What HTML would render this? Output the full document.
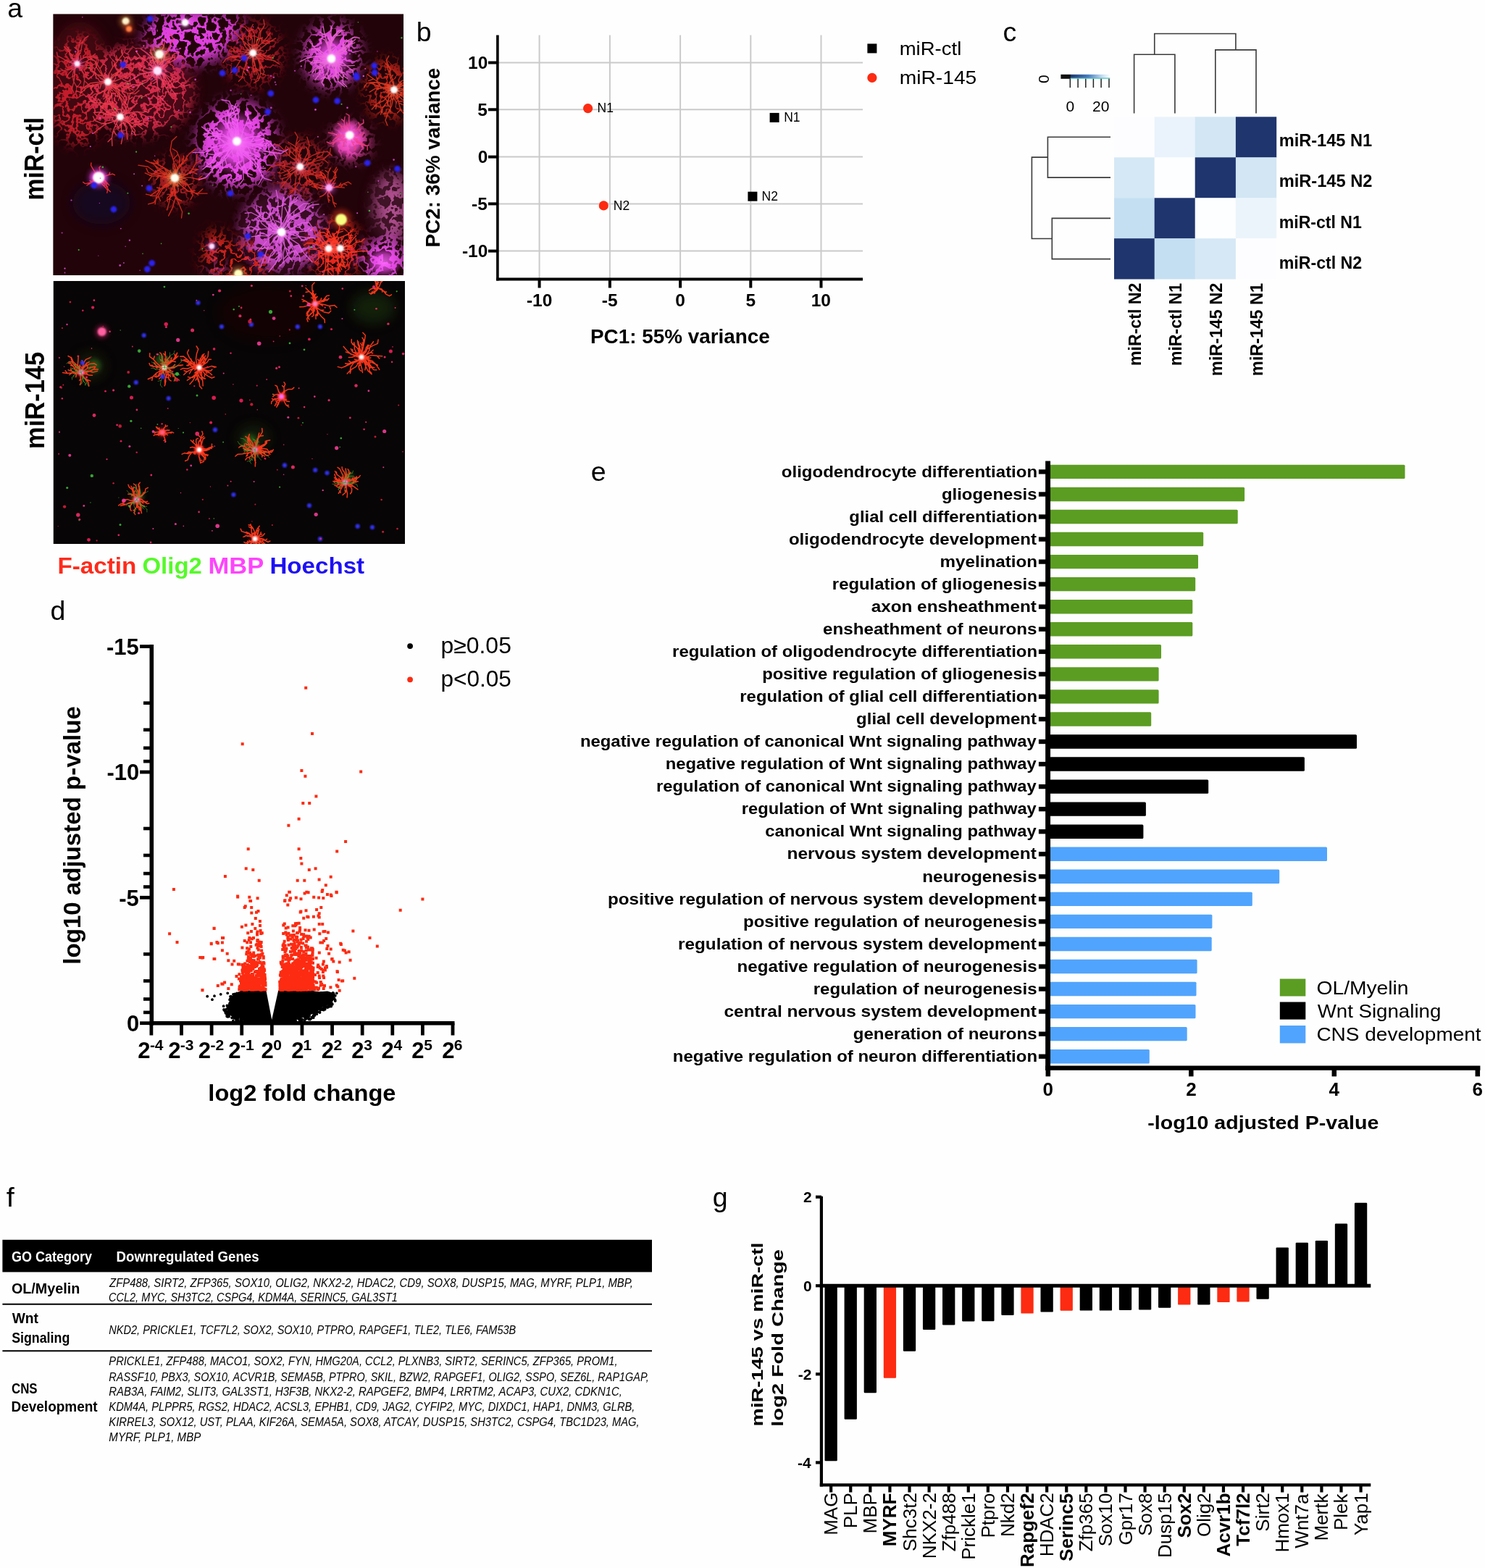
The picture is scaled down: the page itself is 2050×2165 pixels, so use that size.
<!DOCTYPE html><html><head><meta charset="utf-8"><title>Figure</title><style>html,body{margin:0;padding:0;background:#fff;}svg{display:block;}</style></head><body>
<svg width="2050" height="2165" viewBox="0 0 2050 2165" font-family="'Liberation Sans', Arial, Helvetica, sans-serif">
<rect x="0" y="0" width="2050" height="2165" fill="#fefefe"/>
<defs><clipPath id="c1"><rect x="73.2" y="19.2" width="484" height="361"/></clipPath><clipPath id="c2"><rect x="73.5" y="388" width="485.5" height="363"/></clipPath><filter id="b1" x="-50%" y="-50%" width="200%" height="200%"><feGaussianBlur stdDeviation="1.2"/></filter><filter id="b3" x="-50%" y="-50%" width="200%" height="200%"><feGaussianBlur stdDeviation="3"/></filter><filter id="b8" x="-50%" y="-50%" width="200%" height="200%"><feGaussianBlur stdDeviation="8"/></filter><filter id="bl" x="-20%" y="-20%" width="140%" height="140%"><feGaussianBlur stdDeviation="0.5"/></filter><filter id="mesh" x="0" y="0" width="100%" height="100%" filterUnits="userSpaceOnUse"><feGaussianBlur in="SourceGraphic" stdDeviation="9" result="s"/><feTurbulence type="fractalNoise" baseFrequency="0.075" numOctaves="3" seed="4" result="n"/><feColorMatrix in="n" type="matrix" values="0 0 0 0 0  0 0 0 0 0  0 0 0 0 0  1 0 0 0 0" result="a0"/><feComponentTransfer in="a0" result="a"><feFuncA type="table" tableValues="0 0 0 0 0 0 0 0 0 0 0 0 0 0 0 0 0 0 0 0 0 0 0.5 1 1 1 1 1 0.5 0 0 0 0 0 0 0 0 0 0 0 0 0 0 0 0 0 0 0 0 0 0"/></feComponentTransfer><feComposite in="s" in2="a" operator="in"/></filter><filter id="mesh2" x="0" y="0" width="100%" height="100%" filterUnits="userSpaceOnUse"><feGaussianBlur in="SourceGraphic" stdDeviation="10" result="s"/><feTurbulence type="fractalNoise" baseFrequency="0.07" numOctaves="3" seed="9" result="n"/><feColorMatrix in="n" type="matrix" values="0 0 0 0 0  0 0 0 0 0  0 0 0 0 0  1 0 0 0 0" result="a0"/><feComponentTransfer in="a0" result="a"><feFuncA type="table" tableValues="0 0 0 0 0 0 0 0 0 0 0 0 0 0 0 0 0 0 0 0 0 0.5 1 1 1 1 1 1 1 0.5 0 0 0 0 0 0 0 0 0 0 0 0 0 0 0 0 0 0 0 0 0"/></feComponentTransfer><feComposite in="s" in2="a" operator="in"/></filter></defs>
<g clip-path="url(#c1)">
<rect x="73.2" y="19.2" width="484" height="361" fill="#220309"/>
<g filter="url(#b8)" opacity="0.55"><ellipse cx="110" cy="110" rx="45" ry="80" fill="#5a0a18"/><ellipse cx="200" cy="120" rx="70" ry="60" fill="#6a1024"/><ellipse cx="540" cy="285" rx="30" ry="50" fill="#5a2040"/><ellipse cx="390" cy="320" rx="60" ry="55" fill="#50183a"/><ellipse cx="140" cy="280" rx="40" ry="30" fill="#0a0830"/></g>
<g filter="url(#mesh)"><ellipse cx="108" cy="125" rx="40" ry="75" fill="#c41c2c"/><ellipse cx="190" cy="125" rx="75" ry="62" fill="#d42a48"/><ellipse cx="241" cy="250" rx="30" ry="34" fill="#a81a20"/><ellipse cx="414" cy="232" rx="38" ry="40" fill="#a01a22"/><ellipse cx="349" cy="75" rx="40" ry="45" fill="#a01822"/><ellipse cx="536" cy="124" rx="32" ry="42" fill="#b82018"/><ellipse cx="462" cy="345" rx="38" ry="40" fill="#e8281c"/><ellipse cx="338" cy="360" rx="35" ry="25" fill="#d82418"/><ellipse cx="300" cy="350" rx="22" ry="32" fill="#c82018"/></g>
<g filter="url(#mesh2)"><ellipse cx="262" cy="50" rx="62" ry="38" fill="#e040e0"/><ellipse cx="318" cy="35" rx="16" ry="18" fill="#e040e0"/><ellipse cx="458" cy="76" rx="38" ry="44" fill="#f050e8"/><ellipse cx="327" cy="200" rx="55" ry="60" fill="#ee48ee"/><ellipse cx="390" cy="318" rx="55" ry="55" fill="#c848c8"/><ellipse cx="484" cy="196" rx="26" ry="24" fill="#f048b0"/><ellipse cx="530" cy="360" rx="32" ry="30" fill="#f050f0"/><ellipse cx="542" cy="285" rx="22" ry="45" fill="#b05090"/><ellipse cx="300" cy="370" rx="12" ry="10" fill="#e040a0"/></g>
<defs><radialGradient id="rgm"><stop offset="0" stop-color="#ff70ff"/><stop offset="0.5" stop-color="#e848e8" stop-opacity="0.85"/><stop offset="1" stop-color="#d040d0" stop-opacity="0"/></radialGradient><radialGradient id="rgp"><stop offset="0" stop-color="#ff70e0"/><stop offset="0.6" stop-color="#f048c0" stop-opacity="0.8"/><stop offset="1" stop-color="#e040b0" stop-opacity="0"/></radialGradient></defs>
<ellipse cx="327" cy="198" rx="42" ry="46" fill="url(#rgm)"/>
<ellipse cx="458" cy="78" rx="30" ry="32" fill="url(#rgm)" opacity="0.9"/>
<ellipse cx="481" cy="192" rx="26" ry="30" fill="url(#rgp)"/>
<ellipse cx="530" cy="362" rx="26" ry="22" fill="url(#rgm)" opacity="0.8"/>
<ellipse cx="136" cy="245" rx="14" ry="12" fill="url(#rgm)"/>
<path d="M349 73L358.6 76.4L367.1 82.1L377.2 83.2L385.9 88.6M349 73L355.3 75.8M355.3 75.8L359.7 73.8M355.3 75.8L362.2 75.3M362.2 75.3L366.3 77.8M362.2 75.3L368.8 77.3M368.8 77.3L373.4 75.9M368.8 77.3L375.1 80.1M375.1 80.1L378.9 77.1M375.1 80.1M349 73L356 80.7M356 80.7L363.1 81.8M356 80.7L358.8 90.6L359.8 101M359.8 101L366.5 103.7M359.8 101L356.8 110.9M356.8 110.9L350.5 114.5M356.8 110.9M349 73L354 78.8L358.5 85.1L361.6 92.1M361.6 92.1L358.6 96.6M361.6 92.1L364.8 99.1M364.8 99.1L362.9 104.1M364.8 99.1M349 73L349.9 80.6L351.9 88M351.9 88L349.5 92.8M351.9 88L353.3 95.5M353.3 95.5L358.1 97.9M353.3 95.5L353.7 103.1M349 73L348.8 80.6L348.5 88.2L350.1 95.6L351.1 103.1M349 73L348.8 80.9L350.9 88.4L354 95.6M354 95.6L350.7 100M354 95.6L356.8 103M356.8 103L355 108.2M356.8 103M349 73L342.3 79.9M342.3 79.9L335.8 81.3M342.3 79.9L339.3 89L336 98M336 98L339.8 103.6M336 98L334.2 107.4M334.2 107.4L329.4 112.2M334.2 107.4M349 73L340 76.4M340 76.4L336 81.9M340 76.4L330.4 77.7L320.8 77.7L311.9 81.4M311.9 81.4L307.8 86.8M311.9 81.4M349 73L342.1 74.3L335.9 77.7L328.9 78.1L322.1 79.7M322.1 79.7L317.7 77.3M322.1 79.7M349 73L340.7 72.5L332.6 70.9L324.3 70.7M324.3 70.7L320.4 66.4M324.3 70.7L316.1 70.1M349 73L339.1 76.3L331.6 83.7M331.6 83.7L324.5 82.1M331.6 83.7L326.2 92.6L318.9 100.2M349 73L342.9 69.1L338.1 63.6M338.1 63.6L338.4 58.6M338.1 63.6L335.3 57L334.5 49.8M334.5 49.8L338.2 46.4M334.5 49.8M349 73L344.9 66L342.2 58.3L343.2 50.2L344.4 42.2M344.4 42.2L349.7 40.1M344.4 42.2M349 73L344.2 64.3L336.9 57.6L330.1 50.4L322.8 43.6M349 73L348.1 63.4M348.1 63.4L342.6 59.5M348.1 63.4L348.3 53.8M348.3 53.8L343.2 49.3M348.3 53.8L344.3 45L338 37.7M338 37.7L331.6 35.7M338 37.7M349 73L349.8 64.2M349.8 64.2L354.3 60M349.8 64.2L351.6 55.6L351.1 46.7L346.4 39.2M346.4 39.2L349.2 33.7M346.4 39.2M349 73L352.3 63.6L356 54.5M356 54.5L362.5 52M356 54.5L358.2 44.8L364.5 37.1M349 73L354.4 63.9M354.4 63.9L354 56.5M354.4 63.9L358.7 54.3L360 43.8M360 43.8L355.9 37.6M360 43.8L365.2 34.6M365.2 34.6L363.9 27.3M365.2 34.6M349 73L354.9 66.1L361.3 59.5M361.3 59.5L361.1 53.1M361.3 59.5L367.5 52.8L372.9 45.5M349 73L357.4 68.8M357.4 68.8L363.7 70.6M357.4 68.8L364.9 63.1L372.4 57.3M372.4 57.3L378.9 56.4M372.4 57.3L380.7 52.9M349 73L353.8 68.6M353.8 68.6L358.3 68.9M353.8 68.6L357.4 63.2L362.4 59M362.4 59L366.7 60.4M362.4 59L368.2 56M368.2 56L372.4 57.8M368.2 56" fill="none" stroke="#d8302a" stroke-width="1.4" stroke-opacity="0.85" stroke-linecap="round" stroke-linejoin="round"/>
<path d="M544 124L553.2 124.9L562 122.2L570.2 117.9L577.5 112.3M577.5 112.3L578.4 105.9M577.5 112.3M544 124L553.1 127.3M553.1 127.3L555.7 133.6M553.1 127.3L561.5 132.3M561.5 132.3L568.3 132.5M561.5 132.3L568.2 139.4M568.2 139.4L566.4 145.9M568.2 139.4L572.1 148.3M544 124L548.4 132.6L550.4 141.9M550.4 141.9L556.5 144.8M550.4 141.9L553 151.2M553 151.2L548.4 156M553 151.2L558.7 158.9M544 124L550 130M550 130L555.7 131.5M550 130L557.3 134.3L563.1 140.5L571.1 143.3M544 124L543.1 135M543.1 135L547.2 141.5M543.1 135L540.7 145.7L536 155.6M536 155.6L528.5 157.2M536 155.6L532 165.9M532 165.9L534.8 173M532 165.9M544 124L549.1 131.6M549.1 131.6L546.9 137.5M549.1 131.6L555.7 137.8L564.2 141.2M564.2 141.2L570.5 140.4M564.2 141.2L573.3 140.9M544 124L540.5 130.9L539.7 138.7M539.7 138.7L534.7 140.9M539.7 138.7L538.5 146.3L539.1 154.1M544 124L538.9 132.3M538.9 132.3L542 138.4M538.9 132.3L534.2 140.9M534.2 140.9L537.1 147.1M534.2 140.9L528.3 148.6M528.3 148.6L527.6 155.4M528.3 148.6L525.6 158M544 124L536.4 131.1M536.4 131.1L536.5 138.4M536.4 131.1L529.7 139L520.2 143.3M520.2 143.3L518.8 150.4M520.2 143.3L513.3 151M544 124L537 124.8M537 124.8L533.5 128.3M537 124.8L530.3 122.6L524.5 118.6M524.5 118.6L524.1 113.7M524.5 118.6L520.2 113M520.2 113L521 108.1M520.2 113M544 124L535.5 121.6M535.5 121.6L529.5 123.1M535.5 121.6L526.6 121.9M526.6 121.9L523.2 116.7M526.6 121.9L517.8 122.4L510.2 127.1M544 124L535.6 120.5L526.5 120.5M526.5 120.5L521.1 123.8M526.5 120.5L518 117.2L509.4 114.2M544 124L536.4 117.3L526.7 114.8L516.6 113.8L506.6 114.6M506.6 114.6L502.7 120.5M506.6 114.6M544 124L534.8 118.4L524.7 114.8L515.7 109M515.7 109L508.7 111.7M515.7 109L507.1 102.6M544 124L543.4 113.5L539.5 103.6M539.5 103.6L532.3 101.8M539.5 103.6L537.8 93.2M537.8 93.2L532.7 87.9M537.8 93.2L533.2 83.7M533.2 83.7L536.7 77.2M533.2 83.7M544 124L542.9 115.8L539.1 108.4M539.1 108.4L542.4 103.5M539.1 108.4L537 100.3M537 100.3L538.8 94.8M537 100.3L534.7 92.3M544 124L549.2 117.3M549.2 117.3L555 116.4M549.2 117.3L555.2 111.3L563.2 108.6M563.2 108.6L568.9 110.3M563.2 108.6L570.3 103.8M544 124L550.1 121.8M550.1 121.8L551 117.4M550.1 121.8L555.3 118.1M555.3 118.1L559.7 118.8M555.3 118.1L560.7 114.7M560.7 114.7L561.1 110.2M560.7 114.7L567.1 113.8M567.1 113.8L569.9 117.3M567.1 113.8M544 124L550.2 117.8L557.8 113.5M557.8 113.5L563.9 114.6M557.8 113.5L563.4 106.7M563.4 106.7L562 100.7M563.4 106.7L570.8 101.9M544 124L551.1 122.1M551.1 122.1L552.9 117.3M551.1 122.1L558.5 123.1L565.5 120.9L572.2 117.9" fill="none" stroke="#e03a20" stroke-width="1.4" stroke-opacity="0.85" stroke-linecap="round" stroke-linejoin="round"/>
<path d="M241 246L250 248.2M250 248.2L255.6 245M250 248.2L257.9 253.1L262.8 261L266.1 269.7M266.1 269.7L263.1 275.5M266.1 269.7M241 246L250.2 244.2L259 240.8M259 240.8L263.2 235.7M259 240.8L265.5 233.9M265.5 233.9L272 233.5M265.5 233.9L270.1 225.7M241 246L251.8 245.1M251.8 245.1L258.6 248.2M251.8 245.1L262.6 245.1L273.1 247.5M273.1 247.5L279.1 242.9M273.1 247.5L283.8 246.1M241 246L249.8 251.2M249.8 251.2L256.7 249.4M249.8 251.2L258.9 255.7M258.9 255.7L265.6 253.3M258.9 255.7L264.9 263.9L273.6 269.2M241 246L242.2 253.7M242.2 253.7L246.7 256.9M242.2 253.7L240.5 261.4M240.5 261.4L242.6 266.4M240.5 261.4L236.4 268.1M236.4 268.1L231 268.4M236.4 268.1L230.7 273.3M230.7 273.3L231.5 278.7M230.7 273.3M241 246L249.8 255.8L260 264.1M260 264.1L269.2 263.1M260 264.1L272.9 267M272.9 267L279.8 260.9M272.9 267L286.1 267.1M241 246L241.3 258.2L241.2 270.4M241.2 270.4L246.8 276.9M241.2 270.4L246.9 281.3L251.6 292.5M251.6 292.5L250.5 301M251.6 292.5M241 246L238.7 257.1L235.9 268L233.6 279.1L230.5 290M241 246L240.7 253.9M240.7 253.9L245 257.4M240.7 253.9L240.3 261.7M240.3 261.7L242.8 266.7M240.3 261.7L237.8 269.2L232.8 275.3M241 246L239.9 259.5L242.3 272.8M242.3 272.8L250.7 277.3M242.3 272.8L238.6 285.9L232.6 298M241 246L234.2 255L224.4 260.7M224.4 260.7L216.6 259M224.4 260.7L218.4 270.3M218.4 270.3L221.5 277.6M218.4 270.3L212.3 279.8M212.3 279.8L204.6 281.9M212.3 279.8M241 246L231.2 252.5L222.2 260.2L215.9 270.2M215.9 270.2L207.6 270.4M215.9 270.2L214.1 281.9M241 246L233.5 252.7L225.5 258.8L216.7 263.8L208.4 269.6M208.4 269.6L201.5 268.1M208.4 269.6M241 246L231.6 246.5L223 242.8M223 242.8L216.5 244M223 242.8L213.8 240.9L204.8 238.4M204.8 238.4L201.9 232.5M204.8 238.4M241 246L230.8 240M230.8 240L227.1 232.6M230.8 240L220.7 233.9M220.7 233.9L213.3 237.6M220.7 233.9L211.6 226.3L200.9 221.5M241 246L230.8 243.7M230.8 243.7L223.9 246.2M230.8 243.7L220.3 243.1M220.3 243.1L215.1 248.3M220.3 243.1L209.8 243.1M209.8 243.1L205.4 249M209.8 243.1L200.3 238.9M241 246L228.4 241M228.4 241L219.2 243.2M228.4 241L215.2 238.3M215.2 238.3L206.6 242.4M215.2 238.3L204.3 230.2L191 228.1M241 246L234.4 240.9M234.4 240.9L235.3 235.2M234.4 240.9L226.3 239.1L218.8 235.4M218.8 235.4L213.8 238.4M218.8 235.4L213.9 228.7M241 246L233.8 239.6L227.6 232.2L218.9 227.9M218.9 227.9L216.2 221.7M218.9 227.9L212.3 221M241 246L235.6 237.4L227.1 231.9M227.1 231.9L220.3 233.6M227.1 231.9L218.3 226.9M218.3 226.9L218 219.8M218.3 226.9L208.5 224.3M241 246L243.3 238.3M243.3 238.3L242.1 232.8M243.3 238.3L246.1 230.8L251.4 224.8M251.4 224.8L252 219.2M251.4 224.8L258.2 220.6M258.2 220.6L257.9 215M258.2 220.6M241 246L245.6 234.1M245.6 234.1L242.5 225.8M245.6 234.1L253.4 224M253.4 224L253.5 215.1M253.4 224L260.3 213.3L270.1 205.2M241 246L242.2 232.9L239.1 220.2M239.1 220.2L245.2 213.4M239.1 220.2L235 207.8L237.2 194.8M237.2 194.8L243.8 188.4M237.2 194.8M241 246L243 236.4L247.4 227.7L247.9 218L244 209M244 209L238.1 205.5M244 209M241 246L253.4 243.3L264 236.4M264 236.4L271.9 240.5M264 236.4L270.3 225.4M270.3 225.4L278.1 221.2M270.3 225.4L272.3 212.9M241 246L248.7 241.7L257.5 240.6L265.8 237.6M265.8 237.6L271.5 240M265.8 237.6L273.7 233.6" fill="none" stroke="#e0301e" stroke-width="1.4" stroke-opacity="0.85" stroke-linecap="round" stroke-linejoin="round"/>
<path d="M414 230L425.1 227.4L435.3 222.4L446.3 219.8M446.3 219.8L452.6 224.7M446.3 219.8L455.2 212.6M455.2 212.6L456.3 204.8M455.2 212.6M414 230L421.8 235.4M421.8 235.4L428.4 236M421.8 235.4L430.2 239.9M430.2 239.9L436.4 237.7M430.2 239.9L438.8 243.9M438.8 243.9L444.2 240.1M438.8 243.9L447.9 246.8M414 230L418.4 240.3L424.8 249.5M424.8 249.5L432.7 250.1M424.8 249.5L434.6 255.1M434.6 255.1L438.3 262M434.6 255.1L444.2 260.8M414 230L419.6 236.3M419.6 236.3L425.5 236.4M419.6 236.3L426.8 240.8L435.2 241.8M435.2 241.8L437.6 247.1M435.2 241.8L443.6 241.7M443.6 241.7L447.8 245.8M443.6 241.7M414 230L418.5 235.3M418.5 235.3L418.4 240.2M418.5 235.3L422.3 241.1M422.3 241.1L421 245.8M422.3 241.1L423.7 247.9L422.8 254.8M414 230L415.3 241M415.3 241L412.2 248M415.3 241L413.1 251.8L407 261M407 261L400 264.2M407 261L399.1 268.7M414 230L408.6 235.2M408.6 235.2L409.2 240.3M408.6 235.2L402.8 239.8M402.8 239.8L397.5 239.7M402.8 239.8L396.8 244.3L389.7 246.6M414 230L409.6 236.4M409.6 236.4L404.4 237.9M409.6 236.4L408.8 244.1L407.8 251.7L407.1 259.4M407.1 259.4L411.6 262.5M407.1 259.4M414 230L407 236.4M407 236.4L407.4 243.1M407 236.4L400.4 243.3L394.6 250.8M394.6 250.8L388.3 252.9M394.6 250.8L388.8 258.4M414 230L408.2 232.7L402.4 235.5L397.7 239.7M397.7 239.7L397.2 244.1M397.7 239.7L391.9 242.4M414 230L407.5 232.2M407.5 232.2L403.2 230M407.5 232.2L400.7 233M400.7 233L398.2 237.1M400.7 233L394.7 236.3M394.7 236.3L390.4 234M394.7 236.3L388.4 239.1M388.4 239.1L383.7 238.2M388.4 239.1M414 230L403.8 231.6L393.8 229.2M393.8 229.2L390.9 222.6M393.8 229.2L383.5 227.8L373.7 230.8M373.7 230.8L368.7 236.1M373.7 230.8M414 230L407.9 221.9M407.9 221.9L408.6 214.8M407.9 221.9L399.8 215.7M399.8 215.7L399.6 208.6M399.8 215.7L392.9 208.2M392.9 208.2L395.2 201.5M392.9 208.2L385.8 200.9M385.8 200.9L378.9 199.3M385.8 200.9M414 230L413.2 223.3L411.9 216.7M411.9 216.7L415.6 213.7M411.9 216.7L410.2 210.2M410.2 210.2L406.2 207.6M410.2 210.2L409.3 203.5M414 230L410.3 220.1M410.3 220.1L403.1 218.6M410.3 220.1L408.1 209.8M408.1 209.8L411.4 203.2M408.1 209.8L408.4 199.2M408.4 199.2L413.6 193.9M408.4 199.2L410.9 189M410.9 189L407.2 182.6M410.9 189M414 230L415.3 219.7M415.3 219.7L412 213.3M415.3 219.7L412.4 209.8M412.4 209.8L417.2 204.4M412.4 209.8L406.4 201.4L397.6 196M414 230L412.1 222L407.4 215.4L401.7 209.5L396.9 202.9M414 230L419.9 220.6M419.9 220.6L427 217.3M419.9 220.6L425 210.7M425 210.7L423.5 203.1M425 210.7L427 199.7L423.8 189.1M414 230L421.5 221.5M421.5 221.5L429.4 220.4M421.5 221.5L430.8 214.9L441.2 210.5L452.5 209.3M452.5 209.3L458.2 214.9M452.5 209.3M414 230L422.3 227.1M422.3 227.1L424.9 221.5M422.3 227.1L430.6 224M430.6 224L434.2 219M430.6 224L437.5 218.5L445.2 214.1M445.2 214.1L447.1 208.2M445.2 214.1" fill="none" stroke="#d02c22" stroke-width="1.4" stroke-opacity="0.85" stroke-linecap="round" stroke-linejoin="round"/>
<path d="M454 259L459.3 258.1M459.3 258.1L461.3 254.9M459.3 258.1L464.6 258.5L470 258.6M470 258.6L472.8 256.1M470 258.6L475.3 259.1M454 259L461.1 259.4M461.1 259.4L465.3 257M461.1 259.4L467.6 256.8M467.6 256.8L470.5 252.8M467.6 256.8L474.1 253.9M474.1 253.9L478.7 255.7M474.1 253.9L480.6 251.2M480.6 251.2L484.7 254M480.6 251.2M454 259L454.9 266.1L459 272L459.8 279.2M459.8 279.2L464.2 281.7M459.8 279.2L462.8 285.7M454 259L453.7 264.1M453.7 264.1L455.9 267.1M453.7 264.1L452.3 269.1M452.3 269.1L454.6 271.9M452.3 269.1L452.9 274.2M452.9 274.2L455.3 276.9M452.9 274.2L453.9 279.2M454 259L452 263.2L449.3 266.9L445.9 270L441.7 271.7M454 259L448.1 260.5L442.1 259.7L436.1 259.2M436.1 259.2L433.5 255.8M436.1 259.2L430.3 257.4M454 259L446.7 256.8M446.7 256.8L442.5 260M446.7 256.8L439.3 255.2L432.2 252.6M432.2 252.6L427.8 255.5M432.2 252.6L426.9 247.2M454 259L450.3 254L447.8 248.3L445.2 242.6M445.2 242.6L440.9 241.6M445.2 242.6L441.9 237.2M454 259L452.5 252.5M452.5 252.5L454.2 248.2M452.5 252.5L450.5 246.2M450.5 246.2L446.7 243.5M450.5 246.2L447.2 240.4L441.9 236.5M454 259L453.9 252M453.9 252L457.1 248.3M453.9 252L452.5 245.1L453.1 238.2M453.1 238.2L449 235.4M453.1 238.2L456.3 231.9M454 259L455.8 252.2L460 246.5M460 246.5L464.6 244.8M460 246.5L462.8 240M462.8 240L459.8 236.2M462.8 240L465.8 233.6M454 259L458.6 254.1M458.6 254.1L463.1 252.9M458.6 254.1L462.4 248.6L463.6 242M463.6 242L461.2 237.9M463.6 242L462.2 235.4M462.2 235.4L464.4 231.2M462.2 235.4" fill="none" stroke="#e83020" stroke-width="1.4" stroke-opacity="0.85" stroke-linecap="round" stroke-linejoin="round"/>
<path d="M457 81L464.8 84.7M464.8 84.7L469.9 81.4M464.8 84.7L473.2 86.9L480.2 92.2L487 97.5M487 97.5L488 103.5M487 97.5M457 81L465.6 86.3M465.6 86.3L472.5 84.9M465.6 86.3L471.6 94.5M471.6 94.5L470.8 101.5M471.6 94.5L473.6 104.4M473.6 104.4L479.5 108.4M473.6 104.4L473.3 114.5M473.3 114.5L478.4 119.4M473.3 114.5M457 81L460.6 86.5M460.6 86.5L460.2 91M460.6 86.5L463.3 92.4M463.3 92.4L462.2 96.9M463.3 92.4L464.9 98.8L463.2 105.1M457 81L464 86.3M464 86.3L464.8 92.3M464 86.3L471.8 90.2L480.5 90.9L489.3 90.4M457 81L462.7 90.7L463.2 101.9M463.2 101.9L458.3 108M463.2 101.9L467.1 112.4L475.6 119.8M457 81L462.2 86.2L467.2 91.5M467.2 91.5L468.5 96.5M467.2 91.5L470.4 98.1L475.1 103.7M457 81L454.3 89.5L453.2 98.4M453.2 98.4L449.1 103.1M453.2 98.4L448.5 106M448.5 106L443 109M448.5 106L444 113.7M444 113.7L447.3 119M444 113.7M457 81L457.6 88.9M457.6 88.9L462.4 91.8M457.6 88.9L461.2 96L467.2 101.3L472.4 107.3M457 81L449.4 86.5M449.4 86.5L442.9 86.3M449.4 86.5L444 94.2M444 94.2L444.8 100.7M444 94.2L440.8 103L434.8 110.2M457 81L455.9 88.4L452.9 95.4L452 102.8L454.1 110M457 81L453.6 86.3L448.3 89.8M448.3 89.8L448.7 94.2M448.3 89.8L443.1 93.3L437.1 95.4M457 81L450.8 86.6L443.1 89.7L436.1 94.4M436.1 94.4L435.3 100.2M436.1 94.4L430.8 100.9M457 81L451 84.1M451 84.1L449.1 88.4M451 84.1L444.4 85.8M444.4 85.8L441.2 89.2M444.4 85.8L437.7 86.8L431 86.3M457 81L447.9 77.8M447.9 77.8L442.1 81.1M447.9 77.8L440.2 72.1L433.7 65.1L427.6 57.6M457 81L450.6 81.3M450.6 81.3L448 84.9M450.6 81.3L444.4 82.8M444.4 82.8L441.2 79.7M444.4 82.8L438.1 83.6M438.1 83.6L435.3 87.1M438.1 83.6L431.8 84.1M431.8 84.1L429.1 87.7M431.8 84.1M457 81L446.4 77.7L435.3 77.7L424.5 80.2L414.5 85M457 81L450.6 78.4L446 73.2L440.8 68.7L434.2 66.8M434.2 66.8L429.9 69M434.2 66.8M457 81L456.9 69.5M456.9 69.5L463 64.3M456.9 69.5L451.8 59.3L448.3 48.3M448.3 48.3L441.5 44.1M448.3 48.3L446.2 37M457 81L456 69.9L457.3 58.8M457.3 58.8L453.2 52.2M457.3 58.8L463.6 49.6M463.6 49.6L471.3 48.3M463.6 49.6L471.8 42M457 81L454.9 70L458.2 59.2M458.2 59.2L452.7 53.6M458.2 59.2L456.9 48.1L457.3 36.9M457 81L455.7 70.3L455.7 59.4L460.5 49.7L468.1 42.1M468.1 42.1L475.7 41.9M468.1 42.1M457 81L455.3 74.3L453.2 67.7L451.3 61L448.3 54.8M448.3 54.8L443.7 53.2M448.3 54.8M457 81L463 73.3M463 73.3L469.3 70.6M463 73.3L471.9 69.4M471.9 69.4L478.5 71M471.9 69.4L479.9 63.7L486.1 56.2M457 81L465.3 73.7M465.3 73.7L472.9 73M465.3 73.7L473.1 66M473.1 66L474.2 58.3M473.1 66L479 56.7M479 56.7L486.7 56.4M479 56.7L488.7 51.4M488.7 51.4L496.3 52.5M488.7 51.4M457 81L462.8 73.3L470.9 68.2M470.9 68.2L477.1 70.8M470.9 68.2L479.2 63.4L486.6 57.2M457 81L466.7 75.7M466.7 75.7L473.4 79.4M466.7 75.7L476.4 70.7M476.4 70.7L477.3 63M476.4 70.7L482.7 61.6M482.7 61.6L489.8 58.8M482.7 61.6L490.7 54.2" fill="none" stroke="#e868d0" stroke-width="1.4" stroke-opacity="0.85" stroke-linecap="round" stroke-linejoin="round"/>
<path d="M327 198L341.9 202.8M341.9 202.8L347.2 212.4M341.9 202.8L356.8 207.9L372.3 210.1L387.9 212M387.9 212L397.3 206.4M387.9 212M327 198L336.4 197.2L345.9 197.6L355.1 199.6L364.3 201.7M364.3 201.7L369.4 197.5M364.3 201.7M327 198L340 199.9L353.1 201.3L364.7 207.7L377.4 211.2M377.4 211.2L381.9 219.2M377.4 211.2M327 198L333.2 205L340.7 210.5L349.8 212.2L357.4 217.6M327 198L333.4 207.9L342.4 215.5M342.4 215.5L350.4 213.4M342.4 215.5L351.9 222.5M351.9 222.5L352.7 230.7M351.9 222.5L358.3 232.4M358.3 232.4L366.6 232.2M358.3 232.4M327 198L337.1 209.2L349.1 218.5L357.3 231.2L362.4 245.4M362.4 245.4L356.9 254.5M362.4 245.4M327 198L330.7 208.3L335.7 218L337.1 228.8M337.1 228.8L332.8 235.1M337.1 228.8L340.9 239.1M340.9 239.1L348.1 241.7M340.9 239.1M327 198L334 211.8L345.9 221.6M345.9 221.6L345.1 232.4M345.9 221.6L356.6 232.8L364.6 246.1M364.6 246.1L374.9 249.4M364.6 246.1M327 198L327.8 210.8M327.8 210.8L334 217.2M327.8 210.8L329.6 223.4M329.6 223.4L324.2 230.5M329.6 223.4L335.5 234.8L336.1 247.6M336.1 247.6L330.7 254.7M336.1 247.6M327 198L319.9 208.1M319.9 208.1L322 216.4M319.9 208.1L312.8 218.1L304 226.7L292.3 230.6M292.3 230.6L285.9 224.8M292.3 230.6M327 198L317.2 206.4L310.3 217.5M310.3 217.5L312.6 226.3M310.3 217.5L301.3 226.8L290.7 234.3M327 198L315 206.9L301.5 213.5L291.5 224.6L279.8 233.9M327 198L315.2 208.6L307.1 222.2M307.1 222.2L307.6 233.2M307.1 222.2L295 232.3M295 232.3L284.2 229.6M295 232.3L284.8 244.5M284.8 244.5L274.4 248.3M284.8 244.5M327 198L316.3 202.5L307.2 209.6L296.4 213.7M296.4 213.7L293.6 221.3M296.4 213.7L284.9 212.3M327 198L311.2 199.1M311.2 199.1L303.4 191.3M311.2 199.1L295.8 203.1L281.9 210.6L266 210.6M327 198L318.1 193.2L309.2 188.4L299.1 187.7M299.1 187.7L294.7 193.3M299.1 187.7L289 188.2M289 188.2L283.5 192.7M289 188.2M327 198L313.3 197.3M313.3 197.3L306.6 204.2M313.3 197.3L301.4 190.3M301.4 190.3L299.2 180.9M301.4 190.3L289.6 183.3M289.6 183.3L280.4 186.2M289.6 183.3L278.5 175.1M327 198L316.9 190.9L306.2 184.8M306.2 184.8L297.8 186.6M306.2 184.8L293.9 184.1M293.9 184.1L288.6 177.3M293.9 184.1L281.6 183.9M327 198L320.7 189.8L318.5 179.7L312.7 171.1L311.1 160.9M327 198L322.9 190.2L318.3 182.6M318.3 182.6L320.5 176.8M318.3 182.6L314.9 174.4L310.2 166.9M310.2 166.9L304.7 164.1M310.2 166.9M327 198L318.5 187.4M318.5 187.4L319.3 178M318.5 187.4L313.9 174.7M313.9 174.7L316.4 165.5M313.9 174.7L316 161.3M316 161.3L322.9 154.7M316 161.3L321.1 148.7M327 198L325.3 187.8L324.5 177.6M324.5 177.6L319.1 172.8M324.5 177.6L320.7 168L318.6 157.9M327 198L325.1 185.9M325.1 185.9L328.9 178.1M325.1 185.9L327 173.7M327 173.7L321.2 167.3M327 173.7L329.6 161.7L327.3 149.7M327.3 149.7L320 145.1M327.3 149.7M327 198L321.5 187.3M321.5 187.3L322.3 178.9M321.5 187.3L319 175.5L316.1 163.8M316.1 163.8L322.4 158.2M316.1 163.8L314 151.9M327 198L333 189.9L335.7 180.2L339.6 170.8M339.6 170.8L346.6 170M339.6 170.8L343.2 161.4M343.2 161.4L340.1 155.1M343.2 161.4M327 198L329.1 183L327.6 167.8M327.6 167.8L318.5 162.2M327.6 167.8L322.5 153.5M322.5 153.5L325.4 143.3M322.5 153.5L316.5 139.6M316.5 139.6L306.1 137.7M316.5 139.6M327 198L340.3 189.5L356 188.4L370.4 194.5L380.6 206.5M380.6 206.5L391.4 208.9M380.6 206.5M327 198L337.5 196.3L347.8 199.1M347.8 199.1L350.2 206.1M347.8 199.1L358.4 199.1M358.4 199.1L364.3 194.5M358.4 199.1L368.7 201.8M368.7 201.8L374.5 197.2M368.7 201.8M327 198L333.9 192.4M333.9 192.4L340.2 191.7M333.9 192.4L342.5 189.8L351.4 189.3L360.1 187.2M327 198L336.4 195.9L346 195.7M346 195.7L350.3 190.6M346 195.7L355.3 193.7L364.7 191.7" fill="none" stroke="#f060f0" stroke-width="1.4" stroke-opacity="0.85" stroke-linecap="round" stroke-linejoin="round"/>
<path d="M388 320L400 329.1M400 329.1L410.6 328.4M400 329.1L412.6 337.4M412.6 337.4L416.5 347.2M412.6 337.4L420.2 350.5L430.7 361.3M388 320L396.8 319.2M396.8 319.2L400.8 323.8M396.8 319.2L405.5 320.5M405.5 320.5L410.1 324.5M405.5 320.5L414.2 319.8L423 318.7M423 318.7L427.6 314.7M423 318.7M388 320L394.3 328.7L402.5 335.7M402.5 335.7L403.3 343.2M402.5 335.7L407.1 345.5L413.7 354M413.7 354L414.1 361.6M413.7 354M388 320L394.4 325.9L398 333.8L402.6 341.2L406.7 348.9M406.7 348.9L404.8 354.7M406.7 348.9M388 320L399.4 322.4M399.4 322.4L406.8 319M399.4 322.4L410.4 326.3L422 327.9L433.7 328.4M388 320L391.5 330.2L393.3 340.9M393.3 340.9L398.6 346.3M393.3 340.9L390.8 351.4L391.6 362.2M391.6 362.2L386 367.2M391.6 362.2M388 320L389.1 331L393.6 341.2L397.2 351.7M397.2 351.7L391.8 357.3M397.2 351.7L403.7 360.7M388 320L388.7 335.1L387 350.1M387 350.1L379.7 357.7M387 350.1L380.4 363.7L370.9 375.5M388 320L387.3 329.3L389.2 338.5L387.1 347.6M387.1 347.6L381.5 351M387.1 347.6L389 356.7M389 356.7L384.7 361.6M389 356.7M388 320L387.1 329.2L386.9 338.5L389.2 347.5L388.8 356.7M388 320L383.6 330.7L381.1 342.1L373.8 351.1L370.2 362.2M388 320L377.9 323.3L370.2 330.6L363.3 338.7L356.1 346.5M388 320L378.3 330.6L369.8 342.1M369.8 342.1L359.8 343M369.8 342.1L364.7 355.6L359.7 369M388 320L377.7 321.9L368 325.9L357.5 325.2L347.2 326.9M388 320L377.2 319.9M377.2 319.9L372.3 314.2M377.2 319.9L367.2 315.9L356.5 317M356.5 317L353.3 323.8M356.5 317L346.5 312.9M346.5 312.9L339.3 315.2M346.5 312.9M388 320L378.1 319.7L369.4 314.9L361.6 308.7L356.1 300.4M388 320L377.6 315.9M377.6 315.9L370.1 318.1M377.6 315.9L368.6 309.2M368.6 309.2L366.2 301.8M368.6 309.2L362.2 300M362.2 300L364.9 292.6M362.2 300L354.5 291.9M354.5 291.9L354.3 284.1M354.5 291.9M388 320L383 312L375.2 306.8M375.2 306.8L368.6 306.5M375.2 306.8L365.9 305.5L356.5 304.8M388 320L376.8 314.8L367.8 306.4M367.8 306.4L359.3 305.1M367.8 306.4L357.8 299.1L346.9 293.5M346.9 293.5L338.3 294.4M346.9 293.5M388 320L380.1 314.5L374.2 306.9M374.2 306.9L376.9 300.7M374.2 306.9L372.2 297.4M372.2 297.4L367.4 292.7M372.2 297.4L374.4 288.1M388 320L382.2 312M382.2 312L375.5 309.9M382.2 312L377.5 303.2L373.6 294L369.7 284.9M388 320L388.4 305.4L383.7 291.6L383.9 276.9L381.2 262.6M388 320L387.8 308.1M387.8 308.1L380.2 304.4M387.8 308.1L389 296.2L389.8 284.3L391.8 272.5M388 320L395.5 307.8L405.4 297.4M405.4 297.4L415.2 299.7M405.4 297.4L418.4 291.2M418.4 291.2L423.3 282.5M418.4 291.2L430.1 283M430.1 283L440.1 282M430.1 283M388 320L392.9 308.3M392.9 308.3L400.3 303.4M392.9 308.3L399.5 297.5L408.9 289L418.9 281.2M418.9 281.2L427.8 281.1M418.9 281.2M388 320L391.3 306.9L397.2 294.8M397.2 294.8L393.2 286.2M397.2 294.8L402.1 282.2M402.1 282.2L409.9 276.8M402.1 282.2L410.7 271.8M388 320L393.6 308.2L399.9 296.8L400.7 283.8L407.1 272.5M388 320L394.1 308.3L398.2 295.7L399.7 282.6M399.7 282.6L405.8 275.6M399.7 282.6L401.2 269.4M388 320L394.2 314.4L399.6 307.9M399.6 307.9L405.2 306.2M399.6 307.9L404.5 301.1L406 292.8M388 320L398.1 318L407.1 312.9M407.1 312.9L414.1 314.3M407.1 312.9L416.2 308.2L426.5 307.2M426.5 307.2L430.6 313.1M426.5 307.2" fill="none" stroke="#e060e0" stroke-width="1.4" stroke-opacity="0.85" stroke-linecap="round" stroke-linejoin="round"/>
<path d="M454 343L461 343.2M461 343.2L464 347M461 343.2L468 342.8M468 342.8L471.6 346.1M468 342.8L474.7 344.5L481.7 344.2M454 343L460.8 344.7L467.7 343.2M467.7 343.2L472.1 345.5M467.7 343.2L474.6 341.3L481.4 339.5M481.4 339.5L485.6 342.1M481.4 339.5M454 343L460.7 348.6L465.1 356.2L468.2 364.4M468.2 364.4L473.2 368.1M468.2 364.4L471.7 372.5M454 343L451.9 353L452.9 363.2M452.9 363.2L458.3 367.9M452.9 363.2L452.6 373.4M452.6 373.4L457.4 378.6M452.6 373.4L453.2 383.6M454 343L449.7 351.1L449.6 360.3L449.2 369.5L446.9 378.4M446.9 378.4L441.7 382.2M446.9 378.4M454 343L453.9 351.4L453.9 359.7L451.2 367.6L447 374.8M447 374.8L447.2 380.7M447 374.8M454 343L447.2 343.1L440.4 342.1L433.9 344.1L427.1 344.2M454 343L446.6 340.7M446.6 340.7L441.3 341.8M446.6 340.7L439.2 338.5M439.2 338.5L435.6 334.5M439.2 338.5L431.9 335.9L424.2 335.5M424.2 335.5L419.6 338.5M424.2 335.5M454 343L446.9 337.3M446.9 337.3L440.6 338M446.9 337.3L441.5 330M441.5 330L435.1 330.5M441.5 330L435.5 323.2L432.2 314.7M454 343L450.8 336.8M450.8 336.8L452.4 332.2M450.8 336.8L446.5 331.4L443.2 325.3L441.4 318.5M454 343L451.7 336.9L447.3 332L443.5 326.7L437.9 323.3M454 343L460.3 334.1M460.3 334.1L467.8 335.1M460.3 334.1L469.3 328L479.5 324M479.5 324L487 325.5M479.5 324L487.6 316.7M454 343L457.3 335L463.7 329.1L467.3 321.2M467.3 321.2L473.1 319.3M467.3 321.2L469 312.6M469 312.6L465.5 307.7M469 312.6M454 343L459.2 338.4L465.9 336.8M465.9 336.8L469.3 340.2M465.9 336.8L471.4 332.6M471.4 332.6L471.2 327.8M471.4 332.6L474.5 326.4M474.5 326.4L478.6 323.9M474.5 326.4" fill="none" stroke="#ff3a20" stroke-width="1.4" stroke-opacity="0.85" stroke-linecap="round" stroke-linejoin="round"/>
<path d="M470 343L477.2 340M477.2 340L482.6 341.1M477.2 340L485 339L491.5 334.7M491.5 334.7L491.2 329.2M491.5 334.7L499.2 333.2M499.2 333.2L503.1 329.4M499.2 333.2M470 343L478.5 347.7L488.1 348.3L497.6 346.5L507.3 346.9M470 343L471.7 351.8M471.7 351.8L476 356.3M471.7 351.8L471.4 360.8M471.4 360.8L475.2 365.8M471.4 360.8L467.7 369M467.7 369L470 374.9M467.7 369L466.2 377.9M470 343L471.4 349.6L471.4 356.4M471.4 356.4L474.1 360.3M471.4 356.4L474.5 362.5L476.2 369M470 343L470.5 349.2L470.7 355.4M470.7 355.4L473.5 358.7M470.7 355.4L472.6 361.3M472.6 361.3L476.8 362.3M472.6 361.3L474.2 367.4M474.2 367.4L477.3 370.4M474.2 367.4M470 343L460.6 347.1L450.8 349.7L441.7 354.3L434.7 361.7M470 343L463.1 342.7L456.5 344.4L449.6 345.2L443 343.5M443 343.5L441.9 338.8M443 343.5M470 343L462.1 344.9M462.1 344.9L456.8 343.1M462.1 344.9L455.3 349.4L447.3 350.7L439.4 349.2M470 343L463.1 339.8L455.6 338.3L448.2 336.3M448.2 336.3L443.4 338.8M448.2 336.3L442.1 331.6M442.1 331.6L442.1 326.2M442.1 331.6M470 343L466.3 335.6L460.8 329.5M460.8 329.5L455.1 330.6M460.8 329.5L453.8 325.1L446.9 320.7M446.9 320.7L441.1 321.3M446.9 320.7M470 343L466.4 335.8L460.5 330.3M460.5 330.3L454.9 329.3M460.5 330.3L455.7 323.8L452.4 316.5M452.4 316.5L446.9 315.2M452.4 316.5M470 343L467.7 337.4M467.7 337.4L469.1 333.4M467.7 337.4L464.6 332.2L460.6 327.6L458.6 321.9M470 343L474.3 338.3M474.3 338.3L472.9 334M474.3 338.3L479.3 334.2L482.7 328.8M482.7 328.8L487 327.6M482.7 328.8L485.2 322.9M470 343L476.4 339.8L482.7 336.5M482.7 336.5L483.9 331.6M482.7 336.5L486.9 330.7L491.7 325.3" fill="none" stroke="#ff3a20" stroke-width="1.4" stroke-opacity="0.85" stroke-linecap="round" stroke-linejoin="round"/>
<path d="M150 113L158.6 118.7L166.3 125.6L176.1 128.6M176.1 128.6L177.7 135.7M176.1 128.6L186.4 129.6M186.4 129.6L192 125M186.4 129.6M150 113L156.7 120.1M156.7 120.1L163.5 118.9M156.7 120.1L163.3 127.3M163.3 127.3L161.7 133.9M163.3 127.3L169.9 134.5L173.3 143.6M150 113L158.7 115.4M158.7 115.4L160.2 121.6M158.7 115.4L167.2 118.6L176.1 120.2M176.1 120.2L179.6 125.5M176.1 120.2L184.2 124.4M150 113L150.3 122.1M150.3 122.1L155.5 125.7M150.3 122.1L154.2 130.3L154.9 139.3M154.9 139.3L158.9 144.3M154.9 139.3L157 148.2M150 113L153.6 120.7L159.9 126.3M159.9 126.3L165.5 124.3M159.9 126.3L165.2 132.9M165.2 132.9L163.4 138.6M165.2 132.9L170 139.9M150 113L151 122.8M151 122.8L148.1 129.1M151 122.8L148.2 132.3M148.2 132.3L142.9 136.7M148.2 132.3L144.7 141.6M144.7 141.6L146.4 148.3M144.7 141.6L140.7 150.6M150 113L147.6 119.7M147.6 119.7L149.3 124.4M147.6 119.7L143.6 125.5M143.6 125.5L143.5 130.5M143.6 125.5L137.6 129.3L130.5 129.9M130.5 129.9L126.8 133.2M130.5 129.9M150 113L141.5 113.4L132.9 113.8L124.5 115L117.2 119.5M117.2 119.5L116.6 125.4M117.2 119.5M150 113L139.9 115.3M139.9 115.3L137.8 122.3M139.9 115.3L129.7 117.3M129.7 117.3L124.7 122.6M129.7 117.3L119.9 120.8L112.3 127.9M112.3 127.9L105.4 125.5M112.3 127.9M150 113L140 108.7L132 101.3L123.7 94.3L113.1 91.6M150 113L143.3 107.1M143.3 107.1L144.4 101M143.3 107.1L138.2 99.9L133 92.6L131.2 83.9M150 113L142.5 105M142.5 105L135 103.3M142.5 105L137.9 95M137.9 95L142.3 88.7M137.9 95L132.4 85.5L123.5 79.1M150 113L150.3 102.2L155.6 92.8M155.6 92.8L154.4 85.3M155.6 92.8L162.3 84.2M162.3 84.2L160.6 76.9M162.3 84.2L168.8 75.6M168.8 75.6L167.6 68.1M168.8 75.6M150 113L155.2 103.9M155.2 103.9L162.5 103.9M155.2 103.9L164 98.1L169.4 89.2M169.4 89.2L166.8 82.3M169.4 89.2L173.1 79.3M150 113L155.1 107.2M155.1 107.2L154 101.9M155.1 107.2L161 102.1L166.9 97.2M166.9 97.2L168.5 92M166.9 97.2L170.3 90.2M170.3 90.2L175.7 89.6M170.3 90.2M150 113L159.6 111.7L168.4 108L177.2 103.9L183.6 96.7M183.6 96.7L184.8 90.1M183.6 96.7" fill="none" stroke="#e83a40" stroke-width="1.4" stroke-opacity="0.85" stroke-linecap="round" stroke-linejoin="round"/>
<path d="M166 161L172.5 162.8M172.5 162.8L176.5 160.4M172.5 162.8L179.2 163.1M179.2 163.1L183.1 160.4M179.2 163.1L185.3 165.9L191.6 168.4M191.6 168.4L195.8 166.2M191.6 168.4M166 161L170.6 166.4M170.6 166.4L175.5 166.2M170.6 166.4L176.9 169.7L182.1 174.5L186.5 180.1M186.5 180.1L185.5 185M186.5 180.1M166 161L174.3 164.3L181.3 169.9M181.3 169.9L187.4 168.3M181.3 169.9L189.9 172.6M189.9 172.6L195.6 170.2M189.9 172.6L196.9 178.2M166 161L173.3 165.6M173.3 165.6L179.2 164.9M173.3 165.6L179.5 171.5M179.5 171.5L181.3 177.2M179.5 171.5L182.4 179.6M182.4 179.6L181.2 185.5M182.4 179.6L187.4 186.5M166 161L169.5 168.5L173.7 175.7L175.1 183.9L175.8 192.2M166 161L167.7 170.3M167.7 170.3L163.7 175.7M167.7 170.3L167.5 179.8M167.5 179.8L171 185.5M167.5 179.8L169.2 189.2L167.3 198.5M166 161L160.7 170.3M160.7 170.3L163.8 177.1M160.7 170.3L156.4 180.1M156.4 180.1L160.7 186.3M156.4 180.1L154.4 190.6M154.4 190.6L149 195.7M154.4 190.6L154.9 201.3M166 161L158.6 167.1L149.7 170.4L140.2 170.3L131.3 166.7M131.3 166.7L128.5 160.7M131.3 166.7M166 161L157.2 167.4L146.8 170.8L137.7 176.8L129.4 183.8M166 161L155.1 159.3M155.1 159.3L149.5 154M155.1 159.3L146 153.1L138 145.6M138 145.6L138 137.9M138 145.6L130.8 137.3M166 161L157 158.1L147.5 158.3M147.5 158.3L141.8 154.9M147.5 158.3L138.7 154.7L129.2 155.5M166 161L160.5 156.6M160.5 156.6L160.4 151.7M160.5 156.6L155.5 151.8M155.5 151.8L150.6 151.2M155.5 151.8L152.9 145.3M152.9 145.3L155.1 140.9M152.9 145.3L148.3 140.1M166 161L158.4 154.7M158.4 154.7L151.9 157.1M158.4 154.7L153.7 146.1L150.3 136.8M150.3 136.8L154.2 131.1M150.3 136.8L150.6 126.9M166 161L160.9 151L151.6 144.6L140.6 142.2M140.6 142.2L135.2 136.4M140.6 142.2L129.4 141.4M129.4 141.4L123 136.8M129.4 141.4M166 161L168 151.8L168.7 142.3L165 133.6M165 133.6L158.7 131.7M165 133.6L164.3 124.2M164.3 124.2L158.3 121.3M164.3 124.2M166 161L171.2 153.8M171.2 153.8L169.2 147.9M171.2 153.8L175.8 146.2M175.8 146.2L172.6 140.9M175.8 146.2L177.7 137.5M177.7 137.5L182.9 134.1M177.7 137.5L179.8 128.9M179.8 128.9L185.6 126.6M179.8 128.9M166 161L172.7 157.4M172.7 157.4L175 152.6M172.7 157.4L177.7 151.7M177.7 151.7L176.1 146.7M177.7 151.7L183.6 147L189.7 142.5M166 161L173.2 157M173.2 157L175.4 151.7M173.2 157L181.2 155.5M181.2 155.5L186.4 158M181.2 155.5L189.3 154.3M189.3 154.3L194.4 157M189.3 154.3L197.5 155.4M197.5 155.4L202.7 153.1M197.5 155.4" fill="none" stroke="#f04050" stroke-width="1.4" stroke-opacity="0.85" stroke-linecap="round" stroke-linejoin="round"/>
<path d="M217 97L224.8 100.8M224.8 100.8L225.5 106.8M224.8 100.8L230.9 107L236.2 113.8L240.4 121.4M217 97L226.7 102L236.1 107.5L245.5 113L254.5 119M254.5 119L261.8 116.8M254.5 119M217 97L220.8 104.1L224.8 111.2M224.8 111.2L230.4 112.1M224.8 111.2L225.7 119.2L224.2 127.2M217 97L226.2 103.3L231.7 113L236.4 123M236.4 123L235.1 130.7M236.4 123L243.2 131.9M217 97L219 105.7L224.6 112.8L228.9 120.7M228.9 120.7L235.1 121.8M228.9 120.7L233.9 128.1M217 97L217 108.5M217 108.5L209.9 112.5M217 108.5L217.7 120L218.1 131.6M218.1 131.6L224.1 137M218.1 131.6L217.6 143.1M217 97L209.8 104.8L202.9 112.9L193.2 117.2M193.2 117.2L188.8 123.2M193.2 117.2L182.6 116.7M182.6 116.7L176.7 121.3M182.6 116.7M217 97L215.7 104.6M215.7 104.6L219.6 108.4M215.7 104.6L216.4 112.3M216.4 112.3L211.9 115.3M216.4 112.3L217.6 120M217.6 120L221.4 123.8M217.6 120L220.6 127.1M217 97L206.3 99.6M206.3 99.6L203.4 106.8M206.3 99.6L195.4 101.7L186 107.4L176.3 112.8M176.3 112.8L169.4 109.3M176.3 112.8M217 97L210.7 100.3M210.7 100.3L205.7 99.8M210.7 100.3L203.6 100.8L196.6 102.4M196.6 102.4L191.9 100.9M196.6 102.4L189.6 103.5M217 97L210.6 99.5L203.7 100L197.3 97.3L190.8 95.1M217 97L209.7 96.3M209.7 96.3L205.8 92.9M209.7 96.3L202.4 94.7L195.7 91.8L190.1 87M217 97L209 91.1M209 91.1L208.1 84.1M209 91.1L201.9 84.1L193.5 78.6M193.5 78.6L187.4 82M193.5 78.6L187.5 70.6M217 97L214 87.8M214 87.8L207.5 86.2M214 87.8L209.6 79.3L202.3 73.1L194.4 67.5M217 97L217.3 85.4M217.3 85.4L212.4 78.8M217.3 85.4L220 74L226.3 64.3M226.3 64.3L222.4 57.1M226.3 64.3L227.5 52.7M217 97L215.2 89.8L211.4 83.5L210.2 76.2M210.2 76.2L206.7 72.3M210.2 76.2L207.4 69.3M217 97L219.3 89.5M219.3 89.5L217.5 84.2M219.3 89.5L225 83.9L232.4 81.1L240 79.1M217 97L224.5 92.9L229.9 86.4L236.9 81.5M236.9 81.5L238.1 75.7M236.9 81.5L240.7 73.9M240.7 73.9L246.6 73.2M240.7 73.9M217 97L224.7 87.4L227.8 75.5M227.8 75.5L234.2 69.7M227.8 75.5L233.6 64.6L239.2 53.7M239.2 53.7L234.3 46.7M239.2 53.7M217 97L224.1 91.1L232.5 87.2M232.5 87.2L235.5 81.4M232.5 87.2L240.7 82.7M240.7 82.7L241.5 76.3M240.7 82.7L248.1 77.2M248.1 77.2L254 79.8M248.1 77.2" fill="none" stroke="#f04060" stroke-width="1.4" stroke-opacity="0.85" stroke-linecap="round" stroke-linejoin="round"/>
<path d="M106 88L112.4 90.5L119.3 90.4M119.3 90.4L121.9 86.3M119.3 90.4L126.2 90.4M126.2 90.4L129.5 94M126.2 90.4L132.5 87.6M132.5 87.6L133.7 83M132.5 87.6M106 88L112.6 87.2L118.8 84.9M118.8 84.9L122.4 87.7M118.8 84.9L124.4 81.5M124.4 81.5L128.5 83.6M124.4 81.5L130.2 78.3M106 88L108.9 92.9L112.4 97.5L115.4 102.5M115.4 102.5L115.2 106.5M115.4 102.5L118.6 107.2M106 88L112 94.7L116.3 102.6M116.3 102.6L122.3 104.2M116.3 102.6L116.5 111.6M116.5 111.6L121.2 115.8M116.5 111.6L115.2 120.5M106 88L103.5 96.4L103.1 105.2L101.7 113.9L99.2 122.3M99.2 122.3L101.8 127.9M99.2 122.3M106 88L102.3 95.5M102.3 95.5L102.8 101.4M102.3 95.5L100.3 103.7L101.4 112L105.6 119.3M105.6 119.3L111.2 120.9M105.6 119.3M106 88L103.5 93.5L98.9 97.4L94.7 101.8L91.9 107.1M106 88L101.3 93.4L94.9 96.6M94.9 96.6L90.2 94.9M94.9 96.6L87.8 97.6M87.8 97.6L83.6 95M87.8 97.6L80.7 97.9M106 88L98.8 86.9L92.1 84.1L85.8 80.4L79.3 77.1M79.3 77.1L78.4 72.1M79.3 77.1M106 88L101.5 83.9M101.5 83.9L97.3 84.6M101.5 83.9L99 78.4M99 78.4L101.3 74.9M99 78.4L95.9 73.2L95.2 67.1M95.2 67.1L92 64.4M95.2 67.1M106 88L102.2 83.6L98 79.7L95.5 74.4L95.7 68.6M106 88L101.3 82.2L98.5 75.4L93.5 69.9M93.5 69.9L94.9 64.9M93.5 69.9L88.6 64.3M106 88L105.8 78.9M105.8 78.9L109.9 73.9M105.8 78.9L107.4 69.8M107.4 69.8L102.9 65.3M107.4 69.8L110.6 61.3L117 54.7M106 88L107.3 79M107.3 79L104.7 73.2M107.3 79L111.7 71.1L113 62.1L116.3 53.6M116.3 53.6L121.5 49.9M116.3 53.6M106 88L108 79.9L107.8 71.6M107.8 71.6L112.6 68.5M107.8 71.6L108.5 63.4L110.9 55.4M106 88L111.7 82.2M111.7 82.2L111.4 76.4M111.7 82.2L118.9 78.2M118.9 78.2L124.6 78.9M118.9 78.2L127 77.8M127 77.8L131.6 74.3M127 77.8L135 79.7" fill="none" stroke="#d83040" stroke-width="1.4" stroke-opacity="0.85" stroke-linecap="round" stroke-linejoin="round"/>
<path d="M136 245L140.2 247M140.2 247L143.1 245.4M140.2 247L144.6 248.7M144.6 248.7L145 251.9M144.6 248.7L147.6 252.2M147.6 252.2L147.1 255.5M147.6 252.2L150.7 255.8M136 245L140.1 248.7M140.1 248.7L144 249.1M140.1 248.7L143.3 253.3M143.3 253.3L147.2 252.9M143.3 253.3L147.5 256.9L149.5 262.1M149.5 262.1L152.4 264.7M149.5 262.1M136 245L138.8 249.6L141.2 254.5M141.2 254.5L144.5 256.5M141.2 254.5L145 258.4M145 258.4L148.7 257.8M145 258.4L148.5 262.5M148.5 262.5L147.8 266.2M148.5 262.5M136 245L132.4 248.2L128.3 250.9M128.3 250.9L125 250.2M128.3 250.9L124.1 253.3L119.9 255.9M136 245L131.4 247.5L127.4 250.8M127.4 250.8L124 249.6M127.4 250.8L122.6 252.8L117.5 253.6M117.5 253.6L114.6 251.4M117.5 253.6M136 245L132.7 241.3L130.6 236.8L127.9 232.7L125.5 228.4M125.5 228.4L125.9 224.9M125.5 228.4M136 245L136.8 241.5L138 238.2L137.8 234.6L136.9 231.2M136.9 231.2L138.7 229.4M136.9 231.2M136 245L140.7 243.4M140.7 243.4L141.9 240.1M140.7 243.4L145.7 243L150.4 241.4M150.4 241.4L151.7 238.1M150.4 241.4L155.3 240.1M155.3 240.1L158.4 241.7M155.3 240.1" fill="none" stroke="#ff3030" stroke-width="1.4" stroke-opacity="0.85" stroke-linecap="round" stroke-linejoin="round"/>
<path d="M483 187L488.7 189L492.8 193.5L497.2 197.8L500.4 202.9M483 187L487.8 191.4L492.1 196.4L498.3 198.6M498.3 198.6L499.5 203M498.3 198.6L504.2 201.4M504.2 201.4L508.7 200.7M504.2 201.4M483 187L488.6 191.5M488.6 191.5L493.6 191.8M488.6 191.5L494.3 195.9L501.1 198.3L507.1 202.1M507.1 202.1L507.2 207.2M507.1 202.1M483 187L484.8 191.4L486 196M486 196L489.2 196.9M486 196L488.3 200.2L491 204.1M491 204.1L489.7 207.1M491 204.1M483 187L480.6 190.9L477.1 193.7M477.1 193.7L473.9 194.3M477.1 193.7L474.7 197.6L474.1 202.1M483 187L477.4 191.9M477.4 191.9L478 197M477.4 191.9L470.2 194L463 195.9M463 195.9L459.3 199.6M463 195.9L455.9 198.1M455.9 198.1L451.2 196M455.9 198.1M483 187L475.4 188.4M475.4 188.4L471.6 192.2M475.4 188.4L467.7 188M467.7 188L463.5 191.4M467.7 188L460.9 184.4L453.3 183.2M483 187L476.5 185.8M476.5 185.8L473.1 188.9M476.5 185.8L470.1 187.1M470.1 187.1L466 185M470.1 187.1L464 189.7L459.4 194.4M483 187L478.9 181.3L476 175M476 175L471.2 174.2M476 175L475.1 168M475.1 168L471.7 164.5M475.1 168L476.2 161.1M483 187L479.8 183L475.4 180.4M475.4 180.4L471.8 180.4M475.4 180.4L471.7 176.8M471.7 176.8L471.7 173.2M471.7 176.8L469.5 172.2M469.5 172.2L466.4 170.4M469.5 172.2M483 187L480.8 182.9L478.9 178.6L478.8 173.9L478.8 169.2M483 187L482.8 180.1L482.4 173.3L481.8 166.4L482 159.5M482 159.5L477.9 157M482 159.5M483 187L487.6 182.4L493.2 178.9M493.2 178.9L497.7 179.2M493.2 178.9L496.5 173.2M496.5 173.2L494.9 169M496.5 173.2L502 169.7M502 169.7L501.6 165.1M502 169.7M483 187L487.6 186.5L491.9 187.9M491.9 187.9L494.9 186.8M491.9 187.9L496.4 187.3L500.8 185.9M500.8 185.9L502.5 183.2M500.8 185.9" fill="none" stroke="#f04080" stroke-width="1.4" stroke-opacity="0.85" stroke-linecap="round" stroke-linejoin="round"/>
<circle cx="173.6" cy="29.3" r="9" fill="#ffa040" opacity="0.4" filter="url(#b3)"/><circle cx="173.6" cy="29.3" r="5" fill="#fff8d0" filter="url(#b1)"/>
<circle cx="255.5" cy="31.3" r="9" fill="#ff80ff" opacity="0.4" filter="url(#b3)"/><circle cx="255.5" cy="31.3" r="5" fill="#ffffff" filter="url(#b1)"/>
<circle cx="220" cy="75" r="10.8" fill="#ffc060" opacity="0.4" filter="url(#b3)"/><circle cx="220" cy="75" r="6" fill="#fffff0" filter="url(#b1)"/>
<circle cx="217.5" cy="97.7" r="10.8" fill="#ff70c0" opacity="0.4" filter="url(#b3)"/><circle cx="217.5" cy="97.7" r="6" fill="#ffe8ff" filter="url(#b1)"/>
<circle cx="149" cy="113" r="9" fill="#ff6080" opacity="0.4" filter="url(#b3)"/><circle cx="149" cy="113" r="5" fill="#ffffff" filter="url(#b1)"/>
<circle cx="106.5" cy="88" r="7.2" fill="#ff70ff" opacity="0.4" filter="url(#b3)"/><circle cx="106.5" cy="88" r="4" fill="#fff0ff" filter="url(#b1)"/>
<circle cx="166" cy="161.5" r="9" fill="#ff6080" opacity="0.4" filter="url(#b3)"/><circle cx="166" cy="161.5" r="5" fill="#ffffff" filter="url(#b1)"/>
<circle cx="349.2" cy="73.2" r="9" fill="#ff8080" opacity="0.4" filter="url(#b3)"/><circle cx="349.2" cy="73.2" r="5" fill="#ffffff" filter="url(#b1)"/>
<circle cx="457.5" cy="81" r="10.8" fill="#ff80ff" opacity="0.4" filter="url(#b3)"/><circle cx="457.5" cy="81" r="6" fill="#ffffff" filter="url(#b1)"/>
<circle cx="544" cy="124" r="9" fill="#ff8060" opacity="0.4" filter="url(#b3)"/><circle cx="544" cy="124" r="5" fill="#ffffff" filter="url(#b1)"/>
<circle cx="136.2" cy="245.2" r="14.4" fill="#ff50ff" opacity="0.4" filter="url(#b3)"/><circle cx="136.2" cy="245.2" r="8" fill="#ffffff" filter="url(#b1)"/>
<circle cx="241.3" cy="245.8" r="10.8" fill="#ffd060" opacity="0.4" filter="url(#b3)"/><circle cx="241.3" cy="245.8" r="6" fill="#fffff0" filter="url(#b1)"/>
<circle cx="414.3" cy="230.3" r="9" fill="#ff80c0" opacity="0.4" filter="url(#b3)"/><circle cx="414.3" cy="230.3" r="5" fill="#ffffff" filter="url(#b1)"/>
<circle cx="454.3" cy="259.3" r="9" fill="#ff60ff" opacity="0.4" filter="url(#b3)"/><circle cx="454.3" cy="259.3" r="5" fill="#ffb0ff" filter="url(#b1)"/>
<circle cx="388.5" cy="320.6" r="10.8" fill="#ff80ff" opacity="0.4" filter="url(#b3)"/><circle cx="388.5" cy="320.6" r="6" fill="#ffffff" filter="url(#b1)"/>
<circle cx="453.7" cy="343.2" r="9" fill="#ff6060" opacity="0.4" filter="url(#b3)"/><circle cx="453.7" cy="343.2" r="5" fill="#ffffff" filter="url(#b1)"/>
<circle cx="469.8" cy="343" r="9" fill="#ff6060" opacity="0.4" filter="url(#b3)"/><circle cx="469.8" cy="343" r="5" fill="#ffffff" filter="url(#b1)"/>
<circle cx="471" cy="303.2" r="14.4" fill="#ff4020" opacity="0.4" filter="url(#b3)"/><circle cx="471" cy="303.2" r="8" fill="#f8ff80" filter="url(#b1)"/>
<circle cx="329" cy="378" r="10.8" fill="#ffa040" opacity="0.4" filter="url(#b3)"/><circle cx="329" cy="378" r="6" fill="#ffffc0" filter="url(#b1)"/>
<circle cx="482.7" cy="186.7" r="10.8" fill="#ff60ff" opacity="0.4" filter="url(#b3)"/><circle cx="482.7" cy="186.7" r="6" fill="#ffffff" filter="url(#b1)"/>
<circle cx="327" cy="195" r="10.8" fill="#ff80ff" opacity="0.4" filter="url(#b3)"/><circle cx="327" cy="195" r="6" fill="#ffffff" filter="url(#b1)"/>
<circle cx="292.3" cy="340" r="7.2" fill="#ff60ff" opacity="0.4" filter="url(#b3)"/><circle cx="292.3" cy="340" r="4" fill="#ffe0ff" filter="url(#b1)"/>
<circle cx="178" cy="40" r="7.2" fill="#ff4020" opacity="0.4" filter="url(#b3)"/><circle cx="178" cy="40" r="4" fill="#ff8040" filter="url(#b1)"/>
<g filter="url(#b1)"><circle cx="207" cy="26" r="4.3" fill="#2a22f0"/><circle cx="169.8" cy="89.3" r="4.3" fill="#2a22f0"/><circle cx="307" cy="101" r="4.3" fill="#2a22f0"/><circle cx="166.5" cy="186.7" r="4.3" fill="#2a22f0"/><circle cx="337" cy="80.3" r="4.3" fill="#2a22f0"/><circle cx="324" cy="97" r="4.3" fill="#2a22f0"/><circle cx="373.8" cy="129" r="4.3" fill="#2a22f0"/><circle cx="436" cy="138" r="4.3" fill="#2a22f0"/><circle cx="465.6" cy="139.5" r="4.3" fill="#2a22f0"/><circle cx="369.6" cy="154.5" r="4.3" fill="#2a22f0"/><circle cx="491.5" cy="104" r="4.3" fill="#2a22f0"/><circle cx="516.7" cy="90.7" r="4.3" fill="#2a22f0"/><circle cx="517.3" cy="100.4" r="4.3" fill="#2a22f0"/><circle cx="492.5" cy="107" r="4.3" fill="#2a22f0"/><circle cx="205.9" cy="260" r="4.3" fill="#2a22f0"/><circle cx="156.9" cy="289" r="4.3" fill="#2a22f0"/><circle cx="209.7" cy="363.2" r="4.3" fill="#2a22f0"/><circle cx="203.3" cy="371.6" r="4.3" fill="#2a22f0"/><circle cx="129.8" cy="256" r="4.3" fill="#2a22f0"/><circle cx="507.2" cy="225" r="4.3" fill="#2a22f0"/><circle cx="548.5" cy="233" r="4.3" fill="#2a22f0"/><circle cx="318" cy="267" r="4.3" fill="#2a22f0"/><circle cx="342" cy="326" r="4.3" fill="#2a22f0"/><circle cx="360" cy="351" r="4.3" fill="#2a22f0"/></g>
<g opacity="0.8"><circle cx="507.9" cy="265.3" r="0.8" fill="#40d040"/><circle cx="166.8" cy="315.6" r="0.9" fill="#e050e0"/><circle cx="198.4" cy="63.4" r="1.1" fill="#ff60ff"/><circle cx="185.3" cy="107.4" r="0.9" fill="#e050e0"/><circle cx="138" cy="163" r="1.3" fill="#e050e0"/><circle cx="236.3" cy="175.2" r="1" fill="#40d040"/><circle cx="430.9" cy="316.2" r="0.9" fill="#ff60ff"/><circle cx="411.9" cy="342" r="1.4" fill="#e050e0"/><circle cx="135.8" cy="353.1" r="0.7" fill="#d040d0"/><circle cx="113.8" cy="23.7" r="0.7" fill="#ff60ff"/><circle cx="339.8" cy="233.5" r="1" fill="#e050e0"/><circle cx="141.8" cy="230.7" r="1.3" fill="#40d040"/><circle cx="464.2" cy="185.7" r="0.8" fill="#ff60ff"/><circle cx="188.7" cy="70.7" r="1.2" fill="#ff60ff"/><circle cx="281" cy="76.2" r="1.2" fill="#e050e0"/><circle cx="262.5" cy="239.1" r="1.1" fill="#d040d0"/><circle cx="475.9" cy="94" r="0.8" fill="#e050e0"/><circle cx="286.6" cy="177.6" r="1" fill="#ff60ff"/><circle cx="429.8" cy="279.5" r="0.7" fill="#40d040"/><circle cx="447.2" cy="296" r="1.1" fill="#e050e0"/><circle cx="422.1" cy="352.1" r="1" fill="#e050e0"/><circle cx="205.4" cy="135.7" r="1.3" fill="#d040d0"/><circle cx="108.7" cy="345.1" r="1.1" fill="#40d040"/><circle cx="197" cy="350.3" r="0.8" fill="#40d040"/><circle cx="343.4" cy="93.3" r="1.2" fill="#ff60ff"/><circle cx="178.9" cy="331.8" r="1.2" fill="#e050e0"/><circle cx="432.6" cy="104.8" r="0.9" fill="#e050e0"/><circle cx="222.6" cy="336.4" r="0.8" fill="#40d040"/><circle cx="213.7" cy="215.3" r="0.8" fill="#e050e0"/><circle cx="176.6" cy="115.4" r="1.2" fill="#40d040"/><circle cx="504.2" cy="94.8" r="0.9" fill="#ff60ff"/><circle cx="196.1" cy="256.5" r="1" fill="#e050e0"/><circle cx="350.2" cy="363.3" r="1.1" fill="#d040d0"/><circle cx="124.8" cy="202.3" r="1" fill="#ff60ff"/><circle cx="173.2" cy="340.2" r="0.8" fill="#d040d0"/><circle cx="214.8" cy="235.8" r="0.9" fill="#d040d0"/><circle cx="362" cy="301.7" r="1.1" fill="#e050e0"/><circle cx="379.5" cy="214.4" r="0.9" fill="#ff60ff"/><circle cx="435.5" cy="151.4" r="1.3" fill="#ff60ff"/><circle cx="358.3" cy="369.1" r="0.8" fill="#40d040"/><circle cx="89.5" cy="376.5" r="0.9" fill="#e050e0"/><circle cx="485.6" cy="344.1" r="1" fill="#d040d0"/><circle cx="438.9" cy="188.7" r="1" fill="#e050e0"/><circle cx="552.6" cy="267.4" r="1" fill="#40d040"/><circle cx="377.9" cy="106.7" r="1.2" fill="#e050e0"/><circle cx="445.5" cy="100" r="0.7" fill="#e050e0"/><circle cx="195.4" cy="135.2" r="1.1" fill="#40d040"/><circle cx="128" cy="183.9" r="1" fill="#ff60ff"/><circle cx="440.5" cy="60.9" r="0.9" fill="#e050e0"/><circle cx="445.3" cy="375.6" r="1.1" fill="#e050e0"/><circle cx="380.8" cy="116.8" r="1" fill="#d040d0"/><circle cx="538.3" cy="233.8" r="0.7" fill="#d040d0"/><circle cx="85.6" cy="321.4" r="1" fill="#d040d0"/><circle cx="224.9" cy="138" r="0.8" fill="#ff60ff"/><circle cx="432" cy="286.7" r="1.2" fill="#ff60ff"/><circle cx="170.9" cy="363" r="0.9" fill="#e050e0"/><circle cx="374.1" cy="104.8" r="1.3" fill="#d040d0"/><circle cx="376.8" cy="80.2" r="1.1" fill="#40d040"/><circle cx="193.1" cy="373.2" r="0.7" fill="#e050e0"/><circle cx="262.5" cy="155.1" r="1.4" fill="#e050e0"/><circle cx="506.7" cy="376" r="0.9" fill="#ff60ff"/><circle cx="403.1" cy="278.3" r="1.1" fill="#e050e0"/><circle cx="89.5" cy="370.7" r="1.1" fill="#ff60ff"/><circle cx="196.8" cy="115.7" r="0.9" fill="#40d040"/><circle cx="379.8" cy="113.5" r="1.1" fill="#e050e0"/><circle cx="274.4" cy="230.5" r="0.8" fill="#e050e0"/><circle cx="415.9" cy="91.4" r="1.2" fill="#e050e0"/><circle cx="491.3" cy="230.2" r="1.1" fill="#d040d0"/><circle cx="384.3" cy="279.9" r="0.8" fill="#e050e0"/><circle cx="137.4" cy="280.5" r="0.7" fill="#d040d0"/><circle cx="104.2" cy="71.2" r="1.2" fill="#d040d0"/><circle cx="279.5" cy="343.6" r="1" fill="#40d040"/><circle cx="471.5" cy="143.8" r="1.1" fill="#40d040"/><circle cx="509.9" cy="290.9" r="1.2" fill="#40d040"/><circle cx="217.1" cy="42.5" r="1" fill="#e050e0"/><circle cx="246.9" cy="152.3" r="1" fill="#ff60ff"/><circle cx="185.1" cy="240.2" r="0.9" fill="#ff60ff"/><circle cx="429.9" cy="341.3" r="1.3" fill="#40d040"/><circle cx="188.1" cy="209.7" r="1.1" fill="#40d040"/><circle cx="479.5" cy="148.8" r="1.2" fill="#ff60ff"/><circle cx="501.8" cy="105" r="1.2" fill="#ff60ff"/><circle cx="182.5" cy="184.6" r="0.8" fill="#ff60ff"/><circle cx="209.8" cy="108.9" r="1.1" fill="#d040d0"/><circle cx="267.2" cy="38.7" r="1.1" fill="#d040d0"/><circle cx="226.9" cy="55.8" r="1.1" fill="#e050e0"/><circle cx="349.6" cy="37.2" r="0.8" fill="#ff60ff"/><circle cx="123.4" cy="93.4" r="0.9" fill="#40d040"/><circle cx="208.7" cy="39" r="1" fill="#ff60ff"/><circle cx="383.1" cy="250.4" r="0.7" fill="#d040d0"/><circle cx="346.7" cy="131.4" r="0.7" fill="#ff60ff"/><circle cx="540.4" cy="372.6" r="1" fill="#e050e0"/><circle cx="494.4" cy="30.7" r="0.8" fill="#40d040"/><circle cx="260.6" cy="294.8" r="1.4" fill="#40d040"/><circle cx="355.2" cy="55" r="1.1" fill="#40d040"/><circle cx="493.2" cy="294.2" r="1" fill="#ff60ff"/><circle cx="184.5" cy="119.6" r="1" fill="#ff60ff"/><circle cx="522.4" cy="249.9" r="1.1" fill="#e050e0"/><circle cx="176.4" cy="266.7" r="1" fill="#40d040"/><circle cx="520.9" cy="71" r="0.8" fill="#d040d0"/><circle cx="554.5" cy="52.2" r="1.2" fill="#40d040"/><circle cx="429.2" cy="318" r="1.3" fill="#ff60ff"/><circle cx="399.6" cy="286.2" r="1" fill="#40d040"/><circle cx="341.4" cy="96.8" r="1.2" fill="#ff60ff"/><circle cx="98.5" cy="276.5" r="1.1" fill="#e050e0"/><circle cx="247.8" cy="239.5" r="1" fill="#e050e0"/><circle cx="293.9" cy="255.8" r="0.7" fill="#40d040"/><circle cx="165.7" cy="366.5" r="1.4" fill="#e050e0"/><circle cx="332.7" cy="129.8" r="0.8" fill="#40d040"/><circle cx="320.1" cy="235.8" r="1.4" fill="#e050e0"/><circle cx="374.3" cy="148.8" r="1.3" fill="#e050e0"/><circle cx="269.7" cy="109.9" r="1.3" fill="#e050e0"/><circle cx="428.6" cy="74.9" r="1.3" fill="#e050e0"/><circle cx="407" cy="97.7" r="1" fill="#e050e0"/><circle cx="359.4" cy="229.7" r="1.4" fill="#d040d0"/><circle cx="158.7" cy="150.1" r="1.2" fill="#40d040"/><circle cx="339.6" cy="302.7" r="1" fill="#d040d0"/><circle cx="204.5" cy="163.5" r="1.4" fill="#e050e0"/><circle cx="318.6" cy="124.7" r="1.3" fill="#d040d0"/><circle cx="138.5" cy="246.1" r="0.9" fill="#e050e0"/><circle cx="543.6" cy="220.6" r="1.3" fill="#e050e0"/></g>
</g>
<g clip-path="url(#c2)">
<rect x="73.5" y="388" width="485.5" height="363" fill="#080506"/>
<g filter="url(#b8)" opacity="0.5"><ellipse cx="515" cy="425" rx="30" ry="22" fill="#1a3a10"/><ellipse cx="350" cy="605" rx="22" ry="18" fill="#1a3010"/><ellipse cx="125" cy="505" rx="20" ry="18" fill="#203010"/><ellipse cx="370" cy="432" rx="70" ry="40" fill="#1e0606"/></g>
<g filter="url(#b1)"><circle cx="275" cy="621" r="7" fill="#ff2a18" opacity="0.85"/><circle cx="355" cy="621" r="7" fill="#ff2a18" opacity="0.85"/><circle cx="189" cy="690" r="6" fill="#ff2a18" opacity="0.85"/><circle cx="476.5" cy="666" r="5" fill="#ff2a18" opacity="0.85"/><circle cx="435" cy="420" r="5" fill="#ff2a18" opacity="0.85"/><circle cx="389" cy="548" r="6" fill="#ff2a18" opacity="0.85"/><circle cx="227" cy="507" r="4" fill="#ff2a18" opacity="0.85"/><circle cx="112" cy="514" r="5" fill="#ff2a18" opacity="0.85"/><circle cx="224" cy="597" r="5" fill="#ff2a18" opacity="0.85"/><circle cx="352" cy="744" r="5" fill="#ff2a18" opacity="0.85"/><circle cx="499" cy="493" r="4" fill="#ff2a18" opacity="0.85"/><circle cx="275" cy="507" r="4" fill="#ff2a18" opacity="0.85"/></g>
<g filter="url(#b3)" opacity="0.5"><circle cx="345" cy="610" r="10" fill="#3a8a20"/><circle cx="130" cy="505" r="9" fill="#3a8a20"/><circle cx="222" cy="498" r="8" fill="#3a8a20"/><circle cx="190" cy="685" r="8" fill="#3a8a20"/><circle cx="480" cy="660" r="8" fill="#3a8a20"/></g>
<path d="M435 419.6L439.9 418.3M439.9 418.3L441.9 415.4M439.9 418.3L444.6 416.4L447.8 412.5L451 408.6M451 408.6L454.5 407.9M451 408.6M435 419.6L441.7 419.6M441.7 419.6L445.6 422.4M441.7 419.6L448.4 420.7L454.8 422.6M454.8 422.6L456.4 427M454.8 422.6L461.5 421.4M461.5 421.4L465 424.5M461.5 421.4M435 419.6L437.5 425.1L442.6 428.3M442.6 428.3L446.8 428.3M442.6 428.3L447.9 431.1L453.9 432.2M453.9 432.2L456.8 429.2M453.9 432.2M435 419.6L437 423.8M437 423.8L436.1 426.9M437 423.8L437.9 428.4L438 433M438 433L435.4 435.1M438 433L435.9 437.2M435.9 437.2L436.1 440.4M435.9 437.2M435 419.6L436.9 425.7L439.5 431.6M439.5 431.6L438.3 435.9M439.5 431.6L443.4 436.7L448.1 441.1M448.1 441.1L448.4 445.6M448.1 441.1M435 419.6L434.7 423.7M434.7 423.7L436.5 425.8M434.7 423.7L433.9 427.6L432.8 431.5L433 435.6M433 435.6L430.6 437.1M433 435.6M435 419.6L433.8 423.5L431 426.4M431 426.4L430.3 429.2M431 426.4L427.3 428.2M427.3 428.2L426.1 430.8M427.3 428.2L424.1 430.7M424.1 430.7L423.2 433.4M424.1 430.7M435 419.6L433.1 425.3M433.1 425.3L434.2 429.4M433.1 425.3L431.6 431.1M431.6 431.1L428.3 433.8M431.6 431.1L427.3 435.4M427.3 435.4L423.1 435.3M427.3 435.4L423.6 440.1M423.6 440.1L425 444.1M423.6 440.1M435 419.6L431.1 423.6M431.1 423.6L427.4 422.5M431.1 423.6L426.8 427.1L424.9 432.3L424.9 437.9M424.9 437.9L426.9 441.2M424.9 437.9M435 419.6L429.7 420.9M429.7 420.9L426.6 418.7M429.7 420.9L424.4 422.1L419.2 423.5L413.7 423.8M435 419.6L430.1 420L425.5 418.2L421.4 415.5M421.4 415.5L418 416.4M421.4 415.5L416.9 413.4M435 419.6L433 416.1M433 416.1L433.2 413.3M433 416.1L432.3 412.1L431.6 408.1L429.2 404.8M435 419.6L434.7 412.8L432 406.6L426.7 402.4M426.7 402.4L422.1 403.4M426.7 402.4L422 397.5M435 419.6L433.2 416L432.3 412.1M432.3 412.1L429.7 411.1M432.3 412.1L432 408L431.3 404M431.3 404L432.7 401.6M431.3 404M435 419.6L435 413M435 413L438.1 409.6M435 413L432.9 406.6L430.9 400.3L430.9 393.7M430.9 393.7L434.1 390.2M430.9 393.7M435 419.6L435.8 415.7L435.6 411.8M435.6 411.8L437.5 409.8M435.6 411.8L434.4 408M434.4 408L436 405.8M434.4 408L432.5 404.6M435 419.6L439 417.8L443.2 416.9L447.5 415.9M447.5 415.9L449.7 413.9M447.5 415.9L451.2 413.7M435 419.6L438.6 416.7L442.8 414.9M442.8 414.9L443.6 411.8M442.8 414.9L447.4 415M447.4 415L449 412.3M447.4 415L451.9 414.6M451.9 414.6L454 412.1M451.9 414.6" fill="none" stroke="#ff3a1a" stroke-width="1.5" stroke-opacity="0.95" stroke-linecap="round" stroke-linejoin="round"/>
<circle cx="435" cy="419.6" r="7" fill="#ff3030" opacity="0.4" filter="url(#b3)"/><circle cx="435" cy="419.6" r="3.5" fill="#ff80c0" filter="url(#b1)"/>
<path d="M499 493L504.1 496M504.1 496L508.2 495.1M504.1 496L507.2 501M507.2 501L511.3 500.9M507.2 501L509.5 506.4M509.5 506.4L513.4 507.9M509.5 506.4L510 512.3M510 512.3L512.9 515.3M510 512.3M499 493L505 494.9M505 494.9L509 493M505 494.9L510.1 498.6L515.7 501.5L521.4 504.2M499 493L504.2 493.8L508.1 497.5M508.1 497.5L511.8 497.4M508.1 497.5L510 502.4M510 502.4L508.2 505.6M510 502.4L513.2 506.7M513.2 506.7L516.8 507.8M513.2 506.7M499 493L501.9 496.9L505.6 500.1L508.3 504.1L511 508.2M499 493L506.5 495.4M506.5 495.4L511.8 494M506.5 495.4L513.8 498.4L519.5 503.8L523.8 510.4M499 493L501.4 498.8L505.8 503.3M505.8 503.3L510.1 504M505.8 503.3L511.7 505.4L515.5 510.4M515.5 510.4L519.9 510.7M515.5 510.4M499 493L502.6 496.5L505.2 500.8M505.2 500.8L508.6 501.7M505.2 500.8L505 505.8L503.9 510.8M499 493L502.5 499.1M502.5 499.1L507.2 500.7M502.5 499.1L504.9 505.7L507.9 512L513.1 516.8M499 493L498.8 497.5M498.8 497.5L501.4 499.5M498.8 497.5L496.5 501.4M496.5 501.4L493.3 501.4M496.5 501.4L495.1 505.8L496.2 510.2M496.2 510.2L498.5 512.3M496.2 510.2M499 493L497.6 498.3M497.6 498.3L500.5 500.9M497.6 498.3L498.2 503.7M498.2 503.7L495.1 506M498.2 503.7L499.6 509L500.5 514.4M499 493L494.5 498.2L488.3 501.1L484.2 506.6L483 513.4M499 493L495.7 500L491.3 506.4L484.6 510.3M484.6 510.3L483.3 515.6M484.6 510.3L479.2 515.9M499 493L493.4 498.7L486 501.3M486 501.3L481.4 498.2M486 501.3L478.9 504.8L471.6 507.9M471.6 507.9L466.2 506.4M471.6 507.9M499 493L493.9 497.5M493.9 497.5L489.4 496.1M493.9 497.5L487.4 499.5L481.3 502.3M481.3 502.3L476.6 501.8M481.3 502.3L475.9 506.4M499 493L494.4 491.5L490.9 488.3L486.7 485.9M486.7 485.9L486.7 482.5M486.7 485.9L484.4 481.6M499 493L494.8 491.2L490.2 491.7M490.2 491.7L487.7 489.7M490.2 491.7L485.9 493.3L481.4 493.6M499 493L491.9 490.7L484.5 489.1L479 484.1L474.2 478.4M499 493L493.2 492.6L487.9 490.3L482.7 487.7L477.2 485.9M499 493L495.8 487.6M495.8 487.6L491.5 487.1M495.8 487.6L494 481.6M494 481.6L497.1 478.5M494 481.6L489.7 477.1M489.7 477.1L488.7 472.8M489.7 477.1L485.1 472.9M485.1 472.9L485.3 468.5M485.1 472.9M499 493L494.5 490.6M494.5 490.6L494.2 487.1M494.5 490.6L491.7 486.5M491.7 486.5L488.2 487M491.7 486.5L489.4 482L489.3 477M489.3 477L486.3 475.1M489.3 477M499 493L499 487L497 481.3L494.2 476M494.2 476L495 471.9M494.2 476L493.5 470M499 493L497.4 487.9L495.9 482.8L496.2 477.4L494.2 472.5M499 493L501.9 486L507.9 481.4L514.4 477.4L521.3 474.4M521.3 474.4L522.1 469.1M521.3 474.4M499 493L500.7 488.5M500.7 488.5L499.4 485.3M500.7 488.5L504.2 485.1M504.2 485.1L505 481.7M504.2 485.1L505.2 480.3M505.2 480.3L508.3 478.8M505.2 480.3L508 476.3M499 493L500 485.4L501.7 478M501.7 478L500.1 472.9M501.7 478L503.2 470.6M503.2 470.6L500 466.3M503.2 470.6L504.4 463M504.4 463L500.8 459.2M504.4 463M499 493L498.8 487.7L499.7 482.4L499.6 477.1M499.6 477.1L497.7 473.9M499.6 477.1L502.1 472.4M502.1 472.4L501.6 468.7M502.1 472.4M499 493L503.5 491.4M503.5 491.4L506.6 492.4M503.5 491.4L507.5 488.9L511.6 486.5M511.6 486.5L514.7 487.8M511.6 486.5L515.1 483.3M499 493L502.2 489.1L505.6 485.5M505.6 485.5L505 482.1M505.6 485.5L506.9 480.7L509.7 476.5M499 493L506.3 492.9L513.2 490.4L520.4 491.2M520.4 491.2L523.8 495M520.4 491.2L527.7 491.8M499 493L505.6 490.2L509.5 484.3L511.3 477.4L515.5 471.7" fill="none" stroke="#ff3a1a" stroke-width="1.5" stroke-opacity="0.95" stroke-linecap="round" stroke-linejoin="round"/>
<circle cx="499" cy="493" r="7" fill="#ff3030" opacity="0.4" filter="url(#b3)"/><circle cx="499" cy="493" r="3.5" fill="#ffffff" filter="url(#b1)"/>
<path d="M388.5 547.5L391 549.8L393.4 552.1M393.4 552.1L395.7 551.4M393.4 552.1L396.2 554.1L399.5 554.5M388.5 547.5L391.4 551M391.4 551L394.6 551.6M391.4 551L392.9 555.3L395.1 559.4M395.1 559.4L398.3 559.4M395.1 559.4L398.8 562M388.5 547.5L387.9 551.6L385.3 554.8L383.9 558.7L381.7 562.2M388.5 547.5L386.4 549.6L385.7 552.5L385.1 555.4M385.1 555.4L383.3 556.5M385.1 555.4L384.3 558.3M384.3 558.3L382.3 558.9M384.3 558.3M388.5 547.5L386.3 550.9L383.1 553.2M383.1 553.2L380.3 553.4M383.1 553.2L381.2 556.8L379.4 560.3M388.5 547.5L385.2 549.5L381.6 551.1M381.6 551.1L378.9 550.5M381.6 551.1L377.8 552M377.8 552L375.5 550.5M377.8 552L374.9 554.6M374.9 554.6L374.6 557.4M374.9 554.6M388.5 547.5L387.1 543.9L384.7 540.7L383.5 537L382.4 533.2M382.4 533.2L379.9 532.1M382.4 533.2M388.5 547.5L385.8 545.3M385.8 545.3L383.5 546.1M385.8 545.3L382.5 544.4L379.2 545.4M379.2 545.4L376.9 544.5M379.2 545.4L376.6 547.8M388.5 547.5L390 543.2M390 543.2L393.1 542.3M390 543.2L392.3 539.2L392 534.6M392 534.6L389.6 532.6M392 534.6L393.8 530.4M393.8 530.4L392 527.7M393.8 530.4M388.5 547.5L391 543.4L394 539.5L398.4 537.4L403.2 537.4M403.2 537.4L405.8 535.1M403.2 537.4" fill="none" stroke="#ff3a1a" stroke-width="1.5" stroke-opacity="0.95" stroke-linecap="round" stroke-linejoin="round"/>
<circle cx="388.5" cy="547.5" r="7" fill="#ff3030" opacity="0.4" filter="url(#b3)"/><circle cx="388.5" cy="547.5" r="3.5" fill="#ff70ff" filter="url(#b1)"/>
<path d="M275 507.5L280.9 508.7L286.7 507.2L292.4 505.4M292.4 505.4L296.3 507.2M292.4 505.4L298.3 506.7M275 507.5L278.9 509L282.8 510.4L286.6 512M286.6 512L287 514.8M286.6 512L290.8 512.1M290.8 512.1L292.9 510.1M290.8 512.1M275 507.5L278.4 513.2L278.5 519.7M278.5 519.7L281.8 522.9M278.5 519.7L279.8 526.2L280.2 532.7M275 507.5L279 510.8M279 510.8L282.6 511M279 510.8L284 512M284 512L285 515.5M284 512L288.7 514.2L292.6 517.6M275 507.5L279.2 511.4L282.5 516.1M282.5 516.1L282.4 520.1M282.5 516.1L287.2 519.4L292.3 522M292.3 522L296 520.5M292.3 522M275 507.5L275.5 512.3M275.5 512.3L277.5 515M275.5 512.3L276.4 517M276.4 517L278.7 519.5M276.4 517L279.2 520.9M279.2 520.9L278.4 524.2M279.2 520.9L283.6 522.9M275 507.5L272.4 513.6M272.4 513.6L273.5 518.1M272.4 513.6L269.7 519.6M269.7 519.6L265.4 521.3M269.7 519.6L266.4 525.4L262 530.4M275 507.5L273.8 512.1L273.5 516.9L275.6 521.2M275.6 521.2L278.8 521.8M275.6 521.2L279.4 524M279.4 524L279.9 527.3M279.4 524M275 507.5L272.6 513.2M272.6 513.2L268.7 515.2M272.6 513.2L268.8 518.2L263.6 521.7M263.6 521.7L259.5 520.4M263.6 521.7L258.4 525.1M275 507.5L273 512.2M273 512.2L269.8 513.9M273 512.2L271.3 517.1M271.3 517.1L267.8 517.9M271.3 517.1L272.3 522.1M272.3 522.1L270 524.9M272.3 522.1L274 526.9M275 507.5L274 514L272.7 520.4L274.9 526.6L275.7 533.2M275.7 533.2L278.6 536.6M275.7 533.2M275 507.5L269.4 508.4L263.8 507.1L258.5 509.2L252.9 508.5M252.9 508.5L249.3 510.1M252.9 508.5M275 507.5L270.9 508.6M270.9 508.6L268.9 510.9M270.9 508.6L266.6 509.3L263.5 512.3L261.5 516M275 507.5L269 508.2L263.3 510.2L258.1 513.3M258.1 513.3L254.1 511.8M258.1 513.3L253.7 517.5M275 507.5L269 506.5L263.2 504.8M263.2 504.8L261.5 500.9M263.2 504.8L259.1 500.3L253.7 497.7M275 507.5L268.5 505.2M268.5 505.2L264.1 507.1M268.5 505.2L263.7 500.3M263.7 500.3L263.8 495.5M263.7 500.3L257.1 498.3L250.3 497.3M275 507.5L269.3 504L265.2 498.7L261.2 493.4L258.5 487.2M258.5 487.2L260.4 483M258.5 487.2M275 507.5L271.5 504.2M271.5 504.2L268.3 505.1M271.5 504.2L267 502.5L262.2 502.7M262.2 502.7L259.7 505M262.2 502.7L257.8 504.8M275 507.5L269 504.4M269 504.4L268.3 499.7M269 504.4L263 501.3L258.6 496.3M258.6 496.3L253.9 496.7M258.6 496.3L253.3 492.1M253.3 492.1L248.6 492.2M253.3 492.1M275 507.5L271.4 501.8L270.5 495.1L271.5 488.4L273.7 482M273.7 482L271.2 478M273.7 482M275 507.5L273.8 503L274.9 498.5M274.9 498.5L272.9 496M274.9 498.5L277.5 494.7L279.3 490.4M279.3 490.4L282 488.5M279.3 490.4M275 507.5L276.8 504.1L279.1 501.1M279.1 501.1L281.8 501.6M279.1 501.1L281.1 497.8L283.5 494.8M275 507.5L275.2 502.6M275.2 502.6L277.2 499.9M275.2 502.6L277.2 498.2M277.2 498.2L276.3 494.9M277.2 498.2L280.1 494.3M280.1 494.3L279.7 490.9M280.1 494.3L281 489.5M275 507.5L275.9 502.9M275.9 502.9L274.8 499.7M275.9 502.9L278 498.6L280.9 494.9M280.9 494.9L280.4 491.6M280.9 494.9L283.8 491.1M275 507.5L278.4 504.7L282.3 502.5L286 500.1L288.3 496.3M288.3 496.3L291.4 496.2M288.3 496.3M275 507.5L280.7 503.9M280.7 503.9L281.6 499.3M280.7 503.9L283.7 497.9M283.7 497.9L281.8 493.5M283.7 497.9L287.1 492L287.7 485.3" fill="none" stroke="#ff3a1a" stroke-width="1.5" stroke-opacity="0.95" stroke-linecap="round" stroke-linejoin="round"/>
<circle cx="275" cy="507.5" r="7" fill="#ff3030" opacity="0.4" filter="url(#b3)"/><circle cx="275" cy="507.5" r="3.5" fill="#ffffff" filter="url(#b1)"/>
<path d="M227 507.5L233.5 508.9M233.5 508.9L236.2 512.7M233.5 508.9L240.1 507.9L245.9 504.6M245.9 504.6L250.5 504.7M245.9 504.6L252.5 504.1M227 507.5L230 511L232.1 515.1M232.1 515.1L230.5 517.9M232.1 515.1L232.6 519.7L233.4 524.2M233.4 524.2L236.1 525.9M233.4 524.2M227 507.5L228.2 511.3M228.2 511.3L230.9 511.9M228.2 511.3L230.7 514.3L233.2 517.4M233.2 517.4L235.9 517.5M233.2 517.4L235.8 520.3M227 507.5L231.4 512.8M231.4 512.8L236.1 511.7M231.4 512.8L237.7 515.6M237.7 515.6L239 520.2M237.7 515.6L241.8 521.1M241.8 521.1L241.2 525.9M241.8 521.1L247.5 525M227 507.5L228.7 513.5L229.9 519.7L227.4 525.4M227.4 525.4L228.3 529.7M227.4 525.4L228 531.6M227 507.5L225.7 513.9M225.7 513.9L222.2 517M225.7 513.9L228 520.1M228 520.1L232.3 521.7M228 520.1L228.9 526.6L227.1 532.9M227 507.5L223.7 509.8M223.7 509.8L222.8 512.4M223.7 509.8L221.4 513L219.7 516.6L217.4 519.8M227 507.5L221.5 511.9L215.5 515.4M215.5 515.4L215.4 520.4M215.5 515.4L210.6 520.5M210.6 520.5L209.7 525.3M210.6 520.5L204.3 523.5M227 507.5L224.2 511M224.2 511L224.3 514.1M224.2 511L223.2 515.4L222.6 519.8L219.6 523.2M227 507.5L224.5 511.3M224.5 511.3L225.3 514.4M224.5 511.3L222.5 515.4M222.5 515.4L219.4 515.7M222.5 515.4L219.8 519L215.7 520.8M215.7 520.8L212.9 519.3M215.7 520.8M227 507.5L222 507.8M222 507.8L220.2 510.9M222 507.8L217.2 506.3L212.2 506.2M212.2 506.2L209.5 504M212.2 506.2L207.4 504.8M207.4 504.8L206 501.6M207.4 504.8M227 507.5L220.9 505.4L216 501.1L211.8 496.2M211.8 496.2L213.3 491.9M211.8 496.2L206.6 492.3M206.6 492.3L206.8 487.7M206.6 492.3M227 507.5L222.9 506.2L218.6 506.4M218.6 506.4L216.3 508.3M218.6 506.4L214.9 504.2M214.9 504.2L213.7 501.5M214.9 504.2L212.5 500.7M227 507.5L225 503.2M225 503.2L222 502M225 503.2L224.2 498.6M224.2 498.6L221.6 496.6M224.2 498.6L224 493.9L223.1 489.3M223.1 489.3L220.8 486.9M223.1 489.3M227 507.5L227.5 503M227.5 503L226.2 500.2M227.5 503L228.9 498.8M228.9 498.8L227.7 495.8M228.9 498.8L232.1 495.6L234.9 492.2M227 507.5L226.9 501.9L229.1 496.7L228.5 491.2M228.5 491.2L225.8 488.3M228.5 491.2L228.1 485.6M227 507.5L230.1 502M230.1 502L229.3 497.6M230.1 502L235.4 498.5M235.4 498.5L237 494.4M235.4 498.5L241.2 496M241.2 496L243.2 492M241.2 496L245.9 491.6M227 507.5L231.3 502.1M231.3 502.1L231.4 497.3M231.3 502.1L237.5 499.3L241.2 493.4L244.5 487.4M227 507.5L231 507.5M231 507.5L232.7 509.8M231 507.5L235 507.9L238.7 506.2M238.7 506.2L240.9 507.9M238.7 506.2L241.3 503.2M227 507.5L232.3 503.2M232.3 503.2L232.4 498.4M232.3 503.2L237.6 498.8M237.6 498.8L242.3 499.6M237.6 498.8L242.3 493.8M242.3 493.8L241.1 489.1M242.3 493.8L244.6 487.3" fill="none" stroke="#ff3a1a" stroke-width="1.5" stroke-opacity="0.95" stroke-linecap="round" stroke-linejoin="round"/>
<circle cx="227" cy="507.5" r="7" fill="#ff3030" opacity="0.4" filter="url(#b3)"/><circle cx="227" cy="507.5" r="3.5" fill="#ffffff" filter="url(#b1)"/>
<path d="M112 514L117.7 513.2M117.7 513.2L120.4 516.3M117.7 513.2L123.4 512.2M123.4 512.2L127.1 513.8M123.4 512.2L128.9 513.9L134.5 512.4M112 514L118.1 514.6L123.8 512.5M123.8 512.5L127.8 513.9M123.8 512.5L129.3 509.8M129.3 509.8L131.7 506.3M129.3 509.8L135.4 510M112 514L115.6 516L119.6 516.7L123.4 518.1L127.5 518.3M112 514L114.7 518.9L117.7 523.6L121.7 527.6L122.8 533.1M112 514L113.7 518.3L116.5 521.9L120.4 524.3M120.4 524.3L121.6 527.3M120.4 524.3L124.7 525.9M112 514L110.8 518.3L111.4 522.8M111.4 522.8L109.7 525.4M111.4 522.8L112 527.2L110.5 531.4M112 514L105.8 516.2M105.8 516.2L104.7 520.6M105.8 516.2L99.5 514.8M99.5 514.8L95.8 517.5M99.5 514.8L93 515.4M93 515.4L90.2 511.7M93 515.4L86.5 514.5M112 514L107.4 514.2L102.8 514.2L98.5 512.4M98.5 512.4L97.6 509.2M98.5 512.4L94.1 510.8M112 514L107.1 513M107.1 513L105.9 509.8M107.1 513L103.4 509.8M103.4 509.8L104.2 506.4M103.4 509.8L100.9 505.5M100.9 505.5L97.5 504.5M100.9 505.5L97.5 501.9M97.5 501.9L94.1 501.2M97.5 501.9M112 514L108.2 508.9L103 505.2L99.7 499.7M99.7 499.7L95.3 499.6M99.7 499.7L97.9 493.6M97.9 493.6L94 491.5M97.9 493.6M112 514L109.8 509M109.8 509L110.9 505.3M109.8 509L107.2 504.1M107.2 504.1L103.6 503M107.2 504.1L107.8 498.7L108.1 493.2M112 514L109.4 508.3M109.4 508.3L109.9 504M109.4 508.3L105.5 503.5L100.9 499.3L98.5 493.5M112 514L114.2 508.6L118.8 505.1M118.8 505.1L119.5 501.1M118.8 505.1L124 502.4L129.8 501.7M129.8 501.7L133.2 503.9M129.8 501.7M112 514L114 508L115 501.7M115 501.7L113.1 497.7M115 501.7L118.5 496.4L124.4 493.9M112 514L113.8 509.7M113.8 509.7L112.4 506.7M113.8 509.7L116 505.5M116 505.5L119.3 505.2M116 505.5L119.1 502L123.2 499.7M112 514L116.5 511.6L120.6 508.5M120.6 508.5L121 504.9M120.6 508.5L125.6 507.2L130.6 506.3" fill="none" stroke="#ff3a1a" stroke-width="1.5" stroke-opacity="0.95" stroke-linecap="round" stroke-linejoin="round"/>
<circle cx="112" cy="514" r="7" fill="#ff3030" opacity="0.4" filter="url(#b3)"/><circle cx="112" cy="514" r="3.5" fill="#ff80ff" filter="url(#b1)"/>
<path d="M224 597L226.1 597.2L228 597.9M228 597.9L228.3 599.4M228 597.9L229.6 599.3L231.2 600.6M224 597L227.4 597.8L230.8 598L234.1 597.2M234.1 597.2L236.4 598M234.1 597.2L237.5 596.6M237.5 596.6L239.7 597.6M237.5 596.6M224 597L225.4 600.1M225.4 600.1L227.8 600.8M225.4 600.1L226.7 603.4L227.8 606.6M227.8 606.6L226.2 608.4M227.8 606.6L228.8 609.9M224 597L222.4 598.9M222.4 598.9L220.6 598.8M222.4 598.9L220 599.8M220 599.8L219 601.2M220 599.8L217.5 600.2L215 600.3M224 597L221.3 597.6L218.8 598.6L216.4 599.9L213.7 600.2M213.7 600.2L212.2 601.4M213.7 600.2M224 597L221 596.1M221 596.1L219.5 597.6M221 596.1L218 596.4L214.9 596.7M214.9 596.7L213.5 598.3M214.9 596.7L211.8 596.1M224 597L221.5 595.4M221.5 595.4L219.6 596M221.5 595.4L219.9 592.9M219.9 592.9L219.8 590.8M219.9 592.9L217.2 591.8M217.2 591.8L216.7 589.8M217.2 591.8L215.5 589.3M224 597L222.3 595.6L220.7 594.2L219.4 592.4L217.8 591M224 597L225.5 594.3L226.3 591.2L228.3 588.9M228.3 588.9L228.5 586.8M228.3 588.9L231.3 588M224 597L226.5 596M226.5 596L226.6 594.1M226.5 596L228.8 594.7L231.3 593.7M231.3 593.7L233 594.4M231.3 593.7L233.9 594" fill="none" stroke="#ff3a1a" stroke-width="1.5" stroke-opacity="0.95" stroke-linecap="round" stroke-linejoin="round"/>
<circle cx="224" cy="597" r="7" fill="#ff3030" opacity="0.4" filter="url(#b3)"/><circle cx="224" cy="597" r="3.5" fill="#ff6080" filter="url(#b1)"/>
<path d="M275 621L278.1 623.1L280.4 625.9L283.7 627.7L287.4 628.2M275 621L278.3 621.6L281.7 621.5L285.1 621.4L288.1 619.8M275 621L278.4 622.1L280.8 624.8L283.3 627.4M283.3 627.4L285.8 627.4M283.3 627.4L286.2 629.5M275 621L278.6 624M278.6 624L278.4 627.3M278.6 624L280.4 628.4L282.1 632.8L281.1 637.4M281.1 637.4L278 638.5M281.1 637.4M275 621L277.2 624.1M277.2 624.1L279.7 624.8M277.2 624.1L280.6 625.6L282.8 628.6L284 632.2M284 632.2L283.5 634.8M284 632.2M275 621L275.9 624.6M275.9 624.6L278.5 625.2M275.9 624.6L278.1 627.7L280.7 630.4L283.6 632.7M275 621L275.1 625.7L274.6 630.4M274.6 630.4L276.2 633.3M274.6 630.4L275.8 634.9M275.8 634.9L279 635.7M275.8 634.9L277 639.5M275 621L269.8 623.2M269.8 623.2L267.5 626.4M269.8 623.2L264.4 625.1L261 629.6L259.2 634.9M259.2 634.9L255.6 636.5M259.2 634.9M275 621L270.3 623.7M270.3 623.7L269.1 627.3M270.3 623.7L264.9 624.4L259.9 626.5L254.6 625.6M254.6 625.6L251.1 627.1M254.6 625.6M275 621L271.9 623.4L268.2 625M268.2 625L265.5 624.1M268.2 625L264.3 624.2L260.3 624.1M260.3 624.1L258.1 625.8M260.3 624.1M275 621L272.2 619.2M272.2 619.2L270 619.8M272.2 619.2L269.1 618.2L265.9 617.3L262.6 618.1M275 621L273.2 617.5L271.9 613.9L270.6 610.2L270.9 606.4M270.9 606.4L273.4 605.3M270.9 606.4M275 621L271.8 617.9L269.8 613.8L266.4 610.9M266.4 610.9L267 607.8M266.4 610.9L263.3 607.7M275 621L274.1 615.7M274.1 615.7L270.6 614.1M274.1 615.7L274.2 610.2M274.2 610.2L277.1 607.8M274.2 610.2L277.2 605.7L281.5 602.5M275 621L277.7 615.9L277.4 610L277.1 604.2M277.1 604.2L274.2 601.4M277.1 604.2L280.1 599.2M280.1 599.2L278.8 595.4M280.1 599.2M275 621L276.2 617.2M276.2 617.2L279 616.6M276.2 617.2L278.2 613.7L279.2 609.8L280.3 606M280.3 606L282.7 604.5M280.3 606M275 621L279.8 619.6L284.7 620.1L289.2 618M289.2 618L292.4 619.3M289.2 618L294.1 617.1M275 621L279.8 622.3L284.7 622.3L289.2 620.2M289.2 620.2L291.1 617.3M289.2 620.2L292.4 616.5M292.4 616.5L292.5 613M292.4 616.5" fill="none" stroke="#ff3a1a" stroke-width="1.5" stroke-opacity="0.95" stroke-linecap="round" stroke-linejoin="round"/>
<circle cx="275" cy="621" r="7" fill="#ff3030" opacity="0.4" filter="url(#b3)"/><circle cx="275" cy="621" r="3.5" fill="#ffffff" filter="url(#b1)"/>
<path d="M352 621L357.9 621.2L363.6 622.4M363.6 622.4L365.4 626.2M363.6 622.4L369.2 624.2L375.1 624.4M375.1 624.4L377.4 620.9M375.1 624.4M352 621L355.9 622.4M355.9 622.4L358.1 620.6M355.9 622.4L358.8 625.3M358.8 625.3L361.7 625.4M358.8 625.3L361.8 628.1M361.8 628.1L361.8 630.9M361.8 628.1L365.5 629.9M352 621L356.4 622L360.6 623.7L364.2 626.4L367.9 629M367.9 629L371.1 628.6M367.9 629M352 621L357.3 624.1L363.5 624.5M363.5 624.5L367.3 622.6M363.5 624.5L369.7 624.4M369.7 624.4L372.9 627.2M369.7 624.4L375.4 622M352 621L352.7 626.7L352.4 632.5L352.5 638.2L352.3 644M352 621L350.9 625.2M350.9 625.2L351.8 628.1M350.9 625.2L348.2 628.5M348.2 628.5L349.4 631.3M348.2 628.5L344.6 630.9M344.6 630.9L344.5 634M344.6 630.9L340.6 632.4M340.6 632.4L338.9 635M340.6 632.4M352 621L350.6 625.5M350.6 625.5L351.8 628.6M350.6 625.5L351.9 630L351.5 634.7L353 639.1M352 621L347.9 622.4L343.6 621.7M343.6 621.7L341.2 623.5M343.6 621.7L339.6 620.2M339.6 620.2L336.8 621.3M339.6 620.2L335.7 618.3M352 621L348.7 623L345.1 624.6L341.8 626.6M341.8 626.6L341.4 629.3M341.8 626.6L339.9 630M352 621L346.8 624.4M346.8 624.4L347.2 628.8M346.8 624.4L340.6 625.5L334.5 626.7L328.3 627.2M328.3 627.2L324.9 630M328.3 627.2M352 621L346.8 621.7L342.1 619.5M342.1 619.5L339.2 621.6M342.1 619.5L337.7 616.8M337.7 616.8L337.4 613.1M337.7 616.8L332.6 615.6M332.6 615.6L329.8 618M332.6 615.6M352 621L349.5 616.8L346.4 613M346.4 613L343 613.4M346.4 613L343.8 609L343.1 604.1M352 621L347.3 618.8L343.9 614.9L342.1 609.9L341.8 604.7M341.8 604.7L338.8 602.6M341.8 604.7M352 621L349.2 618.2L345.5 616.9M345.5 616.9L343.2 618.5M345.5 616.9L342.5 614.3M342.5 614.3L339.8 613.9M342.5 614.3L339.1 612.4M352 621L350 616.3M350 616.3L347 614.4M350 616.3L348.5 611.5L345.3 607.5M345.3 607.5L341.8 607.8M345.3 607.5L343.2 603M343.2 603L344.4 599.6M343.2 603M352 621L353.7 615.3L355.9 609.7M355.9 609.7L355.2 605.6M355.9 609.7L356.3 603.8L357.7 598M352 621L353.2 614.3M353.2 614.3L351.7 609.8M353.2 614.3L354.6 607.6L358.7 602.2M358.7 602.2L363.4 601.6M358.7 602.2L362.2 596.4M362.2 596.4L361.7 591.6M362.2 596.4M352 621L356.1 618.5L360.8 617.5L365 615.1L368.4 611.7M368.4 611.7L367.6 608.4M368.4 611.7M352 621L356.9 618.6L361.1 615.3L366.1 613M366.1 613L366.3 609.2M366.1 613L368.9 608.4M368.9 608.4L372.7 607.7M368.9 608.4M352 621L356.2 620.1M356.2 620.1L357.6 617.5M356.2 620.1L360.4 619.6M360.4 619.6L361.9 617M360.4 619.6L364.7 619.5L368.9 620.3M368.9 620.3L370.4 622.9M368.9 620.3" fill="none" stroke="#ff3a1a" stroke-width="1.5" stroke-opacity="0.95" stroke-linecap="round" stroke-linejoin="round"/>
<circle cx="352" cy="621" r="7" fill="#ff3030" opacity="0.4" filter="url(#b3)"/><circle cx="352" cy="621" r="3.5" fill="#ff80ff" filter="url(#b1)"/>
<path d="M188.7 690L192 688.7L195.4 689.4L198.1 691.7L201.3 693.2M201.3 693.2L203.6 692.3M201.3 693.2M188.7 690L191.1 692.6L193.6 695.1M193.6 695.1L193.4 697.5M193.6 695.1L196 697.7L199.4 698.7M188.7 690L192.3 693.7L194 698.5L194.6 703.6L195.5 708.6M188.7 690L192 692.1M192 692.1L193.2 694.7M192 692.1L195.9 692.9M195.9 692.9L197.7 695M195.9 692.9L199.8 693.1M199.8 693.1L202 694.8M199.8 693.1L203 695.4M203 695.4L205.8 695M203 695.4M188.7 690L188.8 694.2M188.8 694.2L190.9 696.2M188.8 694.2L190.2 698.1L192.9 701.3M192.9 701.3L191.8 704M192.9 701.3L194.6 705.1M188.7 690L188.3 694.6L188.8 699.2M188.8 699.2L190.9 701.7M188.8 699.2L186.6 703.3M186.6 703.3L183.8 704.9M186.6 703.3L185.1 707.7M185.1 707.7L186.7 710.5M185.1 707.7M188.7 690L188.3 694.5M188.3 694.5L190.5 696.8M188.3 694.5L190.4 698.6L193.8 701.7M193.8 701.7L193.3 704.8M193.8 701.7L195 706M188.7 690L183.5 693L177.7 694.5L172.4 697.1L166.5 698.3M188.7 690L184.6 691.2L180.3 691.3L176.3 689.6M176.3 689.6L173.4 690.4M176.3 689.6L172.1 690.2M172.1 690.2L169.7 692M172.1 690.2M188.7 690L184.3 693.9L178.5 694.9L172.8 696.5M172.8 696.5L169.3 694.4M172.8 696.5L167.1 695.5M167.1 695.5L163.7 697.9M167.1 695.5M188.7 690L185.1 692.1M185.1 692.1L184.4 694.9M185.1 692.1L182.1 695M182.1 695L179.4 694.2M182.1 695L180 698.6M180 698.6L177.1 698.6M180 698.6L179.8 702.7M179.8 702.7L181.2 705.3M179.8 702.7M188.7 690L185.4 685.9L184 680.9M184 680.9L186.4 678.1M184 680.9L182.4 675.9L178.3 672.6M178.3 672.6L177 669.2M178.3 672.6M188.7 690L185.6 685.8L185.2 680.6L183.6 675.7M183.6 675.7L185.2 672.4M183.6 675.7L180.9 671.2M188.7 690L187.4 686.3L184.3 683.8M184.3 683.8L181.6 684.4M184.3 683.8L180.7 682.2L176.8 682.2M188.7 690L190.6 686.3M190.6 686.3L193 684.7M190.6 686.3L191.7 682.3L193.1 678.4L192.8 674.2M188.7 690L190.9 685.9L190.8 681.3L191.6 676.7L192.7 672.2M192.7 672.2L191.4 669.3M192.7 672.2M188.7 690L190 684.7M190 684.7L192.8 682.2M190 684.7L191.8 679.6L192.7 674.3L190.9 669.2M190.9 669.2L193.3 666.2M190.9 669.2M188.7 690L189.9 685M189.9 685L187.3 682.4M189.9 685L190.7 679.9L188.8 675L187.4 670.1M187.4 670.1L184.4 668M187.4 670.1M188.7 690L192.4 686.5M192.4 686.5L192.9 682.9M192.4 686.5L196.6 683.6L200.1 679.9L201.1 674.9M201.1 674.9L204.3 673.3M201.1 674.9M188.7 690L191.1 687.4L193.8 685M193.8 685L196.3 684.7M193.8 685L196.7 682.9L198.5 679.8" fill="none" stroke="#ff3a1a" stroke-width="1.5" stroke-opacity="0.95" stroke-linecap="round" stroke-linejoin="round"/>
<circle cx="188.7" cy="690" r="7" fill="#ff3030" opacity="0.4" filter="url(#b3)"/><circle cx="188.7" cy="690" r="3.5" fill="#ff80ff" filter="url(#b1)"/>
<path d="M476.5 666L480.6 664.9M480.6 664.9L481.9 662.3M480.6 664.9L484.6 663.6L488.5 662.2M488.5 662.2L489.7 659.5M488.5 662.2L492.5 660.8M476.5 666L481.2 668.4M481.2 668.4L482.3 671.9M481.2 668.4L486.4 667.9M486.4 667.9L488.2 664.8M486.4 667.9L490.6 664.9M490.6 664.9L494.3 664.7M490.6 664.9L493 660.2M476.5 666L480.5 667.8M480.5 667.8L481 670.8M480.5 667.8L483.5 671.1M483.5 671.1L486.6 671.2M483.5 671.1L485.7 674.9L485.4 679.3M485.4 679.3L483.6 681.8M485.4 679.3M476.5 666L480.9 668.6M480.9 668.6L484.4 668.5M480.9 668.6L485.8 669.9L489.8 672.9L494 675.9M476.5 666L477.7 670.7M477.7 670.7L476.2 673.8M477.7 670.7L478.4 675.6M478.4 675.6L476.3 678.3M478.4 675.6L476.7 680.2L473.1 683.4M476.5 666L475.1 668.8L472.4 670.4M472.4 670.4L472.4 672.6M472.4 670.4L469.4 671.5L466.6 672.9M466.6 672.9L464.8 671.6M466.6 672.9M476.5 666L478.1 671.1L478.4 676.4L479.6 681.6L479.1 686.9M476.5 666L473.8 669.6M473.8 669.6L470.6 669.5M473.8 669.6L471.7 673.5M471.7 673.5L468.7 674.1M471.7 673.5L469.6 677.5M469.6 677.5L470.2 680.5M469.6 677.5L467.3 681.3M476.5 666L473.6 667.7L470.5 668.9L467.1 669.2L464.2 670.8M464.2 670.8L461.9 670.2M464.2 670.8M476.5 666L473.5 665.8M473.5 665.8L472.6 663.9M473.5 665.8L470.5 665.4M470.5 665.4L469.3 663.7M470.5 665.4L467.5 664.8M467.5 664.8L466.7 662.9M467.5 664.8L464.8 663.5M476.5 666L472.3 667.1M472.3 667.1L470.9 669.8M472.3 667.1L468.1 666.7M468.1 666.7L466.1 669M468.1 666.7L464.1 665M464.1 665L461.2 665.8M464.1 665L459.8 664.6M476.5 666L473.2 663.5L469 663.1M469 663.1L467.8 660.5M469 663.1L465 662M465 662L462.3 662.9M465 662L461.5 659.7M476.5 666L471.4 665.7L467 663.1L463.4 659.6L461.9 654.8M476.5 666L473.6 661.7L473.5 656.6L471.2 652L469 647.4M469 647.4L466 645.4M469 647.4M476.5 666L472.6 662.4M472.6 662.4L472.1 658.8M472.6 662.4L469.3 658.3L465 655.2M465 655.2L464.3 651.5M465 655.2L462.5 650.5M476.5 666L477.3 661.2M477.3 661.2L479.6 658.8M477.3 661.2L478.4 656.5L477.7 651.8L477.2 647M476.5 666L475.8 661.2L477 656.6M477 656.6L479.7 654.6M477 656.6L475.4 652L472.5 648.1M472.5 648.1L472.1 644.8M472.5 648.1M476.5 666L479.1 663.4L482.7 662.3L486.3 663L489.9 663.9M489.9 663.9L491.3 666.1M489.9 663.9M476.5 666L478.4 662.1M478.4 662.1L481.4 661.7M478.4 662.1L481 658.8L481.8 654.5M481.8 654.5L484.2 652.7M481.8 654.5L481.7 650.2M481.7 650.2L480.1 647.7M481.7 650.2M476.5 666L481.2 664.5M481.2 664.5L482.7 661.4M481.2 664.5L485.7 662.5M485.7 662.5L487.5 659.5M485.7 662.5L490.3 660.7M490.3 660.7L492.4 658M490.3 660.7L495.1 659.3M495.1 659.3L497.3 656.6M495.1 659.3" fill="none" stroke="#ff3a1a" stroke-width="1.5" stroke-opacity="0.95" stroke-linecap="round" stroke-linejoin="round"/>
<circle cx="476.5" cy="666" r="7" fill="#ff3030" opacity="0.4" filter="url(#b3)"/><circle cx="476.5" cy="666" r="3.5" fill="#ff80ff" filter="url(#b1)"/>
<path d="M352 744L355.4 744.5M355.4 744.5L357.4 743.3M355.4 744.5L358 746.6M358 746.6L357.8 749M358 746.6L360.5 749L363.4 750.8M352 744L355.9 744.5L359.6 743.4L363.4 744.2L366.6 746.6M352 744L353.5 747.4M353.5 747.4L352.1 749.6M353.5 747.4L353.1 751.1L353.7 754.7M353.7 754.7L356 755.9M353.7 754.7L355.4 758.1M355.4 758.1L357.6 759.4M355.4 758.1M352 744L356.9 746M356.9 746L358.9 749.2M356.9 746L362.1 747.3M362.1 747.3L364.6 744.5M362.1 747.3L365.9 751.2L369.1 755.4M352 744L354.2 746.9L356.6 749.5L359.6 751.6L362.5 753.6M362.5 753.6L365 753.7M362.5 753.6M352 744L354.6 748.2L354.5 753.1L354.6 758.1M354.6 758.1L357.4 760.1M354.6 758.1L356.1 762.8M352 744L349.2 746.3L345.8 747.5M345.8 747.5L343.8 746M345.8 747.5L342.4 748.5M342.4 748.5L341.6 750.9M342.4 748.5L339 749.7M339 749.7L336.8 748.5M339 749.7M352 744L350 747.4M350 747.4L350.5 750.1M350 747.4L347.1 750L343.8 752.1M343.8 752.1L341.4 750.8M343.8 752.1L342.1 755.6M342.1 755.6L339.6 756.8M342.1 755.6M352 744L349.9 746.7M349.9 746.7L347.5 746.7M349.9 746.7L346.7 748M346.7 748L346.3 750.3M346.7 748L343.3 748.8M343.3 748.8L341.6 747.1M343.3 748.8L340 749.5M352 744L348.5 746.3M348.5 746.3L348.8 749.3M348.5 746.3L346.9 750.2L344.4 753.5L340.9 755.7M352 744L348.1 742.1M348.1 742.1L346.6 739.4M348.1 742.1L344.2 740M344.2 740L341.1 740.2M344.2 740L339.8 739.4M339.8 739.4L337.2 741M339.8 739.4L335.9 741.3M352 744L348.5 739.8M348.5 739.8L349.2 736.1M348.5 739.8L347.2 734.6L346.9 729.1M346.9 729.1L343.5 727.3M346.9 729.1L346 723.8M352 744L348.7 741.8L346.7 738.5L343.5 736.2M343.5 736.2L341 737.4M343.5 736.2L339.9 734.5M352 744L347.8 740.6L343.8 737.1L338.7 735.3L333.6 733.6M333.6 733.6L332.2 730.2M333.6 733.6M352 744L352.3 739.1M352.3 739.1L350.7 736M352.3 739.1L351.4 734.3L349.5 729.7M349.5 729.7L346.2 728.6M349.5 729.7L346.5 725.8M346.5 725.8L343.2 724.8M346.5 725.8M352 744L353.7 740.8M353.7 740.8L356.2 740.7M353.7 740.8L355.8 738M355.8 738L354.8 735.7M355.8 738L356.5 734.5M356.5 734.5L354.9 732.5M356.5 734.5L357.6 731.1M357.6 731.1L356.3 729M357.6 731.1M352 744L352.4 739.2M352.4 739.2L350.1 736.7M352.4 739.2L353.3 734.5M353.3 734.5L355.8 732.2M353.3 734.5L355.2 730.1L358.2 726.3M352 744L354.7 742.2M354.7 742.2L356.9 742.8M354.7 742.2L357 740L359.4 737.9M359.4 737.9L361.6 737.5M359.4 737.9L360.3 734.8M352 744L355.1 741.6M355.1 741.6L357.7 742.6M355.1 741.6L359 740.9L362.7 739.8L365.3 736.8M352 744L356.7 745.1L361.4 744.3L365.8 746.2M365.8 746.2L368.5 744.3M365.8 746.2L370 748.5M370 748.5L372.9 747M370 748.5" fill="none" stroke="#ff3a1a" stroke-width="1.5" stroke-opacity="0.95" stroke-linecap="round" stroke-linejoin="round"/>
<circle cx="352" cy="744" r="7" fill="#ff3030" opacity="0.4" filter="url(#b3)"/><circle cx="352" cy="744" r="3.5" fill="#ffffff" filter="url(#b1)"/>
<path d="M522 398L526.7 399.1L530.1 402.7M530.1 402.7L533.5 403.1M530.1 402.7L533.2 406.4L537.6 408.6M537.6 408.6L540.5 406.8M537.6 408.6M522 398L524.8 399.4M524.8 399.4L527 398.9M524.8 399.4L527.6 400.9M527.6 400.9L527.7 403.1M527.6 400.9L530.4 402.1L532.3 404.6M522 398L520.3 400.8L517.8 403M517.8 403L517.1 405.1M517.8 403L515 404.7L511.9 405.8M511.9 405.8L510.1 404.5M511.9 405.8M522 398L519.9 399.9M519.9 399.9L517.9 399.5M519.9 399.9L517.9 402M517.9 402L516 401.7M517.9 402L515.6 403.6M515.6 403.6L513.8 402.8M515.6 403.6L512.8 404.3M512.8 404.3L512.2 406.2M512.8 404.3M522 398L518.6 397.7M518.6 397.7L516.8 399.2M518.6 397.7L515.3 398L512.1 399L509.5 401.1M522 398L519.9 395.8M519.9 395.8L520.6 393.7M519.9 395.8L518.9 392.9M518.9 392.9L519.8 390.9M518.9 392.9L518.7 389.8M518.7 389.8L517.5 388M518.7 389.8L519.8 386.9M522 398L520.6 395.6M520.6 395.6L518.9 394.9M520.6 395.6L520.6 392.9M520.6 392.9L522.3 392M520.6 392.9L521.5 390.3M521.5 390.3L523.2 389.4M521.5 390.3L520.9 387.6M522 398L524.1 394.2L525.5 390.1M525.5 390.1L527.9 388.3M525.5 390.1L526.5 385.9M526.5 385.9L529 384.2M526.5 385.9L527.3 381.6M527.3 381.6L525.3 379.3M527.3 381.6" fill="none" stroke="#ff3a1a" stroke-width="1.5" stroke-opacity="0.95" stroke-linecap="round" stroke-linejoin="round"/>
<path d="M227 507.5L233.5 507.5L240 507.2M240 507.2L242.1 503.2M240 507.2L245.6 504L250.3 499.5M250.3 499.5L249.9 495M250.3 499.5M227 507.5L232.5 509M232.5 509L235.1 511.9M232.5 509L236.3 513.1L240.4 517.1M240.4 517.1L244.4 517.2M240.4 517.1L241.5 522.7M241.5 522.7L239.9 526.4M241.5 522.7M227 507.5L229.9 512.2L234.5 515.1L239.9 516.3L245.3 515.8M245.3 515.8L248.4 518M245.3 515.8M227 507.5L225.5 513.5M225.5 513.5L227.8 517.1M225.5 513.5L224.5 519.6M224.5 519.6L226.6 523.4M224.5 519.6L222.3 525.3M222.3 525.3L218.1 526.4M222.3 525.3L221.4 531.4M221.4 531.4L224 534.9M221.4 531.4M227 507.5L221.9 507.9L217.1 506.1L213.5 502.4L209.1 499.7M227 507.5L222.9 507.9L219.3 510L215.2 510.2M215.2 510.2L212.8 508.6M215.2 510.2L211.5 508.2M211.5 508.2L208.7 508.4M211.5 508.2M227 507.5L226.1 503.1M226.1 503.1L223.5 501.2M226.1 503.1L224.9 498.7M224.9 498.7L222.2 497.1M224.9 498.7L223.3 494.5M223.3 494.5L224.6 491.6M223.3 494.5L222.8 490M227 507.5L225.4 502.9L222.3 499.2L220.2 494.8L220.1 490M227 507.5L228 501.5M228 501.5L224.7 498.8M228 501.5L230.8 496.1M230.8 496.1L230.4 491.9M230.8 496.1L234.4 491.2M234.4 491.2L234.4 486.9M234.4 491.2L239.8 488.3M239.8 488.3L241.1 484.3M239.8 488.3M227 507.5L229.5 504.4L230.3 500.6M230.3 500.6L228.8 498.3M230.3 500.6L233 497.7M233 497.7L235.7 498.4M233 497.7L235.4 494.6M235.4 494.6L237.9 493.5M235.4 494.6" fill="none" stroke="#50a030" stroke-width="1" stroke-opacity="0.6" stroke-linecap="round" stroke-linejoin="round"/>
<path d="M112 514L115.1 512.5L118.5 512.3M118.5 512.3L120.6 513.3M118.5 512.3L121.6 511L124.3 509M124.3 509L124.6 506.6M124.3 509M112 514L114 517.7L114.7 521.8M114.7 521.8L117.5 522.7M114.7 521.8L115.1 525.9M115.1 525.9L116.8 528.3M115.1 525.9L117.7 529.2M117.7 529.2L118 532M117.7 529.2M112 514L113.4 519.4L117.3 523.4L119.7 528.5M119.7 528.5L117.3 531.7M119.7 528.5L122.3 533.5M112 514L112.6 518.1L113.9 522M113.9 522L112.7 524.6M113.9 522L114.5 526.1L112.7 529.8M112.7 529.8L109.9 530.6M112.7 529.8M112 514L108.1 513.7L104.7 515.5M104.7 515.5L103.9 518.2M104.7 515.5L101.8 518.2M101.8 518.2L101.9 520.9M101.8 518.2L99.5 521.3M99.5 521.3L99.6 524.1M99.5 521.3M112 514L108.2 514.2L104.8 512.6M104.8 512.6L103.8 510.1M104.8 512.6L101 513M101 513L98.8 511.5M101 513L97.7 515M112 514L108 513.2M108 513.2L106.8 510.6M108 513.2L104.3 511.4L100.9 509.1M100.9 509.1L98 509.6M100.9 509.1L97.3 507.1M112 514L109.3 508.9M109.3 508.9L105.3 508.4M109.3 508.9L104.3 505.9M104.3 505.9L103.4 502M104.3 505.9L100.2 501.8L94.9 499.6M94.9 499.6L91.7 502M94.9 499.6M112 514L111.6 509.9L109 506.7M109 506.7L106.1 507.2M109 506.7L105.1 505.2L102.1 502.4M112 514L114 511.3L115.7 508.3L116.2 505L115.1 501.8M115.1 501.8L113.2 500.4M115.1 501.8" fill="none" stroke="#50a030" stroke-width="1" stroke-opacity="0.6" stroke-linecap="round" stroke-linejoin="round"/>
<path d="M352 621L357.5 622.5M357.5 622.5L359.2 626.1M357.5 622.5L362.9 624.4L367.5 627.8L371.8 631.6M352 621L353.4 625M353.4 625L356.1 626.2M353.4 625L355.7 628.5M355.7 628.5L355 631.4M355.7 628.5L357.6 632.3L360.7 635.2M352 621L350.9 625.4L348 628.9M348 628.9L348.4 632.1M348 628.9L346.7 633.3M346.7 633.3L348.6 635.8M346.7 633.3L344.9 637.5M344.9 637.5L346.7 640.1M344.9 637.5M352 621L352.5 626.6L350.9 632M350.9 632L352.9 635.4M350.9 632L346.6 635.6L341.1 637.1M352 621L348.3 621.5L344.7 622.2M344.7 622.2L342.5 620.9M344.7 622.2L341 622.3M341 622.3L338.8 623.6M341 622.3L337.4 623.3M337.4 623.3L336.9 625.8M337.4 623.3M352 621L347.9 622.3L343.6 622.1M343.6 622.1L341.6 619.9M343.6 622.1L339.6 620.8M339.6 620.8L337 622.2M339.6 620.8L335.5 619.5M352 621L346.8 618.4L341.3 616.5L335.7 615.2M335.7 615.2L332 616.9M335.7 615.2L330.3 612.9M330.3 612.9L328.2 609.4M330.3 612.9M352 621L349 616.3M349 616.3L345.3 614.8M349 616.3L344 613.7L340.2 609.6L336 605.8M336 605.8L332.1 605.1M336 605.8M352 621L354.6 617L354.8 612.3L352.6 608.1M352.6 608.1L349.4 607.4M352.6 608.1L348.8 605.4M352 621L352.9 617.5L353.8 614M353.8 614L356 612.7M353.8 614L355.3 610.7M355.3 610.7L357.8 610.2M355.3 610.7L355.1 607.1M355.1 607.1L356.8 605.3M355.1 607.1" fill="none" stroke="#50a030" stroke-width="1" stroke-opacity="0.6" stroke-linecap="round" stroke-linejoin="round"/>
<path d="M188.7 690L191.6 691.4L193.5 693.9L195.1 696.7L197.7 698.5M197.7 698.5L198.5 700.6M197.7 698.5M188.7 690L191.9 692.8L193.7 696.6M193.7 696.6L193 699.4M193.7 696.6L196.1 700.1M196.1 700.1L195.9 703M196.1 700.1L199 703.1M188.7 690L190.5 694.8M190.5 694.8L188.5 697.7M190.5 694.8L194.5 697.8L199.2 699.7M199.2 699.7L202.7 699.1M199.2 699.7L202.8 703.3M202.8 703.3L202.9 706.9M202.8 703.3M188.7 690L185.8 693.3M185.8 693.3L182.8 694.1M185.8 693.3L184.8 697.6L186.2 701.8M186.2 701.8L188.9 703.4M186.2 701.8L186.6 706.2M186.6 706.2L184.3 708.4M186.6 706.2M188.7 690L186.4 692L184.3 694.3M184.3 694.3L184.8 696.4M184.3 694.3L181.5 695.6L179.3 697.6M179.3 697.6L177.1 697.8M179.3 697.6M188.7 690L185.3 691.5L182.5 694M182.5 694L182 696.5M182.5 694L178.8 694.5L175.5 696.2M175.5 696.2L174.3 698.5M175.5 696.2M188.7 690L186.6 685.6L182.9 682.5M182.9 682.5L179.5 682.6M182.9 682.5L178.3 681L175.1 677.3M188.7 690L189.5 684.6L188.6 679.2M188.6 679.2L186.1 676.2M188.6 679.2L187.1 673.9M187.1 673.9L183.5 672.6M187.1 673.9L188.3 668.6M188.7 690L192.1 686.3M192.1 686.3L195.6 686M192.1 686.3L196.7 684.4L200.2 680.8L204.5 678.2M188.7 690L192 685.9M192 685.9L191.7 682.3M192 685.9L193.7 681M193.7 681L193 677.4M193.7 681L192.7 675.8L190.5 671.1" fill="none" stroke="#50a030" stroke-width="1" stroke-opacity="0.6" stroke-linecap="round" stroke-linejoin="round"/>
<path d="M476.5 666L481.3 666.9M481.3 666.9L483.8 664.6M481.3 666.9L486 665.7M486 665.7L489.2 666.7M486 665.7L490.3 663.5L494 660.3M476.5 666L480.2 668.2M480.2 668.2L483.2 668.2M480.2 668.2L484.5 668.1M484.5 668.1L486.3 665.7M484.5 668.1L488.8 667.5L492.7 669.2M492.7 669.2L493.7 672M492.7 669.2M476.5 666L476.2 669.2M476.2 669.2L477.8 670.8M476.2 669.2L476.8 672.3L475.7 675.3L476.3 678.4M476.3 678.4L477.9 679.9M476.3 678.4M476.5 666L474 668.3L472.2 671L469.8 673.4M469.8 673.4L467.5 672.9M469.8 673.4L467.2 675.5M476.5 666L472.1 667.3L467.6 666.9L463.4 668.8L458.9 668.3M476.5 666L473.1 667M473.1 667L470.9 665.8M473.1 667L470.5 669.4L468.4 672.3L467.1 675.6M467.1 675.6L468.4 677.7M467.1 675.6M476.5 666L473.1 665.6M473.1 665.6L472 663.5M473.1 665.6L469.7 666.3L466.3 666.6M466.3 666.6L464.5 665M466.3 666.6L463.1 667.7M463.1 667.7L461.2 666.3M463.1 667.7M476.5 666L476.4 661.4M476.4 661.4L473.9 659.3M476.4 661.4L478.5 657.3L482.4 654.8M482.4 654.8L483.5 651.8M482.4 654.8L486.6 653.1M486.6 653.1L487.5 650M486.6 653.1M476.5 666L477.2 662.1L479.8 659.1M479.8 659.1L480.1 656.3M479.8 659.1L483.4 657.4L487.4 657.4M487.4 657.4L489.8 658.8M487.4 657.4M476.5 666L478.6 663.5L480.2 660.8L480.9 657.6L481.4 654.5" fill="none" stroke="#50a030" stroke-width="1" stroke-opacity="0.6" stroke-linecap="round" stroke-linejoin="round"/>
<circle cx="140.7" cy="458" r="9" fill="#ff3080" opacity="0.4" filter="url(#b3)"/><circle cx="140.7" cy="458" r="6" fill="#ff60a0" filter="url(#b1)"/>
<g filter="url(#b1)"><circle cx="273.4" cy="418" r="3.1" fill="#3030f0"/><circle cx="306" cy="451" r="3.1" fill="#3030f0"/><circle cx="410.8" cy="451.2" r="3.1" fill="#3030f0"/><circle cx="442" cy="451" r="3.1" fill="#3030f0"/><circle cx="113.8" cy="501" r="3.1" fill="#3030f0"/><circle cx="187.8" cy="528" r="3.1" fill="#3030f0"/><circle cx="224.5" cy="520" r="3.1" fill="#3030f0"/><circle cx="232.7" cy="550" r="3.1" fill="#3030f0"/><circle cx="297" cy="593.4" r="3.1" fill="#3030f0"/><circle cx="435.2" cy="649" r="3.1" fill="#3030f0"/><circle cx="451.5" cy="653" r="3.1" fill="#3030f0"/><circle cx="427" cy="698" r="3.1" fill="#3030f0"/><circle cx="493.7" cy="726.7" r="3.1" fill="#3030f0"/><circle cx="514" cy="728" r="3.1" fill="#3030f0"/><circle cx="442" cy="744" r="3.1" fill="#3030f0"/><circle cx="322.4" cy="683" r="3.1" fill="#3030f0"/><circle cx="393" cy="642.4" r="3.1" fill="#3030f0"/><circle cx="346.9" cy="448" r="3.1" fill="#3030f0"/><circle cx="198.7" cy="463" r="3.1" fill="#3030f0"/></g>
<g opacity="0.85"><circle cx="502.6" cy="592.7" r="1.3" fill="#ff3070"/><circle cx="249.5" cy="680.5" r="0.7" fill="#ff40a0"/><circle cx="194.7" cy="591.3" r="0.8" fill="#40c040"/><circle cx="126.5" cy="481.1" r="0.8" fill="#ff40a0"/><circle cx="426" cy="420.5" r="2.6" fill="#ff40a0"/><circle cx="125.8" cy="492.9" r="0.7" fill="#ff2060"/><circle cx="373.5" cy="430.6" r="2.6" fill="#40c040"/><circle cx="420.1" cy="562.1" r="1.3" fill="#ff3070"/><circle cx="216.6" cy="489.1" r="1.2" fill="#e02040"/><circle cx="217.6" cy="489.2" r="1.2" fill="#ff40a0"/><circle cx="418.8" cy="408.7" r="1.4" fill="#ff3070"/><circle cx="151.6" cy="457.8" r="1.3" fill="#ff3070"/><circle cx="229.4" cy="451.5" r="1.5" fill="#ff3070"/><circle cx="258.3" cy="648.5" r="1.3" fill="#ff2060"/><circle cx="156.6" cy="538.8" r="1.6" fill="#ff3070"/><circle cx="274.6" cy="706.9" r="1.3" fill="#ff3070"/><circle cx="166" cy="724.4" r="1.5" fill="#40c040"/><circle cx="130" cy="573.5" r="2.4" fill="#ff3070"/><circle cx="161.6" cy="586.8" r="1.4" fill="#ff3070"/><circle cx="385.5" cy="506.7" r="1.5" fill="#ff3070"/><circle cx="508.9" cy="539.7" r="1.4" fill="#ff40a0"/><circle cx="411.9" cy="577.2" r="1.4" fill="#e02040"/><circle cx="263.7" cy="642.9" r="1.4" fill="#ff40a0"/><circle cx="556" cy="623.7" r="0.8" fill="#ff3070"/><circle cx="170.9" cy="691.3" r="2.8" fill="#ff40a0"/><circle cx="208.1" cy="748.9" r="1.3" fill="#ff3070"/><circle cx="548.5" cy="730.1" r="1.3" fill="#e02040"/><circle cx="442.7" cy="743.7" r="1.3" fill="#ff2060"/><circle cx="145.5" cy="540.2" r="1.4" fill="#ff2060"/><circle cx="107.9" cy="491.8" r="1.4" fill="#ff3070"/><circle cx="386.1" cy="672.6" r="1.1" fill="#40c040"/><circle cx="454.1" cy="552.6" r="1.6" fill="#ff3070"/><circle cx="470" cy="493.2" r="2.4" fill="#ff3070"/><circle cx="519.5" cy="426.3" r="1.3" fill="#ff3070"/><circle cx="400" cy="473.9" r="1.4" fill="#40c040"/><circle cx="281.8" cy="428.8" r="0.7" fill="#ff3070"/><circle cx="426.9" cy="468.4" r="1.9" fill="#ff2060"/><circle cx="181.5" cy="549" r="2.5" fill="#ff2060"/><circle cx="245.7" cy="469.4" r="2.6" fill="#ff40a0"/><circle cx="226.9" cy="396.1" r="1.4" fill="#40c040"/><circle cx="386.3" cy="464.1" r="0.8" fill="#ff2060"/><circle cx="292.9" cy="732.8" r="0.9" fill="#ff40a0"/><circle cx="318.6" cy="664.8" r="1" fill="#ff3070"/><circle cx="354.7" cy="532.5" r="1.1" fill="#ff2060"/><circle cx="188.7" cy="624.6" r="1.2" fill="#ff2060"/><circle cx="286.4" cy="506.8" r="1.5" fill="#e02040"/><circle cx="505.2" cy="582.8" r="1.1" fill="#ff3070"/><circle cx="88.6" cy="506.2" r="0.7" fill="#ff2060"/><circle cx="133.6" cy="746.4" r="1.1" fill="#e02040"/><circle cx="142.3" cy="450.6" r="0.8" fill="#e02040"/><circle cx="126.8" cy="656.9" r="2.2" fill="#40c040"/><circle cx="368.2" cy="523.9" r="0.9" fill="#ff3070"/><circle cx="422.3" cy="394.6" r="0.8" fill="#e02040"/><circle cx="238.2" cy="513" r="1.2" fill="#ff2060"/><circle cx="526.6" cy="690" r="1.3" fill="#e02040"/><circle cx="542" cy="478.9" r="0.8" fill="#ff2060"/><circle cx="366.3" cy="633.6" r="1.2" fill="#e02040"/><circle cx="382.8" cy="648.7" r="0.9" fill="#e02040"/><circle cx="530.7" cy="595.5" r="2.6" fill="#ff40a0"/><circle cx="314.4" cy="670.6" r="1" fill="#ff3070"/><circle cx="92.5" cy="448" r="1.2" fill="#ff40a0"/><circle cx="535.9" cy="447.2" r="1.6" fill="#ff3070"/><circle cx="128.1" cy="424.6" r="2.1" fill="#ff2060"/><circle cx="375.8" cy="725.1" r="1" fill="#e02040"/><circle cx="347.4" cy="394.5" r="1.6" fill="#ff3070"/><circle cx="434.3" cy="547.6" r="1.3" fill="#ff40a0"/><circle cx="347.9" cy="719.9" r="0.6" fill="#ff2060"/><circle cx="412.6" cy="536" r="1.1" fill="#ff3070"/><circle cx="418" cy="583.7" r="0.9" fill="#40c040"/><circle cx="436.2" cy="710.3" r="2.6" fill="#ff40a0"/><circle cx="322.7" cy="427.3" r="1.2" fill="#40c040"/><circle cx="96.9" cy="417.1" r="1.4" fill="#e02040"/><circle cx="345.8" cy="441.2" r="1.4" fill="#ff3070"/><circle cx="82" cy="596.6" r="1.1" fill="#ff40a0"/><circle cx="109.8" cy="717.3" r="1.5" fill="#ff3070"/><circle cx="228" cy="610.3" r="1" fill="#ff40a0"/><circle cx="377.6" cy="471.4" r="0.9" fill="#ff3070"/><circle cx="483.3" cy="576.9" r="1.4" fill="#ff3070"/><circle cx="272.2" cy="598.9" r="2.8" fill="#ff3070"/><circle cx="165.7" cy="588.4" r="2.3" fill="#e02040"/><circle cx="472.4" cy="440" r="1" fill="#ff40a0"/><circle cx="311.3" cy="571.9" r="0.8" fill="#e02040"/><circle cx="355.3" cy="565.7" r="0.8" fill="#ff3070"/><circle cx="528.6" cy="734.2" r="1.5" fill="#e02040"/><circle cx="178.9" cy="699.6" r="1.4" fill="#40c040"/><circle cx="191.6" cy="708.5" r="1.6" fill="#ff3070"/><circle cx="545.6" cy="425.1" r="1" fill="#ff3070"/><circle cx="81.9" cy="494" r="1.1" fill="#ff3070"/><circle cx="469.2" cy="617.3" r="0.8" fill="#40c040"/><circle cx="401.8" cy="408.7" r="1.4" fill="#ff3070"/><circle cx="350.6" cy="664.9" r="1" fill="#ff40a0"/><circle cx="516.1" cy="396.2" r="2.1" fill="#ff3070"/><circle cx="420" cy="482.8" r="1.4" fill="#40c040"/><circle cx="272.1" cy="522.7" r="0.7" fill="#e02040"/><circle cx="211.5" cy="595.9" r="1.9" fill="#ff40a0"/><circle cx="295.3" cy="716" r="0.8" fill="#40c040"/><circle cx="244.5" cy="516.3" r="2.6" fill="#40c040"/><circle cx="296.3" cy="616.1" r="0.8" fill="#ff40a0"/><circle cx="182.8" cy="478.5" r="0.9" fill="#ff3070"/><circle cx="550.2" cy="559.5" r="1" fill="#e02040"/><circle cx="518" cy="603" r="1.5" fill="#e02040"/><circle cx="119.5" cy="521" r="1.4" fill="#ff3070"/><circle cx="491.5" cy="532.5" r="2.2" fill="#ff3070"/><circle cx="178.3" cy="533.4" r="2.2" fill="#40c040"/><circle cx="262.4" cy="583.6" r="0.7" fill="#ff2060"/><circle cx="178.9" cy="616.2" r="1.5" fill="#ff40a0"/><circle cx="489.4" cy="427.7" r="1" fill="#40c040"/><circle cx="539.4" cy="485.1" r="2.5" fill="#ff2060"/><circle cx="445.7" cy="676.9" r="1.2" fill="#ff40a0"/><circle cx="470.8" cy="605.1" r="1.4" fill="#40c040"/><circle cx="399.8" cy="455.4" r="1.1" fill="#e02040"/><circle cx="223.6" cy="585.2" r="1.2" fill="#ff2060"/><circle cx="529.3" cy="645.3" r="1" fill="#ff40a0"/><circle cx="109.2" cy="718.7" r="0.7" fill="#40c040"/><circle cx="365.7" cy="632.9" r="1.2" fill="#ff3070"/><circle cx="80.2" cy="726.6" r="0.7" fill="#e02040"/><circle cx="242.4" cy="723.4" r="1.5" fill="#ff40a0"/><circle cx="83.7" cy="534.6" r="1.5" fill="#ff3070"/><circle cx="347.3" cy="558.4" r="2.1" fill="#e02040"/><circle cx="177.2" cy="513.9" r="1.9" fill="#e02040"/><circle cx="163.9" cy="687" r="0.6" fill="#40c040"/><circle cx="231.7" cy="563.9" r="0.9" fill="#ff2060"/><circle cx="253" cy="597.3" r="1.1" fill="#40c040"/><circle cx="253.3" cy="726.4" r="0.8" fill="#ff40a0"/><circle cx="279.8" cy="689.8" r="1.1" fill="#e02040"/><circle cx="344.9" cy="443.9" r="2.6" fill="#e02040"/><circle cx="156.6" cy="667.3" r="1.2" fill="#e02040"/><circle cx="541.1" cy="499.8" r="1.2" fill="#ff3070"/><circle cx="217.4" cy="585.9" r="0.9" fill="#40c040"/><circle cx="295.2" cy="549.2" r="2.8" fill="#ff2060"/><circle cx="89.1" cy="699.6" r="2.2" fill="#e02040"/><circle cx="376.7" cy="544.4" r="0.8" fill="#40c040"/><circle cx="472.8" cy="398.5" r="1.3" fill="#ff3070"/><circle cx="85.8" cy="550.3" r="1.2" fill="#ff3070"/><circle cx="547.7" cy="402.3" r="1.1" fill="#40c040"/><circle cx="417.2" cy="394.9" r="1.4" fill="#ff3070"/><circle cx="381.7" cy="508.4" r="1.6" fill="#ff3070"/><circle cx="397.8" cy="576.2" r="1.5" fill="#ff40a0"/><circle cx="96.3" cy="628.7" r="2" fill="#ff40a0"/><circle cx="167" cy="609.2" r="1.4" fill="#ff2060"/><circle cx="416.1" cy="587" r="0.7" fill="#e02040"/><circle cx="192.2" cy="484.6" r="2.3" fill="#40c040"/><circle cx="391.7" cy="614" r="0.8" fill="#ff3070"/><circle cx="308.7" cy="515.6" r="1" fill="#ff40a0"/><circle cx="352.4" cy="696.4" r="1" fill="#e02040"/><circle cx="268.3" cy="533.1" r="1.1" fill="#ff2060"/><circle cx="344.8" cy="552.3" r="0.9" fill="#e02040"/><circle cx="300.2" cy="726.2" r="2.8" fill="#ff40a0"/><circle cx="265.6" cy="456.1" r="2.5" fill="#ff3070"/><circle cx="333.1" cy="425" r="1.4" fill="#ff2060"/><circle cx="452" cy="599.7" r="0.6" fill="#ff3070"/><circle cx="507.4" cy="503.5" r="0.8" fill="#ff3070"/><circle cx="318.5" cy="487.6" r="1.2" fill="#ff3070"/><circle cx="85.9" cy="453" r="1.1" fill="#e02040"/><circle cx="330" cy="423" r="1" fill="#40c040"/><circle cx="163.8" cy="738.8" r="1.4" fill="#ff3070"/><circle cx="114.3" cy="428.8" r="1.3" fill="#ff2060"/><circle cx="124.9" cy="693.9" r="0.7" fill="#40c040"/><circle cx="378.1" cy="439.6" r="2.4" fill="#ff40a0"/><circle cx="271.3" cy="414.8" r="1" fill="#ff3070"/><circle cx="211.4" cy="730.1" r="1" fill="#ff40a0"/><circle cx="115.8" cy="698.4" r="1.4" fill="#ff40a0"/><circle cx="84.7" cy="535.4" r="1.2" fill="#e02040"/><circle cx="357.7" cy="474.2" r="2.8" fill="#ff40a0"/><circle cx="147.5" cy="634.2" r="1.1" fill="#ff3070"/><circle cx="294.3" cy="407.1" r="1.4" fill="#ff40a0"/><circle cx="457.5" cy="454.5" r="1.6" fill="#ff2060"/><circle cx="272" cy="546.1" r="1.5" fill="#40c040"/><circle cx="244.1" cy="524.6" r="2.4" fill="#e02040"/><circle cx="303.1" cy="401.5" r="2.1" fill="#ff3070"/><circle cx="308.1" cy="610.5" r="0.9" fill="#40c040"/><circle cx="404.4" cy="645.1" r="2.5" fill="#ff3070"/><circle cx="556.6" cy="488.5" r="1.8" fill="#ff3070"/><circle cx="333" cy="553.1" r="2.6" fill="#ff2060"/><circle cx="400.3" cy="401.9" r="1.5" fill="#e02040"/><circle cx="107.8" cy="711" r="2.7" fill="#ff3070"/><circle cx="290.5" cy="671.9" r="0.7" fill="#ff3070"/><circle cx="122.5" cy="745.3" r="2.4" fill="#ff2060"/><circle cx="87.3" cy="531.6" r="1" fill="#e02040"/><circle cx="331.4" cy="436.2" r="2" fill="#ff3070"/><circle cx="531.1" cy="493" r="1.5" fill="#ff3070"/><circle cx="431" cy="633.4" r="0.7" fill="#ff3070"/><circle cx="291.1" cy="583.4" r="2" fill="#ff2060"/><circle cx="295.6" cy="481.9" r="1.8" fill="#ff2060"/><circle cx="476.1" cy="676.6" r="0.9" fill="#e02040"/><circle cx="321.9" cy="530.8" r="0.7" fill="#ff3070"/><circle cx="464.7" cy="618.6" r="2.6" fill="#ff40a0"/><circle cx="448.7" cy="424.6" r="1.2" fill="#ff3070"/><circle cx="391.6" cy="655.2" r="0.8" fill="#ff40a0"/><circle cx="215.5" cy="507" r="0.9" fill="#ff3070"/><circle cx="188.9" cy="565.9" r="1.4" fill="#ff3070"/><circle cx="208.8" cy="656" r="1.4" fill="#ff3070"/><circle cx="129.9" cy="414.7" r="1.4" fill="#ff3070"/><circle cx="180.9" cy="581.3" r="1.6" fill="#40c040"/><circle cx="166.2" cy="456" r="0.7" fill="#40c040"/><circle cx="81.1" cy="626.7" r="1" fill="#ff2060"/><circle cx="229.2" cy="447.6" r="2.7" fill="#ff2060"/><circle cx="92.7" cy="673.5" r="1.6" fill="#40c040"/><circle cx="289" cy="716.1" r="0.9" fill="#ff3070"/><circle cx="246.2" cy="591.5" r="0.6" fill="#40c040"/></g>
</g>
<text x="10.3" y="23.5" font-size="37.5">a</text>
<text x="574.86" y="57.4" font-size="37.5">b</text>
<text x="1384.5" y="57.2" font-size="37.5">c</text>
<text x="69.4" y="855.5" font-size="37.5">d</text>
<text x="815.7" y="664.3" font-size="37.5">e</text>
<text x="983.8" y="1666" font-size="37.5">g</text>
<text x="8.71" y="1665.7" font-size="36" textLength="11.01" lengthAdjust="spacingAndGlyphs">f</text>
<text transform="translate(60.3 276.5) rotate(-90)" font-size="36" font-weight="bold" textLength="114.54" lengthAdjust="spacingAndGlyphs">miR-ctl</text>
<text transform="translate(60.8 619.99) rotate(-90)" font-size="36" font-weight="bold" textLength="134.23" lengthAdjust="spacingAndGlyphs">miR-145</text>
<text x="79.44" y="791.5" font-size="31.5" font-weight="bold" fill="#fd2b1c" textLength="108.95" lengthAdjust="spacingAndGlyphs">F-actin</text>
<text x="196.48" y="791.5" font-size="31.5" font-weight="bold" fill="#56f92a" textLength="82.35" lengthAdjust="spacingAndGlyphs">Olig2</text>
<text x="287.55" y="791.5" font-size="31.5" font-weight="bold" fill="#fd45fb" textLength="76.86" lengthAdjust="spacingAndGlyphs">MBP</text>
<text x="372.45" y="791.5" font-size="31.5" font-weight="bold" fill="#1e10f3" textLength="130.66" lengthAdjust="spacingAndGlyphs">Hoechst</text>
<line x1="744.6" y1="48.6" x2="744.6" y2="385" stroke="#cacaca" stroke-width="2"/>
<line x1="841.9" y1="48.6" x2="841.9" y2="385" stroke="#cacaca" stroke-width="2"/>
<line x1="939.1" y1="48.6" x2="939.1" y2="385" stroke="#cacaca" stroke-width="2"/>
<line x1="1036.3" y1="48.6" x2="1036.3" y2="385" stroke="#cacaca" stroke-width="2"/>
<line x1="1133.5" y1="48.6" x2="1133.5" y2="385" stroke="#cacaca" stroke-width="2"/>
<line x1="687" y1="86.5" x2="1191" y2="86.5" stroke="#cacaca" stroke-width="2"/>
<line x1="687" y1="151.3" x2="1191" y2="151.3" stroke="#cacaca" stroke-width="2"/>
<line x1="687" y1="216.6" x2="1191" y2="216.6" stroke="#cacaca" stroke-width="2"/>
<line x1="687" y1="281.4" x2="1191" y2="281.4" stroke="#cacaca" stroke-width="2"/>
<line x1="687" y1="346.6" x2="1191" y2="346.6" stroke="#cacaca" stroke-width="2"/>
<line x1="686.9" y1="48.6" x2="686.9" y2="387.4" stroke="#000" stroke-width="3.6"/>
<line x1="685.1" y1="385.4" x2="1191" y2="385.4" stroke="#000" stroke-width="4"/>
<line x1="744.6" y1="385" x2="744.6" y2="397.5" stroke="#000" stroke-width="4"/>
<line x1="841.9" y1="385" x2="841.9" y2="397.5" stroke="#000" stroke-width="4"/>
<line x1="939.1" y1="385" x2="939.1" y2="397.5" stroke="#000" stroke-width="4"/>
<line x1="1036.3" y1="385" x2="1036.3" y2="397.5" stroke="#000" stroke-width="4"/>
<line x1="1133.5" y1="385" x2="1133.5" y2="397.5" stroke="#000" stroke-width="4"/>
<line x1="674" y1="86.5" x2="687" y2="86.5" stroke="#000" stroke-width="4"/>
<line x1="674" y1="151.3" x2="687" y2="151.3" stroke="#000" stroke-width="4"/>
<line x1="674" y1="216.6" x2="687" y2="216.6" stroke="#000" stroke-width="4"/>
<line x1="674" y1="281.4" x2="687" y2="281.4" stroke="#000" stroke-width="4"/>
<line x1="674" y1="346.6" x2="687" y2="346.6" stroke="#000" stroke-width="4"/>
<text x="646.08" y="95.2" font-size="24.5" font-weight="bold">10</text>
<text x="659.31" y="160" font-size="24.5" font-weight="bold">5</text>
<text x="659.68" y="225.3" font-size="24.5" font-weight="bold">0</text>
<text x="651.11" y="290.1" font-size="24.5" font-weight="bold">-5</text>
<text x="637.88" y="355.3" font-size="24.5" font-weight="bold">-10</text>
<text x="726.9" y="423" font-size="24.5" font-weight="bold">-10</text>
<text x="830.81" y="423" font-size="24.5" font-weight="bold">-5</text>
<text x="932.3" y="423" font-size="24.5" font-weight="bold">0</text>
<text x="1029.44" y="423" font-size="24.5" font-weight="bold">5</text>
<text x="1119.66" y="423" font-size="24.5" font-weight="bold">10</text>
<circle cx="811.6" cy="149.6" r="6.6" fill="#fc2b12"/>
<circle cx="833.3" cy="283.9" r="6.6" fill="#fc2b12"/>
<rect x="1062.6" y="155.9" width="13" height="13" fill="#000"/>
<rect x="1032.4" y="264.7" width="13" height="13" fill="#000"/>
<text x="824.6" y="154.5" font-size="17.5">N1</text>
<text x="846.8" y="289.5" font-size="17.5">N2</text>
<text x="1082.2" y="168.4" font-size="17.5">N1</text>
<text x="1051.5" y="276.7" font-size="17.5">N2</text>
<rect x="1197.4" y="60.4" width="13" height="13" fill="#000"/>
<circle cx="1203.9" cy="107.4" r="6.6" fill="#fc2b12"/>
<text x="1241.71" y="75.8" font-size="26" textLength="85.59" lengthAdjust="spacingAndGlyphs">miR-ctl</text>
<text x="1241.67" y="116.2" font-size="26" textLength="106.63" lengthAdjust="spacingAndGlyphs">miR-145</text>
<text x="814.99" y="474" font-size="28.5" font-weight="bold" textLength="247.76" lengthAdjust="spacingAndGlyphs">PC1: 55% variance</text>
<text transform="translate(607.3 341.61) rotate(-90)" font-size="28.5" font-weight="bold" textLength="247.97" lengthAdjust="spacingAndGlyphs">PC2: 36% variance</text>
<path d="M1565.6 156.5 V75.2 H1621.9 V156.5 M1677.8 156.5 V68.9 H1734 V156.5 M1593.75 75.2 V46.5 H1705.9 V68.9" fill="none" stroke="#3a3a3a" stroke-width="1.6"/>
<path d="M1533 189.2 H1446.4 V245.1 H1533 M1533 301.4 H1452.3 V357.6 H1533 M1446.4 217.15 H1424.4 V329.5 H1452.3" fill="none" stroke="#3a3a3a" stroke-width="1.6"/>
<rect x="1538" y="161.3" width="56" height="56.3" fill="#fdfdff"/>
<rect x="1593.7" y="161.3" width="56.3" height="56.3" fill="#eaf3fb"/>
<rect x="1649.7" y="161.3" width="56.5" height="56.3" fill="#d2e6f4"/>
<rect x="1705.9" y="161.3" width="56.3" height="56.3" fill="#1f356e"/>
<rect x="1538" y="217.3" width="56" height="56.3" fill="#d5e8f5"/>
<rect x="1593.7" y="217.3" width="56.3" height="56.3" fill="#fdfeff"/>
<rect x="1649.7" y="217.3" width="56.5" height="56.3" fill="#1f356e"/>
<rect x="1705.9" y="217.3" width="56.3" height="56.3" fill="#d2e6f4"/>
<rect x="1538" y="273.3" width="56" height="56.2" fill="#c5dff2"/>
<rect x="1593.7" y="273.3" width="56.3" height="56.2" fill="#1f356e"/>
<rect x="1649.7" y="273.3" width="56.5" height="56.2" fill="#fdfeff"/>
<rect x="1705.9" y="273.3" width="56.3" height="56.2" fill="#ecf4fb"/>
<rect x="1538" y="329.2" width="56" height="56.3" fill="#1f356e"/>
<rect x="1593.7" y="329.2" width="56.3" height="56.3" fill="#c4dff1"/>
<rect x="1649.7" y="329.2" width="56.5" height="56.3" fill="#d6e8f5"/>
<rect x="1705.9" y="329.2" width="56.3" height="56.3" fill="#fdfdff"/>
<text x="1765.67" y="202.4" font-size="24" font-weight="bold" textLength="128.47" lengthAdjust="spacingAndGlyphs">miR-145 N1</text>
<text x="1765.66" y="258.3" font-size="24" font-weight="bold" textLength="128.83" lengthAdjust="spacingAndGlyphs">miR-145 N2</text>
<text x="1765.7" y="314.6" font-size="24" font-weight="bold" textLength="114.19" lengthAdjust="spacingAndGlyphs">miR-ctl N1</text>
<text x="1765.69" y="370.8" font-size="24" font-weight="bold" textLength="114.54" lengthAdjust="spacingAndGlyphs">miR-ctl N2</text>
<text transform="translate(1574.6 505.11) rotate(-90)" font-size="24" font-weight="bold" textLength="114.54" lengthAdjust="spacingAndGlyphs">miR-ctl N2</text>
<text transform="translate(1630.9 505.1) rotate(-90)" font-size="24" font-weight="bold" textLength="114.19" lengthAdjust="spacingAndGlyphs">miR-ctl N1</text>
<text transform="translate(1686.8 519.34) rotate(-90)" font-size="24" font-weight="bold" textLength="128.83" lengthAdjust="spacingAndGlyphs">miR-145 N2</text>
<text transform="translate(1743 519.33) rotate(-90)" font-size="24" font-weight="bold" textLength="128.47" lengthAdjust="spacingAndGlyphs">miR-145 N1</text>
<defs><linearGradient id="ck" x1="0" x2="1" y1="0" y2="0"><stop offset="0" stop-color="#1f356e"/><stop offset="0.45" stop-color="#4a7cc0"/><stop offset="0.8" stop-color="#c8dcf0"/><stop offset="1" stop-color="#ffffff"/></linearGradient></defs>
<rect x="1464.4" y="102.8" width="13.6" height="6" fill="#111"/>
<rect x="1477.8" y="102.8" width="54.5" height="5.2" fill="url(#ck)"/>
<line x1="1477.8" y1="108.2" x2="1532.3" y2="108.2" stroke="#40c8c0" stroke-width="1.2"/>
<line x1="1477.3" y1="108.8" x2="1477.3" y2="121" stroke="#222" stroke-width="1.5"/>
<line x1="1488.1" y1="108.8" x2="1488.1" y2="121" stroke="#222" stroke-width="1.5"/>
<line x1="1498.8" y1="108.8" x2="1498.8" y2="121" stroke="#222" stroke-width="1.5"/>
<line x1="1509.4" y1="108.8" x2="1509.4" y2="121" stroke="#222" stroke-width="1.5"/>
<line x1="1520.1" y1="108.8" x2="1520.1" y2="121" stroke="#222" stroke-width="1.5"/>
<line x1="1531" y1="108.8" x2="1531" y2="121" stroke="#222" stroke-width="1.5"/>
<text x="1471.42" y="154.2" font-size="21">0</text>
<text x="1508.09" y="154.2" font-size="21">20</text>
<text transform="translate(1447.6 114.88) rotate(-90)" font-size="21">0</text>
<line x1="209.3" y1="889.9" x2="209.3" y2="1415.5" stroke="#000" stroke-width="5.6"/>
<line x1="206.5" y1="1412.7" x2="627.5" y2="1412.7" stroke="#000" stroke-width="5.4"/>
<line x1="193.1" y1="892.6" x2="209.3" y2="892.6" stroke="#000" stroke-width="4.8"/>
<line x1="193.1" y1="1066" x2="209.3" y2="1066" stroke="#000" stroke-width="4.8"/>
<line x1="193.1" y1="1239.3" x2="209.3" y2="1239.3" stroke="#000" stroke-width="4.8"/>
<line x1="193.1" y1="1412.7" x2="209.3" y2="1412.7" stroke="#000" stroke-width="4.8"/>
<line x1="198" y1="1051.2" x2="209.3" y2="1051.2" stroke="#000" stroke-width="4.6"/>
<line x1="198" y1="1032.8" x2="209.3" y2="1032.8" stroke="#000" stroke-width="4.6"/>
<line x1="198" y1="1007.7" x2="209.3" y2="1007.7" stroke="#000" stroke-width="4.6"/>
<line x1="198" y1="970.7" x2="209.3" y2="970.7" stroke="#000" stroke-width="4.6"/>
<line x1="198" y1="1224.5" x2="209.3" y2="1224.5" stroke="#000" stroke-width="4.6"/>
<line x1="198" y1="1206.1" x2="209.3" y2="1206.1" stroke="#000" stroke-width="4.6"/>
<line x1="198" y1="1181" x2="209.3" y2="1181" stroke="#000" stroke-width="4.6"/>
<line x1="198" y1="1144" x2="209.3" y2="1144" stroke="#000" stroke-width="4.6"/>
<line x1="198" y1="1397.9" x2="209.3" y2="1397.9" stroke="#000" stroke-width="4.6"/>
<line x1="198" y1="1379.5" x2="209.3" y2="1379.5" stroke="#000" stroke-width="4.6"/>
<line x1="198" y1="1354.4" x2="209.3" y2="1354.4" stroke="#000" stroke-width="4.6"/>
<line x1="198" y1="1317.4" x2="209.3" y2="1317.4" stroke="#000" stroke-width="4.6"/>
<text x="146.98" y="903.8" font-size="31" font-weight="bold">-15</text>
<text x="147.44" y="1077.2" font-size="31" font-weight="bold">-10</text>
<text x="164.19" y="1250.5" font-size="31" font-weight="bold">-5</text>
<text x="175.03" y="1423.9" font-size="31" font-weight="bold">0</text>
<line x1="208.9" y1="1412.7" x2="208.9" y2="1429.5" stroke="#000" stroke-width="4.8"/>
<line x1="250.51" y1="1412.7" x2="250.51" y2="1429.5" stroke="#000" stroke-width="4.8"/>
<line x1="292.12" y1="1412.7" x2="292.12" y2="1429.5" stroke="#000" stroke-width="4.8"/>
<line x1="333.73" y1="1412.7" x2="333.73" y2="1429.5" stroke="#000" stroke-width="4.8"/>
<line x1="375.34" y1="1412.7" x2="375.34" y2="1429.5" stroke="#000" stroke-width="4.8"/>
<line x1="416.95" y1="1412.7" x2="416.95" y2="1429.5" stroke="#000" stroke-width="4.8"/>
<line x1="458.56" y1="1412.7" x2="458.56" y2="1429.5" stroke="#000" stroke-width="4.8"/>
<line x1="500.17" y1="1412.7" x2="500.17" y2="1429.5" stroke="#000" stroke-width="4.8"/>
<line x1="541.78" y1="1412.7" x2="541.78" y2="1429.5" stroke="#000" stroke-width="4.8"/>
<line x1="583.39" y1="1412.7" x2="583.39" y2="1429.5" stroke="#000" stroke-width="4.8"/>
<line x1="625" y1="1412.7" x2="625" y2="1429.5" stroke="#000" stroke-width="4.8"/>
<text x="190.25" y="1461.3" font-size="31" font-weight="bold">2</text>
<text x="206.88" y="1450.3" font-size="21" font-weight="bold">-4</text>
<text x="232.18" y="1461.3" font-size="31" font-weight="bold">2</text>
<text x="248.8" y="1450.3" font-size="21" font-weight="bold">-3</text>
<text x="273.84" y="1461.3" font-size="31" font-weight="bold">2</text>
<text x="290.47" y="1450.3" font-size="21" font-weight="bold">-2</text>
<text x="315.29" y="1461.3" font-size="31" font-weight="bold">2</text>
<text x="331.92" y="1450.3" font-size="21" font-weight="bold">-1</text>
<text x="360.58" y="1461.3" font-size="31" font-weight="bold">2</text>
<text x="377.2" y="1450.3" font-size="21" font-weight="bold">0</text>
<text x="402.24" y="1461.3" font-size="31" font-weight="bold">2</text>
<text x="418.45" y="1450.3" font-size="21" font-weight="bold">1</text>
<text x="443.75" y="1461.3" font-size="31" font-weight="bold">2</text>
<text x="460.47" y="1450.3" font-size="21" font-weight="bold">2</text>
<text x="485.2" y="1461.3" font-size="31" font-weight="bold">2</text>
<text x="502.14" y="1450.3" font-size="21" font-weight="bold">3</text>
<text x="526.39" y="1461.3" font-size="31" font-weight="bold">2</text>
<text x="543.54" y="1450.3" font-size="21" font-weight="bold">4</text>
<text x="568.37" y="1461.3" font-size="31" font-weight="bold">2</text>
<text x="585.2" y="1450.3" font-size="21" font-weight="bold">5</text>
<text x="610.13" y="1461.3" font-size="31" font-weight="bold">2</text>
<text x="626.86" y="1450.3" font-size="21" font-weight="bold">6</text>
<text x="287.37" y="1520" font-size="32" font-weight="bold" textLength="259.12" lengthAdjust="spacingAndGlyphs">log2 fold change</text>
<text transform="translate(110.6 1331.71) rotate(-90)" font-size="34" font-weight="bold" textLength="356.49" lengthAdjust="spacingAndGlyphs">log10 adjusted p-value</text>
<circle cx="566.1" cy="892.1" r="3.9" fill="#000"/>
<circle cx="566.1" cy="938.3" r="3.9" fill="#fc2b12"/>
<text x="608.42" y="901.7" font-size="31" textLength="97.5" lengthAdjust="spacingAndGlyphs">p≥0.05</text>
<text x="608.45" y="948.2" font-size="31" textLength="97.46" lengthAdjust="spacingAndGlyphs">p&lt;0.05</text>
<path d="M336 1410 L330 1405.5 L320 1403.5 L314 1399 L313.5 1390 L318 1380 L327 1371 L333 1367.5 L367.4 1367.5 L375.2 1408 L384.2 1367.5 L429 1367.5 L440 1369.5 L452 1368.5 L460 1371 L461.5 1380 L455 1387 L446 1390 L438 1396.5 L426 1402.5 L410 1408 L408 1410.5 Z" fill="#000"/>
<path d="M334.2 1370.2a1.9 1.9 0 1 0 0.01 0zM330.4 1369.1a1.9 1.9 0 1 0 0.01 0zM332.8 1370.6a1.9 1.9 0 1 0 0.01 0zM335.1 1370.4a1.9 1.9 0 1 0 0.01 0zM333.6 1370.5a1.9 1.9 0 1 0 0.01 0zM328.6 1372.3a1.9 1.9 0 1 0 0.01 0zM332.9 1370.8a1.9 1.9 0 1 0 0.01 0zM327.3 1370.4a1.9 1.9 0 1 0 0.01 0zM327.4 1370.6a1.9 1.9 0 1 0 0.01 0zM324 1372.9a1.9 1.9 0 1 0 0.01 0zM323.4 1376.3a1.9 1.9 0 1 0 0.01 0zM325 1372a1.9 1.9 0 1 0 0.01 0zM324.8 1376.3a1.9 1.9 0 1 0 0.01 0zM319.4 1374.1a1.9 1.9 0 1 0 0.01 0zM322.2 1375.4a1.9 1.9 0 1 0 0.01 0zM317.9 1377.1a1.9 1.9 0 1 0 0.01 0zM324.9 1372.5a1.9 1.9 0 1 0 0.01 0zM328 1373.2a1.9 1.9 0 1 0 0.01 0zM327.2 1369.6a1.9 1.9 0 1 0 0.01 0zM318 1378.4a1.9 1.9 0 1 0 0.01 0zM326.1 1371a1.9 1.9 0 1 0 0.01 0zM320.7 1376.3a1.9 1.9 0 1 0 0.01 0zM321.3 1374.6a1.9 1.9 0 1 0 0.01 0zM317.1 1378.6a1.9 1.9 0 1 0 0.01 0zM324.5 1370.6a1.9 1.9 0 1 0 0.01 0zM314.2 1390.7a1.9 1.9 0 1 0 0.01 0zM321.9 1380.9a1.9 1.9 0 1 0 0.01 0zM314.3 1389a1.9 1.9 0 1 0 0.01 0zM315.5 1388.8a1.9 1.9 0 1 0 0.01 0zM313.9 1387.3a1.9 1.9 0 1 0 0.01 0zM314.4 1389.7a1.9 1.9 0 1 0 0.01 0zM319.1 1380.2a1.9 1.9 0 1 0 0.01 0zM310.9 1393.4a1.9 1.9 0 1 0 0.01 0zM315.2 1389a1.9 1.9 0 1 0 0.01 0zM317.1 1383.5a1.9 1.9 0 1 0 0.01 0zM315.3 1387.1a1.9 1.9 0 1 0 0.01 0zM316.8 1390.6a1.9 1.9 0 1 0 0.01 0zM313.4 1386.6a1.9 1.9 0 1 0 0.01 0zM317.4 1383a1.9 1.9 0 1 0 0.01 0zM316.6 1394.2a1.9 1.9 0 1 0 0.01 0zM312.8 1397.2a1.9 1.9 0 1 0 0.01 0zM313.8 1398.3a1.9 1.9 0 1 0 0.01 0zM313.6 1396.2a1.9 1.9 0 1 0 0.01 0zM311.9 1392a1.9 1.9 0 1 0 0.01 0zM311.4 1396.8a1.9 1.9 0 1 0 0.01 0zM310.7 1394.4a1.9 1.9 0 1 0 0.01 0zM312.3 1394.5a1.9 1.9 0 1 0 0.01 0zM309.3 1392.8a1.9 1.9 0 1 0 0.01 0zM313.2 1401.3a1.9 1.9 0 1 0 0.01 0zM312.4 1395.1a1.9 1.9 0 1 0 0.01 0zM320.1 1403.4a1.9 1.9 0 1 0 0.01 0zM316.1 1401.6a1.9 1.9 0 1 0 0.01 0zM313.1 1399.2a1.9 1.9 0 1 0 0.01 0zM315.4 1400.1a1.9 1.9 0 1 0 0.01 0zM315.5 1400a1.9 1.9 0 1 0 0.01 0zM316.2 1399.7a1.9 1.9 0 1 0 0.01 0zM313.3 1399.2a1.9 1.9 0 1 0 0.01 0zM314.1 1400.6a1.9 1.9 0 1 0 0.01 0zM314.1 1402a1.9 1.9 0 1 0 0.01 0zM327.1 1403.6a1.9 1.9 0 1 0 0.01 0zM332.1 1405.1a1.9 1.9 0 1 0 0.01 0zM328.4 1404a1.9 1.9 0 1 0 0.01 0zM323.8 1404a1.9 1.9 0 1 0 0.01 0zM324.3 1402.4a1.9 1.9 0 1 0 0.01 0zM324.2 1401.4a1.9 1.9 0 1 0 0.01 0zM323.2 1403.8a1.9 1.9 0 1 0 0.01 0zM328.4 1406.4a1.9 1.9 0 1 0 0.01 0zM321.8 1407.5a1.9 1.9 0 1 0 0.01 0zM326.1 1406.7a1.9 1.9 0 1 0 0.01 0zM325.9 1408.2a1.9 1.9 0 1 0 0.01 0zM321.5 1402.5a1.9 1.9 0 1 0 0.01 0zM326.1 1404.5a1.9 1.9 0 1 0 0.01 0zM341.2 1409.6a1.9 1.9 0 1 0 0.01 0zM332.5 1410.6a1.9 1.9 0 1 0 0.01 0zM333.8 1409.3a1.9 1.9 0 1 0 0.01 0zM333.4 1406.7a1.9 1.9 0 1 0 0.01 0zM330.5 1408.4a1.9 1.9 0 1 0 0.01 0zM333.2 1407.9a1.9 1.9 0 1 0 0.01 0zM334.3 1408.8a1.9 1.9 0 1 0 0.01 0zM333.7 1407.5a1.9 1.9 0 1 0 0.01 0zM332.1 1408.6a1.9 1.9 0 1 0 0.01 0zM431 1370.2a1.9 1.9 0 1 0 0.01 0zM432.2 1370a1.9 1.9 0 1 0 0.01 0zM435.3 1369.3a1.9 1.9 0 1 0 0.01 0zM437.8 1368.9a1.9 1.9 0 1 0 0.01 0zM431.3 1370.2a1.9 1.9 0 1 0 0.01 0zM432.9 1370.5a1.9 1.9 0 1 0 0.01 0zM431.5 1370.1a1.9 1.9 0 1 0 0.01 0zM432.1 1370.7a1.9 1.9 0 1 0 0.01 0zM442.6 1372.6a1.9 1.9 0 1 0 0.01 0zM433 1368.9a1.9 1.9 0 1 0 0.01 0zM433.4 1369.8a1.9 1.9 0 1 0 0.01 0zM439.6 1369.4a1.9 1.9 0 1 0 0.01 0zM430.9 1369.8a1.9 1.9 0 1 0 0.01 0zM437.1 1370a1.9 1.9 0 1 0 0.01 0zM450.2 1369.5a1.9 1.9 0 1 0 0.01 0zM449.6 1372.2a1.9 1.9 0 1 0 0.01 0zM446.6 1371.5a1.9 1.9 0 1 0 0.01 0zM449.2 1371.6a1.9 1.9 0 1 0 0.01 0zM441.2 1370.8a1.9 1.9 0 1 0 0.01 0zM445.5 1370.2a1.9 1.9 0 1 0 0.01 0zM447.1 1369.5a1.9 1.9 0 1 0 0.01 0zM449.4 1369.2a1.9 1.9 0 1 0 0.01 0zM444.9 1370.9a1.9 1.9 0 1 0 0.01 0zM442.1 1369.6a1.9 1.9 0 1 0 0.01 0zM447.1 1370.6a1.9 1.9 0 1 0 0.01 0zM448 1369.1a1.9 1.9 0 1 0 0.01 0zM451.2 1369.7a1.9 1.9 0 1 0 0.01 0zM445.2 1370.4a1.9 1.9 0 1 0 0.01 0zM443.2 1369.1a1.9 1.9 0 1 0 0.01 0zM457.2 1372.4a1.9 1.9 0 1 0 0.01 0zM456.5 1370.4a1.9 1.9 0 1 0 0.01 0zM456 1372a1.9 1.9 0 1 0 0.01 0zM455 1370.4a1.9 1.9 0 1 0 0.01 0zM460.2 1369.4a1.9 1.9 0 1 0 0.01 0zM454.8 1371.5a1.9 1.9 0 1 0 0.01 0zM460.7 1370.5a1.9 1.9 0 1 0 0.01 0zM458.2 1372.6a1.9 1.9 0 1 0 0.01 0zM452.7 1370.1a1.9 1.9 0 1 0 0.01 0zM453.8 1371.4a1.9 1.9 0 1 0 0.01 0zM461.2 1372.1a1.9 1.9 0 1 0 0.01 0zM458.5 1372a1.9 1.9 0 1 0 0.01 0zM462.8 1372.9a1.9 1.9 0 1 0 0.01 0zM462.8 1380.2a1.9 1.9 0 1 0 0.01 0zM460.4 1373.2a1.9 1.9 0 1 0 0.01 0zM464.8 1369.5a1.9 1.9 0 1 0 0.01 0zM459.7 1368.9a1.9 1.9 0 1 0 0.01 0zM462.6 1378.6a1.9 1.9 0 1 0 0.01 0zM461.3 1376.4a1.9 1.9 0 1 0 0.01 0zM461.7 1372.7a1.9 1.9 0 1 0 0.01 0zM461.1 1376.5a1.9 1.9 0 1 0 0.01 0zM457.4 1380.9a1.9 1.9 0 1 0 0.01 0zM456.6 1381.1a1.9 1.9 0 1 0 0.01 0zM453.7 1386.8a1.9 1.9 0 1 0 0.01 0zM462.7 1379.3a1.9 1.9 0 1 0 0.01 0zM456.6 1382.5a1.9 1.9 0 1 0 0.01 0zM457.9 1384.9a1.9 1.9 0 1 0 0.01 0zM457.2 1387.7a1.9 1.9 0 1 0 0.01 0zM456.1 1382.4a1.9 1.9 0 1 0 0.01 0zM458.8 1384.9a1.9 1.9 0 1 0 0.01 0zM454.9 1387.9a1.9 1.9 0 1 0 0.01 0zM455.8 1384.5a1.9 1.9 0 1 0 0.01 0zM457 1381.3a1.9 1.9 0 1 0 0.01 0zM450.8 1388.8a1.9 1.9 0 1 0 0.01 0zM449.9 1386.8a1.9 1.9 0 1 0 0.01 0zM445.1 1390.9a1.9 1.9 0 1 0 0.01 0zM450.1 1388.8a1.9 1.9 0 1 0 0.01 0zM447.1 1388.6a1.9 1.9 0 1 0 0.01 0zM458.6 1384a1.9 1.9 0 1 0 0.01 0zM447.8 1389.8a1.9 1.9 0 1 0 0.01 0zM448.8 1390.4a1.9 1.9 0 1 0 0.01 0zM444.7 1386.2a1.9 1.9 0 1 0 0.01 0zM448.6 1391.8a1.9 1.9 0 1 0 0.01 0zM452.3 1389.1a1.9 1.9 0 1 0 0.01 0zM446.8 1392.6a1.9 1.9 0 1 0 0.01 0zM444.8 1391.7a1.9 1.9 0 1 0 0.01 0zM438.4 1392a1.9 1.9 0 1 0 0.01 0zM445.9 1391.4a1.9 1.9 0 1 0 0.01 0zM442.4 1392.7a1.9 1.9 0 1 0 0.01 0zM440.8 1391a1.9 1.9 0 1 0 0.01 0zM438.1 1395.6a1.9 1.9 0 1 0 0.01 0zM437 1396.4a1.9 1.9 0 1 0 0.01 0zM436.9 1391.8a1.9 1.9 0 1 0 0.01 0zM441.5 1396.1a1.9 1.9 0 1 0 0.01 0zM440.5 1395.4a1.9 1.9 0 1 0 0.01 0zM444.8 1392.1a1.9 1.9 0 1 0 0.01 0zM442.2 1389.6a1.9 1.9 0 1 0 0.01 0zM445.2 1390.9a1.9 1.9 0 1 0 0.01 0zM429 1405a1.9 1.9 0 1 0 0.01 0zM434.8 1397.2a1.9 1.9 0 1 0 0.01 0zM426 1401a1.9 1.9 0 1 0 0.01 0zM430.4 1402.7a1.9 1.9 0 1 0 0.01 0zM432.4 1400.6a1.9 1.9 0 1 0 0.01 0zM435.3 1398a1.9 1.9 0 1 0 0.01 0zM426.3 1404a1.9 1.9 0 1 0 0.01 0zM437.3 1398.3a1.9 1.9 0 1 0 0.01 0zM432.2 1396.6a1.9 1.9 0 1 0 0.01 0zM424.3 1403.6a1.9 1.9 0 1 0 0.01 0zM435.9 1398.4a1.9 1.9 0 1 0 0.01 0zM434.2 1400.4a1.9 1.9 0 1 0 0.01 0zM434.9 1398.1a1.9 1.9 0 1 0 0.01 0zM427.1 1400.6a1.9 1.9 0 1 0 0.01 0zM430.3 1403.5a1.9 1.9 0 1 0 0.01 0zM435.3 1398.3a1.9 1.9 0 1 0 0.01 0zM432.7 1403.3a1.9 1.9 0 1 0 0.01 0zM420.5 1407.1a1.9 1.9 0 1 0 0.01 0zM416.1 1405.9a1.9 1.9 0 1 0 0.01 0zM420.3 1401.8a1.9 1.9 0 1 0 0.01 0zM414.5 1405.4a1.9 1.9 0 1 0 0.01 0zM426 1404.5a1.9 1.9 0 1 0 0.01 0zM422.8 1404.6a1.9 1.9 0 1 0 0.01 0zM421.9 1402.1a1.9 1.9 0 1 0 0.01 0zM426.4 1405.4a1.9 1.9 0 1 0 0.01 0zM426.4 1404.9a1.9 1.9 0 1 0 0.01 0zM421.8 1401.6a1.9 1.9 0 1 0 0.01 0zM417.3 1405.7a1.9 1.9 0 1 0 0.01 0zM409.7 1409.7a1.9 1.9 0 1 0 0.01 0zM421.8 1404.2a1.9 1.9 0 1 0 0.01 0zM428.1 1405.7a1.9 1.9 0 1 0 0.01 0zM413.7 1407.7a1.9 1.9 0 1 0 0.01 0zM412.3 1405a1.9 1.9 0 1 0 0.01 0zM421.8 1401.6a1.9 1.9 0 1 0 0.01 0zM416.9 1406.7a1.9 1.9 0 1 0 0.01 0zM424.4 1400.6a1.9 1.9 0 1 0 0.01 0zM421.9 1401.5a1.9 1.9 0 1 0 0.01 0zM421.2 1404.2a1.9 1.9 0 1 0 0.01 0zM415.4 1409.4a1.9 1.9 0 1 0 0.01 0zM403.2 1408.8a1.9 1.9 0 1 0 0.01 0zM408.5 1408.4a1.9 1.9 0 1 0 0.01 0zM407.4 1407.6a1.9 1.9 0 1 0 0.01 0zM286.2 1373.8a1.9 1.9 0 1 0 0.01 0zM293 1378.3a1.9 1.9 0 1 0 0.01 0zM296 1373.3a1.9 1.9 0 1 0 0.01 0zM304.7 1371a1.9 1.9 0 1 0 0.01 0zM314.2 1369.4a1.9 1.9 0 1 0 0.01 0zM308.6 1387.3a1.9 1.9 0 1 0 0.01 0zM318 1374a1.9 1.9 0 1 0 0.01 0zM322 1371a1.9 1.9 0 1 0 0.01 0zM309 1392a1.9 1.9 0 1 0 0.01 0zM312 1396a1.9 1.9 0 1 0 0.01 0z" fill="#000"/>
<path d="M420.2 947.7h4v4h-4zM429 1011h4v4h-4zM332.7 1025.2h4v4h-4zM414.4 1062.1h4v4h-4zM419.4 1069.7h4v4h-4zM496.2 1063.6h4v4h-4zM434.4 1097.4h4v4h-4zM416.3 1107h4v4h-4zM425.2 1107h4v4h-4zM410.6 1128.8h4v4h-4zM396.4 1137.7h4v4h-4zM475.1 1159.9h4v4h-4zM340.7 1170.3h4v4h-4zM410.6 1170.3h4v4h-4zM463.2 1173.4h4v4h-4zM413.3 1183h4v4h-4zM414.4 1190.6h4v4h-4zM424.8 1199.1h4v4h-4zM433.6 1197.2h4v4h-4zM337.7 1197.2h4v4h-4zM347.3 1199.1h4v4h-4zM355.7 1213.7h4v4h-4zM308.9 1207.9h4v4h-4zM408.7 1213.7h4v4h-4zM418.3 1213.7h4v4h-4zM438.6 1212.5h4v4h-4zM454.7 1208.7h4v4h-4zM447.8 1220.2h4v4h-4zM237.9 1225.9h4v4h-4zM397.2 1229.8h4v4h-4zM421.3 1229.8h4v4h-4zM443.2 1227.1h4v4h-4zM462.4 1229.8h4v4h-4zM454.7 1233.6h4v4h-4zM326.1 1235.5h4v4h-4zM406.7 1237.5h4v4h-4zM391.4 1241.3h4v4h-4zM581.4 1239.4h4v4h-4zM343.4 1242.1h4v4h-4zM550.7 1254.7h4v4h-4zM293.5 1279.7h4v4h-4zM232.1 1287.3h4v4h-4zM242.5 1298.9h4v4h-4zM305 1293.1h4v4h-4zM297.4 1298.9h4v4h-4zM289.7 1300.8h4v4h-4zM485.4 1283.5h4v4h-4zM508.5 1293.1h4v4h-4zM518.8 1304.6h4v4h-4zM468.2 1300.8h4v4h-4zM473.9 1310.4h4v4h-4zM479.7 1312.3h4v4h-4zM274.3 1320h4v4h-4zM278.2 1320h4v4h-4zM293.5 1321.9h4v4h-4zM318.5 1329.6h4v4h-4zM328.1 1329.6h4v4h-4zM481.6 1323.8h4v4h-4zM487.3 1348.8h4v4h-4zM463.5 1339.2h4v4h-4zM470.1 1352.6h4v4h-4zM464.3 1360.3h4v4h-4zM304.3 1356.4h4v4h-4zM308.1 1354.5h4v4h-4zM277.4 1365.3h4v4h-4zM456.6 1321.9h4v4h-4zM449 1333.4h4v4h-4zM441.3 1250.9h4v4h-4zM443.2 1273.9h4v4h-4zM450.9 1285.4h4v4h-4zM445.1 1296.9h4v4h-4zM454.7 1308.5h4v4h-4zM437.5 1262.4h4v4h-4zM431.7 1281.6h4v4h-4zM335.7 1250.9h4v4h-4zM345.3 1258.6h4v4h-4zM356.9 1270.1h4v4h-4zM331.9 1277.8h4v4h-4zM335.7 1296.9h4v4h-4zM353 1287.3h4v4h-4zM326.2 1236.4h4v4h-4zM344.1 1242h4v4h-4zM353.6 1238.3h4v4h-4zM336.8 1249.3h4v4h-4zM345.2 1250.9h4v4h-4zM352 1257.7h4v4h-4zM350.8 1266.1h4v4h-4zM337.4 1275.6h4v4h-4zM346.4 1273.9h4v4h-4zM357 1276.1h4v4h-4zM350.3 1280.1h4v4h-4zM340.2 1286.2h4v4h-4zM357.6 1282.9h4v4h-4zM359.8 1286.2h4v4h-4zM353.1 1288.4h4v4h-4zM342.4 1292.9h4v4h-4zM348 1292.9h4v4h-4zM358.7 1299.1h4v4h-4zM332.4 1306.4h4v4h-4zM293.7 1280.1h4v4h-4zM306.1 1292.9h4v4h-4zM289.8 1301.3h4v4h-4zM298.8 1300.2h4v4h-4zM304.9 1299.6h4v4h-4zM304.9 1310.3h4v4h-4zM311.7 1314.8h4v4h-4zM277 1320.4h4v4h-4zM294.3 1322h4v4h-4zM313.3 1324.3h4v4h-4zM321.2 1324.8h4v4h-4zM326.8 1329.3h4v4h-4zM332.4 1329.9h4v4h-4zM332.4 1337.7h4v4h-4zM328.4 1343.3h4v4h-4zM324.5 1346.1h4v4h-4zM327.9 1349.5h4v4h-4zM317.8 1357.3h4v4h-4zM305.5 1356.7h4v4h-4zM298.8 1359h4v4h-4zM313.3 1362.9h4v4h-4zM277.5 1365.1h4v4h-4zM329 1361.2h4v4h-4zM391.1 1242h4v4h-4zM397.9 1240.9h4v4h-4zM406.8 1237.5h4v4h-4zM413.5 1239.2h4v4h-4zM438.1 1237.5h4v4h-4zM444.3 1238.1h4v4h-4zM449.9 1233h4v4h-4zM455.5 1234.9h4v4h-4zM462.8 1230.2h4v4h-4zM442.6 1229.1h4v4h-4zM423.6 1230.2h4v4h-4zM397.9 1229.7h4v4h-4zM430.9 1263.8h4v4h-4zM438.7 1259.3h4v4h-4zM438.7 1264.4h4v4h-4zM438.7 1273.9h4v4h-4zM446.5 1284h4v4h-4zM439.3 1287.3h4v4h-4zM448.2 1294h4v4h-4zM440.4 1299.6h4v4h-4zM443.2 1299.6h4v4h-4zM450.5 1304.1h4v4h-4zM449.3 1308h4v4h-4zM452.1 1314.8h4v4h-4zM456.1 1322.6h4v4h-4zM458.3 1325.4h4v4h-4zM466.7 1326.5h4v4h-4zM468.9 1301.9h4v4h-4zM471.7 1309.7h4v4h-4zM475.6 1313.6h4v4h-4zM444.9 1325.4h4v4h-4zM448.8 1332.1h4v4h-4zM438.7 1345.5h4v4h-4zM444.3 1345.5h4v4h-4zM463.9 1339.9h4v4h-4zM465.6 1351.1h4v4h-4zM471.2 1352.3h4v4h-4zM462.8 1358.4h4v4h-4zM454.4 1361.2h4v4h-4zM466.7 1365.7h4v4h-4zM432.6 1364h4v4h-4zM442.1 1356.7h4v4h-4zM446 1359h4v4h-4zM349 1353h4v4h-4zM348.2 1313.4h4v4h-4zM350 1350.8h4v4h-4zM346.9 1360.9h4v4h-4zM357 1345.1h4v4h-4zM339.1 1363h4v4h-4zM357.8 1363.1h4v4h-4zM332.9 1341.4h4v4h-4zM353.4 1284.4h4v4h-4zM336 1345.9h4v4h-4zM347.3 1364.7h4v4h-4zM334.8 1363.8h4v4h-4zM329.5 1359.5h4v4h-4zM344.9 1352.5h4v4h-4zM348.8 1328h4v4h-4zM347.4 1344.6h4v4h-4zM346.1 1343.3h4v4h-4zM364.5 1358.5h4v4h-4zM354.5 1256.1h4v4h-4zM337 1357.4h4v4h-4zM331.2 1358.2h4v4h-4zM344.8 1335.9h4v4h-4zM345 1327.5h4v4h-4zM357.7 1301.6h4v4h-4zM335.4 1365h4v4h-4zM348.1 1316.8h4v4h-4zM351.1 1363.5h4v4h-4zM340.9 1334.9h4v4h-4zM340.1 1363.2h4v4h-4zM355.6 1298.5h4v4h-4zM337 1362.5h4v4h-4zM330.1 1362.9h4v4h-4zM338.3 1333.1h4v4h-4zM345.4 1348.6h4v4h-4zM355 1360.8h4v4h-4zM351.7 1362.2h4v4h-4zM343.5 1362.5h4v4h-4zM338.1 1360.2h4v4h-4zM345.9 1294.2h4v4h-4zM340.7 1321.8h4v4h-4zM359.3 1355h4v4h-4zM334.3 1344.5h4v4h-4zM356.4 1359h4v4h-4zM339.4 1357h4v4h-4zM331.1 1363.5h4v4h-4zM338.6 1347.5h4v4h-4zM343 1346.6h4v4h-4zM362.9 1352.9h4v4h-4zM349.5 1351.8h4v4h-4zM339.5 1324.7h4v4h-4zM361.4 1361.7h4v4h-4zM340.7 1330.9h4v4h-4zM355.2 1360.8h4v4h-4zM341.9 1308.6h4v4h-4zM358.6 1305h4v4h-4zM344.7 1346.5h4v4h-4zM329.3 1362.8h4v4h-4zM344 1299.2h4v4h-4zM339.8 1340.6h4v4h-4zM351 1330.3h4v4h-4zM335 1358.1h4v4h-4zM334 1339.5h4v4h-4zM348.7 1359.8h4v4h-4zM351.6 1326.7h4v4h-4zM361.6 1358.4h4v4h-4zM328.9 1360.4h4v4h-4zM344.6 1358.7h4v4h-4zM334.3 1363.8h4v4h-4zM349.3 1355.8h4v4h-4zM341.3 1362.2h4v4h-4zM361.8 1320.7h4v4h-4zM353.7 1343.6h4v4h-4zM335.2 1347.4h4v4h-4zM328.3 1364.3h4v4h-4zM354.2 1316.8h4v4h-4zM339.2 1299.2h4v4h-4zM346.8 1344.8h4v4h-4zM342 1338.8h4v4h-4zM355.1 1349.2h4v4h-4zM355.2 1318.9h4v4h-4zM356.9 1340.7h4v4h-4zM345.1 1315.7h4v4h-4zM360.4 1341.9h4v4h-4zM346.2 1324h4v4h-4zM359 1333.7h4v4h-4zM351.4 1348h4v4h-4zM349.7 1355.4h4v4h-4zM333.4 1346.2h4v4h-4zM363.6 1344.6h4v4h-4zM354.9 1322.6h4v4h-4zM355.1 1355.2h4v4h-4zM345.2 1347.6h4v4h-4zM336.1 1328.6h4v4h-4zM333.1 1337.3h4v4h-4zM346.6 1346.6h4v4h-4zM353.7 1359.8h4v4h-4zM350.9 1351.2h4v4h-4zM342.7 1314.4h4v4h-4zM338.8 1364.8h4v4h-4zM337.9 1342.3h4v4h-4zM361.3 1361.3h4v4h-4zM345.5 1343.4h4v4h-4zM344 1320.5h4v4h-4zM337.7 1343.1h4v4h-4zM357.6 1353.7h4v4h-4zM358.9 1315.9h4v4h-4zM349.7 1355.3h4v4h-4zM333.7 1357.4h4v4h-4zM358.6 1351.3h4v4h-4zM354.4 1327.2h4v4h-4zM344.3 1305.1h4v4h-4zM344.6 1361.3h4v4h-4zM336.3 1358.6h4v4h-4zM351.2 1354.3h4v4h-4zM340.7 1351.4h4v4h-4zM362.3 1328.5h4v4h-4zM332.1 1353h4v4h-4zM360.2 1364.4h4v4h-4zM354.1 1364.2h4v4h-4zM340.8 1348.1h4v4h-4zM333.4 1333.6h4v4h-4zM344.7 1362.1h4v4h-4zM358.6 1364.5h4v4h-4zM333.5 1359.6h4v4h-4zM351.1 1364h4v4h-4zM351.4 1353.2h4v4h-4zM357.4 1343.7h4v4h-4zM354 1301.4h4v4h-4zM345.6 1360.6h4v4h-4zM328.6 1361.1h4v4h-4zM354.4 1352.2h4v4h-4zM338.1 1361.1h4v4h-4zM353.7 1356.5h4v4h-4zM351 1350.3h4v4h-4zM344.5 1336.8h4v4h-4zM360.3 1333.6h4v4h-4zM362.4 1363.2h4v4h-4zM336 1339.4h4v4h-4zM351.3 1352.9h4v4h-4zM345.6 1316.8h4v4h-4zM359.9 1348.2h4v4h-4zM361.4 1333.1h4v4h-4zM352.2 1352.5h4v4h-4zM354.6 1360.4h4v4h-4zM352.3 1330.9h4v4h-4zM338.6 1339.7h4v4h-4zM361.7 1319h4v4h-4zM342.5 1333.7h4v4h-4zM358.3 1316.8h4v4h-4zM331.9 1356.4h4v4h-4zM348.6 1353.4h4v4h-4zM347.5 1335.8h4v4h-4zM357.8 1364.4h4v4h-4zM357.5 1363.7h4v4h-4zM340.4 1361.2h4v4h-4zM337 1334h4v4h-4zM347 1361.8h4v4h-4zM358.4 1339.3h4v4h-4zM361.9 1341.6h4v4h-4zM362.4 1351.4h4v4h-4zM336 1363.2h4v4h-4zM339.9 1350h4v4h-4zM352.1 1338.9h4v4h-4zM358.8 1350.2h4v4h-4zM340.8 1348.6h4v4h-4zM359 1355.4h4v4h-4zM340.9 1318.8h4v4h-4zM361.8 1327h4v4h-4zM349.6 1350.1h4v4h-4zM347.8 1360.5h4v4h-4zM350.6 1351h4v4h-4zM363.8 1364.4h4v4h-4zM343.7 1350.5h4v4h-4zM349.9 1332.7h4v4h-4zM353.6 1351.5h4v4h-4zM347.8 1363.6h4v4h-4zM362.8 1354.3h4v4h-4zM343.1 1313.6h4v4h-4zM334.1 1352.2h4v4h-4zM357.9 1353.6h4v4h-4zM348.2 1318.8h4v4h-4zM335.6 1357.4h4v4h-4zM361.4 1345.8h4v4h-4zM356.7 1362.2h4v4h-4zM334.8 1364.5h4v4h-4zM353.3 1359.8h4v4h-4zM341.5 1357.2h4v4h-4zM334.3 1345.7h4v4h-4zM335.8 1338.7h4v4h-4zM338.5 1350.7h4v4h-4zM347.6 1360.6h4v4h-4zM342.5 1353.5h4v4h-4zM347.9 1354.3h4v4h-4zM335.6 1361.5h4v4h-4zM351.9 1345h4v4h-4zM359 1349.9h4v4h-4zM359.1 1346.1h4v4h-4zM355.3 1359.7h4v4h-4zM360.1 1331.7h4v4h-4zM340.1 1357.4h4v4h-4zM341.8 1313.8h4v4h-4zM342.3 1236.8h4v4h-4zM354.8 1359.5h4v4h-4zM332 1359h4v4h-4zM345.9 1329.3h4v4h-4zM336.6 1333.8h4v4h-4zM353.3 1354.7h4v4h-4zM335.1 1364.6h4v4h-4zM360.8 1342.1h4v4h-4zM341.7 1295.9h4v4h-4zM355.9 1350.9h4v4h-4zM353.4 1351h4v4h-4zM330.8 1360.8h4v4h-4zM329.3 1362.8h4v4h-4zM347.6 1349h4v4h-4zM335.3 1348.2h4v4h-4zM335.6 1360.9h4v4h-4zM362.5 1328.3h4v4h-4zM338.8 1312.7h4v4h-4zM363.1 1363.7h4v4h-4zM356.1 1352.6h4v4h-4zM345.5 1357.1h4v4h-4zM344.7 1350.5h4v4h-4zM331.1 1346.6h4v4h-4zM358.6 1340.9h4v4h-4zM344.8 1361h4v4h-4zM344.8 1338.1h4v4h-4zM334.3 1360.7h4v4h-4zM330.5 1350.6h4v4h-4zM356.9 1320.3h4v4h-4zM359.1 1340.6h4v4h-4zM344.2 1345.1h4v4h-4zM347.4 1346.7h4v4h-4zM344.9 1283.9h4v4h-4zM355.4 1316.6h4v4h-4zM357.5 1334.9h4v4h-4zM360.7 1354.6h4v4h-4zM354 1322.6h4v4h-4zM356 1335.8h4v4h-4zM354.6 1354.6h4v4h-4zM340.4 1363.5h4v4h-4zM330 1352.3h4v4h-4zM351.7 1356.2h4v4h-4zM338.5 1345.4h4v4h-4zM353.5 1307.1h4v4h-4zM352.4 1356.8h4v4h-4zM348.3 1348.1h4v4h-4zM364.4 1355.1h4v4h-4zM354 1344.4h4v4h-4zM362.7 1336.3h4v4h-4zM350.6 1364.5h4v4h-4zM340.1 1338.2h4v4h-4zM331 1354.7h4v4h-4zM342 1360.7h4v4h-4zM337.1 1362.9h4v4h-4zM350.2 1317.8h4v4h-4zM363 1350.8h4v4h-4zM363.8 1348.2h4v4h-4zM357.5 1344.7h4v4h-4zM350 1363.4h4v4h-4zM333.7 1336.5h4v4h-4zM340.6 1311.8h4v4h-4zM335.5 1352.2h4v4h-4zM350.8 1351.3h4v4h-4zM362.9 1363.8h4v4h-4zM347.8 1354.1h4v4h-4zM342.8 1346.8h4v4h-4zM352.2 1358.3h4v4h-4zM339.9 1348.6h4v4h-4zM341.2 1339.8h4v4h-4zM336.7 1364.7h4v4h-4zM333.5 1364.1h4v4h-4zM344.4 1336.9h4v4h-4zM355.5 1319.4h4v4h-4zM364.5 1364h4v4h-4zM339.1 1307.2h4v4h-4zM347 1317.8h4v4h-4zM363.3 1352h4v4h-4zM347.4 1359.4h4v4h-4zM354.8 1309.6h4v4h-4zM363.5 1352.4h4v4h-4zM351.2 1331.1h4v4h-4zM351 1362.6h4v4h-4zM336.6 1352.8h4v4h-4zM347.4 1363.9h4v4h-4zM344.3 1362.3h4v4h-4zM346 1343h4v4h-4zM349.6 1358.9h4v4h-4zM356.6 1354.1h4v4h-4zM364 1349.9h4v4h-4zM355.1 1304h4v4h-4zM332.6 1359.6h4v4h-4zM356.4 1320.4h4v4h-4zM342.7 1345.4h4v4h-4zM353.3 1358.7h4v4h-4zM350.3 1348.4h4v4h-4zM355.7 1344.9h4v4h-4zM337.3 1360.8h4v4h-4zM358.2 1287h4v4h-4zM329.9 1364.2h4v4h-4zM343.9 1358.7h4v4h-4zM334.2 1345.5h4v4h-4zM332.6 1349.4h4v4h-4zM352.9 1363.2h4v4h-4zM351.6 1349h4v4h-4zM346 1355.7h4v4h-4zM340.8 1360.3h4v4h-4zM358.3 1337.7h4v4h-4zM332.2 1363.5h4v4h-4zM351.8 1331.9h4v4h-4zM339 1335.7h4v4h-4zM338.4 1354h4v4h-4zM344.2 1331.8h4v4h-4zM363.4 1343.8h4v4h-4zM348.4 1357.1h4v4h-4zM360.9 1337.6h4v4h-4zM342.3 1353.8h4v4h-4zM360.3 1363h4v4h-4zM330.9 1363.4h4v4h-4zM346.7 1348.4h4v4h-4zM341 1341.9h4v4h-4zM334.9 1335.1h4v4h-4zM352.4 1360.2h4v4h-4zM339.1 1363.3h4v4h-4zM353.8 1339.2h4v4h-4zM333.8 1358.3h4v4h-4zM354.8 1356.1h4v4h-4zM333.2 1355.9h4v4h-4zM349.8 1340.3h4v4h-4zM360.4 1314.8h4v4h-4zM347.3 1316.1h4v4h-4zM342.2 1332.5h4v4h-4zM343.1 1357.4h4v4h-4zM359.1 1310.4h4v4h-4zM341.6 1359.3h4v4h-4zM341.9 1355.9h4v4h-4zM342.8 1354.9h4v4h-4zM348.8 1360.7h4v4h-4zM349.2 1333.1h4v4h-4zM350.1 1328.8h4v4h-4zM355.9 1361.1h4v4h-4zM342.5 1322.4h4v4h-4zM346.9 1364.6h4v4h-4zM349.4 1349.3h4v4h-4zM353.3 1297.1h4v4h-4zM335 1332.4h4v4h-4zM356.9 1349.2h4v4h-4zM330.8 1363.2h4v4h-4zM360.2 1338.3h4v4h-4zM351.3 1363.2h4v4h-4zM355.5 1361.9h4v4h-4zM339.1 1344.1h4v4h-4zM356.2 1360h4v4h-4zM356.1 1350.3h4v4h-4zM341.1 1355h4v4h-4zM353.8 1296h4v4h-4zM348.3 1351.4h4v4h-4zM354.2 1339.5h4v4h-4zM346.6 1315.7h4v4h-4zM353.1 1330h4v4h-4zM357.1 1326.6h4v4h-4zM359.6 1329.1h4v4h-4zM352.9 1301.7h4v4h-4zM354.2 1350.2h4v4h-4zM345.7 1332.6h4v4h-4zM334.5 1354.1h4v4h-4zM363.1 1338h4v4h-4zM335 1355.6h4v4h-4zM343.8 1360.4h4v4h-4zM363.5 1358.1h4v4h-4zM339.2 1363.8h4v4h-4zM351.9 1362.6h4v4h-4zM338.1 1335.1h4v4h-4zM344.8 1363.7h4v4h-4zM360.9 1347.5h4v4h-4zM331.7 1364.3h4v4h-4zM336.1 1360.9h4v4h-4zM354.4 1359.6h4v4h-4zM338 1346.9h4v4h-4zM338.5 1360.9h4v4h-4zM355.9 1361.2h4v4h-4zM348.4 1357.5h4v4h-4zM347.5 1331h4v4h-4zM360.6 1359h4v4h-4zM344.8 1315.9h4v4h-4zM362.6 1349.1h4v4h-4zM337.4 1351.8h4v4h-4zM363 1364h4v4h-4zM344.6 1332.7h4v4h-4zM347.6 1350h4v4h-4zM364.3 1358.6h4v4h-4zM338.9 1343.6h4v4h-4zM345.2 1364.8h4v4h-4zM357.3 1355.7h4v4h-4zM351 1340h4v4h-4zM333.8 1361.6h4v4h-4zM338.1 1357.2h4v4h-4zM348.9 1324.3h4v4h-4zM363.6 1344.7h4v4h-4zM347.8 1358.8h4v4h-4zM356.4 1361.7h4v4h-4zM358.3 1365h4v4h-4zM357.6 1327.6h4v4h-4zM337.8 1363.3h4v4h-4zM334.9 1339.8h4v4h-4zM345.9 1351.9h4v4h-4zM351.7 1302.8h4v4h-4zM342.8 1326.1h4v4h-4zM345.4 1333.9h4v4h-4zM338.3 1315.3h4v4h-4zM339.6 1330h4v4h-4zM348 1349.3h4v4h-4zM358.6 1361.6h4v4h-4zM339.9 1357.5h4v4h-4zM339.1 1363.4h4v4h-4zM354.4 1352.4h4v4h-4zM353.4 1356.1h4v4h-4zM342.5 1362.8h4v4h-4zM363.1 1352.6h4v4h-4zM352.7 1329.6h4v4h-4zM417.2 1364.7h4v4h-4zM405.4 1357.7h4v4h-4zM421.5 1364.7h4v4h-4zM397.5 1358.7h4v4h-4zM398.1 1352.3h4v4h-4zM415.2 1353.9h4v4h-4zM418.3 1357h4v4h-4zM410.4 1354.2h4v4h-4zM422.6 1330.3h4v4h-4zM388.1 1362.4h4v4h-4zM393.4 1334.4h4v4h-4zM411.8 1351.1h4v4h-4zM391.1 1362.5h4v4h-4zM387.1 1361.4h4v4h-4zM409.1 1296.6h4v4h-4zM422.3 1336.9h4v4h-4zM403.4 1351.8h4v4h-4zM416.7 1364.6h4v4h-4zM413.4 1256.6h4v4h-4zM399.8 1364.5h4v4h-4zM408.9 1336.6h4v4h-4zM422.6 1345.8h4v4h-4zM419.9 1339.5h4v4h-4zM402.2 1302h4v4h-4zM417.4 1346.3h4v4h-4zM394.4 1331.1h4v4h-4zM396.4 1286.7h4v4h-4zM410.9 1362.7h4v4h-4zM427.2 1332.8h4v4h-4zM390 1352.9h4v4h-4zM411.1 1301.7h4v4h-4zM426.4 1342.8h4v4h-4zM393.8 1234.2h4v4h-4zM425.6 1318h4v4h-4zM422.9 1357.6h4v4h-4zM387.4 1359.5h4v4h-4zM430.4 1364.1h4v4h-4zM400.8 1289.3h4v4h-4zM402.5 1335h4v4h-4zM385.7 1340.8h4v4h-4zM390.6 1359h4v4h-4zM392.4 1351.8h4v4h-4zM410.8 1345.2h4v4h-4zM385.9 1354.1h4v4h-4zM428.6 1335h4v4h-4zM403.7 1340.3h4v4h-4zM419.5 1338.6h4v4h-4zM430 1327.4h4v4h-4zM404.3 1315.8h4v4h-4zM426.3 1349.6h4v4h-4zM404.5 1344.8h4v4h-4zM389.6 1301.6h4v4h-4zM418.3 1330.1h4v4h-4zM398.9 1340.4h4v4h-4zM392.8 1340.7h4v4h-4zM402.8 1349h4v4h-4zM408.5 1363.6h4v4h-4zM402.5 1357.6h4v4h-4zM442.3 1357.7h4v4h-4zM405.9 1273.3h4v4h-4zM419 1320.8h4v4h-4zM389.4 1342.4h4v4h-4zM409.8 1322.6h4v4h-4zM402.9 1283.6h4v4h-4zM387 1355.4h4v4h-4zM404.1 1304.1h4v4h-4zM386.4 1353.1h4v4h-4zM398.2 1364.1h4v4h-4zM429.6 1346.4h4v4h-4zM398.2 1347.7h4v4h-4zM395.9 1295.9h4v4h-4zM407 1315.9h4v4h-4zM430.7 1359.9h4v4h-4zM392.9 1358.9h4v4h-4zM393.4 1307.7h4v4h-4zM425.8 1330.1h4v4h-4zM392.6 1310h4v4h-4zM405.4 1332.9h4v4h-4zM398.2 1362.8h4v4h-4zM393.6 1331.5h4v4h-4zM421 1357.8h4v4h-4zM425.4 1352.4h4v4h-4zM398.7 1340.9h4v4h-4zM399.3 1294.4h4v4h-4zM446.9 1337.4h4v4h-4zM409 1349.3h4v4h-4zM397.1 1363.7h4v4h-4zM388.1 1357.2h4v4h-4zM395.5 1355.9h4v4h-4zM392.8 1356.2h4v4h-4zM388.6 1303.6h4v4h-4zM402.3 1348.3h4v4h-4zM395.3 1293.5h4v4h-4zM401.3 1343.1h4v4h-4zM408.6 1336h4v4h-4zM416.1 1346h4v4h-4zM392.7 1345.2h4v4h-4zM412.8 1324.2h4v4h-4zM420.2 1357.8h4v4h-4zM396.4 1323.3h4v4h-4zM411.3 1346.9h4v4h-4zM422.4 1346.3h4v4h-4zM424.6 1331.1h4v4h-4zM384.7 1359.6h4v4h-4zM404.9 1346.5h4v4h-4zM387.4 1356.8h4v4h-4zM410.4 1300.8h4v4h-4zM392.5 1322.7h4v4h-4zM404.2 1354.9h4v4h-4zM397.1 1338.8h4v4h-4zM436.7 1341h4v4h-4zM391.3 1359.9h4v4h-4zM420.8 1333.3h4v4h-4zM400.9 1363.3h4v4h-4zM385.9 1358.4h4v4h-4zM430 1346.8h4v4h-4zM418.9 1360.8h4v4h-4zM425.8 1363.9h4v4h-4zM397.8 1360.9h4v4h-4zM386.6 1350.1h4v4h-4zM396.9 1329.2h4v4h-4zM405.9 1343.3h4v4h-4zM401.9 1292.2h4v4h-4zM412.7 1257.6h4v4h-4zM406.8 1336.7h4v4h-4zM412 1333h4v4h-4zM403.8 1306.3h4v4h-4zM420.5 1315h4v4h-4zM392.5 1358.5h4v4h-4zM394.1 1343.5h4v4h-4zM398.4 1358.5h4v4h-4zM415.9 1349h4v4h-4zM403.3 1311.4h4v4h-4zM400.8 1363h4v4h-4zM395.7 1356.3h4v4h-4zM427.3 1356.8h4v4h-4zM401.7 1331.1h4v4h-4zM400.7 1360.5h4v4h-4zM426.1 1325.8h4v4h-4zM401.8 1364.4h4v4h-4zM399 1362.7h4v4h-4zM388.3 1325.2h4v4h-4zM386.2 1351.5h4v4h-4zM385.3 1360.6h4v4h-4zM409.5 1354.9h4v4h-4zM396 1361.1h4v4h-4zM392.2 1330.1h4v4h-4zM417.4 1358.8h4v4h-4zM424.5 1351h4v4h-4zM400.1 1358.1h4v4h-4zM385.5 1358.4h4v4h-4zM421.8 1338.1h4v4h-4zM395 1335h4v4h-4zM428.4 1333.4h4v4h-4zM414.1 1310.2h4v4h-4zM402.2 1362.5h4v4h-4zM399.1 1363.3h4v4h-4zM391.9 1346.4h4v4h-4zM392.1 1351.1h4v4h-4zM389.5 1335.5h4v4h-4zM391.2 1353.7h4v4h-4zM410.1 1341.4h4v4h-4zM409.9 1332.5h4v4h-4zM410 1352.8h4v4h-4zM411.3 1363.5h4v4h-4zM396.2 1347.9h4v4h-4zM425.9 1364.4h4v4h-4zM415.4 1342.5h4v4h-4zM412.8 1359.4h4v4h-4zM412 1281.5h4v4h-4zM414.1 1287.9h4v4h-4zM403.9 1338.8h4v4h-4zM425.2 1356.3h4v4h-4zM386.1 1352h4v4h-4zM398.3 1361.1h4v4h-4zM391.2 1352.9h4v4h-4zM415.8 1359.2h4v4h-4zM418.8 1357.8h4v4h-4zM407.2 1351.5h4v4h-4zM413.4 1336.6h4v4h-4zM429.1 1342.8h4v4h-4zM425.5 1354h4v4h-4zM416.6 1354.8h4v4h-4zM422.5 1333.7h4v4h-4zM406.9 1360.3h4v4h-4zM397.9 1342.6h4v4h-4zM396.3 1327.7h4v4h-4zM392.3 1357.3h4v4h-4zM387.6 1345.5h4v4h-4zM429 1363.1h4v4h-4zM420.2 1361.8h4v4h-4zM424.5 1347.3h4v4h-4zM402.3 1309.9h4v4h-4zM402.7 1345.9h4v4h-4zM417.6 1331h4v4h-4zM419.6 1354.3h4v4h-4zM411.2 1315.1h4v4h-4zM413.2 1350.3h4v4h-4zM391.8 1317h4v4h-4zM395 1352.2h4v4h-4zM421.4 1359.5h4v4h-4zM393.6 1288.6h4v4h-4zM413.8 1333.6h4v4h-4zM430.2 1351.4h4v4h-4zM389.2 1363.7h4v4h-4zM418.2 1363.8h4v4h-4zM418.8 1354.2h4v4h-4zM398.8 1347.2h4v4h-4zM398.6 1321.5h4v4h-4zM419.8 1351.6h4v4h-4zM421.4 1333h4v4h-4zM388.8 1360.7h4v4h-4zM408.2 1291.8h4v4h-4zM384.6 1361.5h4v4h-4zM413.4 1342.5h4v4h-4zM406.6 1356.4h4v4h-4zM386.6 1352.7h4v4h-4zM398.3 1363.2h4v4h-4zM406.5 1362.8h4v4h-4zM404.7 1310.5h4v4h-4zM388.7 1320.6h4v4h-4zM413.3 1343.4h4v4h-4zM424.5 1356.2h4v4h-4zM394.1 1316.6h4v4h-4zM389.2 1364.3h4v4h-4zM419.3 1362.9h4v4h-4zM384.6 1355h4v4h-4zM384.4 1358.6h4v4h-4zM421.1 1344.8h4v4h-4zM421.5 1329.1h4v4h-4zM429.4 1317.5h4v4h-4zM402.7 1362.1h4v4h-4zM426.3 1332h4v4h-4zM394.3 1364.4h4v4h-4zM414.8 1351.7h4v4h-4zM414.2 1320.1h4v4h-4zM426.3 1353.2h4v4h-4zM405.5 1354.5h4v4h-4zM418.8 1328.5h4v4h-4zM392.9 1343.7h4v4h-4zM400.2 1362h4v4h-4zM416.4 1349.8h4v4h-4zM409.3 1351.1h4v4h-4zM424.5 1282.8h4v4h-4zM389.2 1354.6h4v4h-4zM405.3 1276.2h4v4h-4zM397.7 1331.9h4v4h-4zM399.9 1334.5h4v4h-4zM430.4 1359.5h4v4h-4zM401.6 1360.7h4v4h-4zM413.1 1337.1h4v4h-4zM413.9 1306h4v4h-4zM389.9 1346h4v4h-4zM406.2 1315.9h4v4h-4zM402.6 1335.4h4v4h-4zM410.8 1357.9h4v4h-4zM424.4 1345.4h4v4h-4zM411.9 1349h4v4h-4zM407.4 1292.6h4v4h-4zM418.6 1231.5h4v4h-4zM429.5 1310.4h4v4h-4zM423.3 1346.8h4v4h-4zM422.7 1336.7h4v4h-4zM429.9 1321.9h4v4h-4zM417.3 1363.2h4v4h-4zM405.3 1357.2h4v4h-4zM393.7 1344.2h4v4h-4zM387.5 1356.1h4v4h-4zM407.3 1343.1h4v4h-4zM424.1 1357.5h4v4h-4zM426 1325.2h4v4h-4zM402.2 1322h4v4h-4zM405.9 1362.1h4v4h-4zM391.8 1311h4v4h-4zM423.8 1359.6h4v4h-4zM388.3 1339.1h4v4h-4zM418.1 1338.2h4v4h-4zM404.1 1359.1h4v4h-4zM398.5 1364.6h4v4h-4zM412.5 1338.2h4v4h-4zM391.2 1333h4v4h-4zM391.2 1333h4v4h-4zM412.5 1361.7h4v4h-4zM430.5 1353.1h4v4h-4zM401.6 1333.2h4v4h-4zM390.9 1355h4v4h-4zM422.3 1338.1h4v4h-4zM407.8 1350.8h4v4h-4zM417.2 1288.3h4v4h-4zM397.3 1357.8h4v4h-4zM423.6 1309.4h4v4h-4zM427.4 1334.5h4v4h-4zM412.2 1351.8h4v4h-4zM411.1 1348.9h4v4h-4zM428.7 1356.1h4v4h-4zM415.5 1355.6h4v4h-4zM390.2 1357.4h4v4h-4zM405.1 1304.1h4v4h-4zM423.8 1353.7h4v4h-4zM389.5 1340.9h4v4h-4zM409.3 1303.8h4v4h-4zM415.4 1352.3h4v4h-4zM428.4 1353.6h4v4h-4zM405.8 1364.4h4v4h-4zM398.9 1352.9h4v4h-4zM429.1 1335h4v4h-4zM422.3 1263.8h4v4h-4zM430.3 1336.7h4v4h-4zM402.6 1363.1h4v4h-4zM430 1336.2h4v4h-4zM390.6 1358.7h4v4h-4zM388.2 1351.4h4v4h-4zM413.1 1360.1h4v4h-4zM421.9 1328.4h4v4h-4zM391 1329.6h4v4h-4zM439.1 1347.9h4v4h-4zM389.2 1286.9h4v4h-4zM409.1 1353.3h4v4h-4zM397.9 1361.8h4v4h-4zM410.8 1345.9h4v4h-4zM416.6 1361.2h4v4h-4zM395.6 1355.6h4v4h-4zM398.2 1350.6h4v4h-4zM405.7 1348.8h4v4h-4zM438.8 1313.6h4v4h-4zM408.5 1360.5h4v4h-4zM424.4 1350.9h4v4h-4zM389.3 1275.4h4v4h-4zM418.4 1360.5h4v4h-4zM409.3 1331.3h4v4h-4zM402.9 1364.2h4v4h-4zM390.8 1273.5h4v4h-4zM401 1350.5h4v4h-4zM399.2 1361.8h4v4h-4zM425.4 1346.9h4v4h-4zM408.9 1286h4v4h-4zM400 1301.8h4v4h-4zM402.1 1328.7h4v4h-4zM401 1349.9h4v4h-4zM386.7 1349.8h4v4h-4zM418.9 1316.2h4v4h-4zM395 1343.6h4v4h-4zM398.5 1362.2h4v4h-4zM419.1 1347.1h4v4h-4zM410.4 1347h4v4h-4zM401.6 1340.7h4v4h-4zM398.7 1340.4h4v4h-4zM399.4 1339.6h4v4h-4zM419.3 1346.4h4v4h-4zM399.8 1363.5h4v4h-4zM403.9 1356.5h4v4h-4zM399 1311.9h4v4h-4zM447 1334.2h4v4h-4zM400.2 1316.9h4v4h-4zM414.4 1318.8h4v4h-4zM385.9 1363.4h4v4h-4zM427.2 1338.5h4v4h-4zM443.9 1337.5h4v4h-4zM386 1327.3h4v4h-4zM416 1328.9h4v4h-4zM435.1 1253.9h4v4h-4zM401.9 1349.3h4v4h-4zM389.9 1349h4v4h-4zM387.5 1354.6h4v4h-4zM415.2 1361.7h4v4h-4zM392.3 1343.6h4v4h-4zM410.3 1355h4v4h-4zM405.1 1296h4v4h-4zM390.4 1344.2h4v4h-4zM388.2 1309.1h4v4h-4zM415.6 1349.7h4v4h-4zM416.6 1293.9h4v4h-4zM389.2 1351.7h4v4h-4zM411.8 1328.4h4v4h-4zM391.6 1358.9h4v4h-4zM408.4 1353.4h4v4h-4zM423.4 1351.7h4v4h-4zM406.6 1353h4v4h-4zM397.2 1332.7h4v4h-4zM397.1 1329.6h4v4h-4zM401.5 1363.2h4v4h-4zM413.2 1331h4v4h-4zM426.4 1342.9h4v4h-4zM395.2 1348.6h4v4h-4zM404.8 1327.2h4v4h-4zM429.5 1314.2h4v4h-4zM400.1 1342.3h4v4h-4zM419.8 1360.6h4v4h-4zM434.6 1320.8h4v4h-4zM409 1358.3h4v4h-4zM419.8 1339.6h4v4h-4zM427.1 1341.4h4v4h-4zM428.2 1333.4h4v4h-4zM423.9 1330.8h4v4h-4zM396.7 1330h4v4h-4zM395.6 1364.4h4v4h-4zM390.2 1355.6h4v4h-4zM397.7 1347.1h4v4h-4zM424.9 1356.2h4v4h-4zM424.1 1360.3h4v4h-4zM418.4 1339.6h4v4h-4zM426.9 1344.4h4v4h-4zM388.3 1324.7h4v4h-4zM420.7 1290.5h4v4h-4zM401.3 1357.8h4v4h-4zM408.2 1329.7h4v4h-4zM395.5 1342.5h4v4h-4zM444.5 1284.2h4v4h-4zM441.8 1336.1h4v4h-4zM389.3 1362.1h4v4h-4zM427.6 1309.5h4v4h-4zM420.4 1363.1h4v4h-4zM420.5 1255.3h4v4h-4zM418.1 1345.1h4v4h-4zM400.5 1359.5h4v4h-4zM417.1 1346.3h4v4h-4zM388 1350.4h4v4h-4zM429.4 1347h4v4h-4zM398.6 1342.7h4v4h-4zM427.9 1354h4v4h-4zM423.5 1264.3h4v4h-4zM417.3 1291.2h4v4h-4zM412.9 1340.9h4v4h-4zM389 1339.4h4v4h-4zM386.1 1345.2h4v4h-4zM428.9 1361.8h4v4h-4zM437 1364.3h4v4h-4zM411.5 1333.5h4v4h-4zM385.8 1326.8h4v4h-4zM429.8 1363.1h4v4h-4zM401 1316.6h4v4h-4zM433.3 1353.5h4v4h-4zM408.6 1356.8h4v4h-4zM405.4 1354h4v4h-4zM392.2 1357.8h4v4h-4zM406.3 1360.6h4v4h-4zM396.5 1323.7h4v4h-4zM408.9 1336.3h4v4h-4zM392.6 1357.1h4v4h-4zM399.4 1357.9h4v4h-4zM420.9 1330h4v4h-4zM433 1344h4v4h-4zM403.4 1357.4h4v4h-4zM430.3 1353.1h4v4h-4zM421 1351.8h4v4h-4zM420.9 1323.8h4v4h-4zM411.8 1352.1h4v4h-4zM422.2 1328.5h4v4h-4zM401.6 1364.6h4v4h-4zM390.4 1363.2h4v4h-4zM429 1358.8h4v4h-4zM426.7 1292.6h4v4h-4zM428.4 1360.9h4v4h-4zM415.7 1359.2h4v4h-4zM427.7 1307.2h4v4h-4zM390 1348.7h4v4h-4zM387.4 1356.4h4v4h-4zM386.1 1359.5h4v4h-4zM389.8 1355.1h4v4h-4zM410.8 1344.8h4v4h-4zM427.9 1326.2h4v4h-4zM387.3 1362.7h4v4h-4zM427.3 1355h4v4h-4zM399.8 1346.1h4v4h-4zM421.1 1342.3h4v4h-4zM406.2 1340h4v4h-4zM429.8 1359.3h4v4h-4zM402.5 1364.3h4v4h-4zM391.8 1363.6h4v4h-4zM386.5 1329h4v4h-4zM407.3 1358.3h4v4h-4zM393.5 1336.4h4v4h-4zM385.5 1364.6h4v4h-4zM401.3 1356.8h4v4h-4zM399.2 1347.7h4v4h-4zM411.3 1353.1h4v4h-4zM405.7 1350.4h4v4h-4zM395 1354.1h4v4h-4zM424.6 1290.8h4v4h-4zM430.2 1360.2h4v4h-4zM417.9 1355.8h4v4h-4zM391.3 1357.8h4v4h-4zM392.3 1285.4h4v4h-4zM410.5 1333.6h4v4h-4zM408.3 1346.4h4v4h-4zM415.9 1352.1h4v4h-4zM413.6 1356.5h4v4h-4zM416.1 1348.2h4v4h-4zM429.3 1347.3h4v4h-4zM388 1356.1h4v4h-4zM422.6 1321.6h4v4h-4zM425.9 1321.8h4v4h-4zM410.2 1346.1h4v4h-4zM408.1 1286.3h4v4h-4zM407.6 1355.7h4v4h-4zM394.2 1353.7h4v4h-4zM429.1 1316.5h4v4h-4zM421.1 1297.8h4v4h-4zM421.4 1331.4h4v4h-4zM398.1 1359.8h4v4h-4zM385 1357.4h4v4h-4zM421 1345.6h4v4h-4zM427.4 1339.5h4v4h-4zM427.1 1337.1h4v4h-4zM424.9 1361.9h4v4h-4zM416.5 1355h4v4h-4zM413.5 1326.7h4v4h-4zM386.5 1361.4h4v4h-4zM420.7 1310.4h4v4h-4zM427.4 1309.2h4v4h-4zM402.6 1337.5h4v4h-4zM394.5 1353.2h4v4h-4zM414.9 1322.1h4v4h-4zM408.8 1324.7h4v4h-4zM392.9 1354.7h4v4h-4zM427.8 1336.8h4v4h-4zM426.7 1354.2h4v4h-4zM413 1355.7h4v4h-4zM402.3 1276.3h4v4h-4zM406.9 1356.2h4v4h-4zM409 1364h4v4h-4zM396.1 1347.7h4v4h-4zM395.2 1359h4v4h-4zM387.5 1354.3h4v4h-4zM428.4 1353.1h4v4h-4zM403.6 1337.4h4v4h-4zM428.9 1357.8h4v4h-4zM416.1 1361.5h4v4h-4zM414.3 1326.2h4v4h-4zM398.4 1289.8h4v4h-4zM408.9 1344h4v4h-4zM386.5 1359.3h4v4h-4zM396.6 1360.6h4v4h-4zM399.8 1330.7h4v4h-4zM417.2 1325.7h4v4h-4zM389.4 1348.5h4v4h-4zM425.5 1347.6h4v4h-4zM400.9 1363.4h4v4h-4zM391.2 1333h4v4h-4zM418.9 1350h4v4h-4zM415.9 1351.1h4v4h-4zM429.8 1339.2h4v4h-4zM414.2 1361.3h4v4h-4zM408.7 1364.5h4v4h-4zM445.1 1347.9h4v4h-4zM412.1 1313.4h4v4h-4zM389.7 1354.8h4v4h-4zM424.5 1355.2h4v4h-4zM403 1345.8h4v4h-4zM420.9 1306.1h4v4h-4zM401.9 1331.8h4v4h-4zM399 1349.5h4v4h-4zM398.9 1338.6h4v4h-4zM406.9 1325h4v4h-4zM403.1 1307.9h4v4h-4zM420.6 1303.4h4v4h-4zM418.7 1351.1h4v4h-4zM428.5 1355.5h4v4h-4zM404.9 1336.2h4v4h-4zM420 1336.4h4v4h-4zM400.4 1344.1h4v4h-4zM411.5 1331.4h4v4h-4zM413.1 1325.7h4v4h-4zM430.6 1358.3h4v4h-4zM386.7 1359.1h4v4h-4zM423.1 1341.4h4v4h-4zM417.4 1351.6h4v4h-4zM411.5 1326.3h4v4h-4zM410.3 1357.2h4v4h-4zM391 1343.8h4v4h-4zM418.1 1324h4v4h-4zM411.6 1283.9h4v4h-4zM392.4 1344.7h4v4h-4zM415.2 1338.5h4v4h-4zM403.7 1355.8h4v4h-4zM405.5 1360.8h4v4h-4zM410.8 1344.6h4v4h-4zM419.5 1282.2h4v4h-4zM416.4 1362.9h4v4h-4zM402.5 1333.4h4v4h-4zM409.2 1356.4h4v4h-4zM414.7 1364.3h4v4h-4zM424.9 1360.7h4v4h-4zM395.3 1291.8h4v4h-4zM434.8 1361.6h4v4h-4zM407.5 1328.7h4v4h-4zM436.7 1332.9h4v4h-4zM417.1 1312h4v4h-4zM424.9 1332.6h4v4h-4zM398.6 1358.3h4v4h-4zM410.8 1349.3h4v4h-4zM395.2 1339.6h4v4h-4zM391 1358.2h4v4h-4zM406.6 1275.1h4v4h-4zM426.8 1349.8h4v4h-4zM401.3 1334.5h4v4h-4zM425.1 1331.9h4v4h-4zM402.5 1309.4h4v4h-4zM386.1 1358h4v4h-4zM438.1 1332.9h4v4h-4zM389.1 1343.8h4v4h-4zM430.3 1363.8h4v4h-4zM387.8 1340.3h4v4h-4zM428.5 1362.1h4v4h-4zM415.2 1359.8h4v4h-4zM406.4 1332.9h4v4h-4zM400.7 1355.8h4v4h-4zM397.8 1353h4v4h-4zM403.9 1356.8h4v4h-4zM390.1 1340.8h4v4h-4zM408.8 1314.5h4v4h-4zM419.3 1354.9h4v4h-4zM416.5 1338.7h4v4h-4zM402.6 1346.3h4v4h-4zM409 1346.1h4v4h-4zM425.7 1344.4h4v4h-4zM403.2 1358.2h4v4h-4zM413 1364.1h4v4h-4zM424.7 1355.9h4v4h-4zM416.6 1316.2h4v4h-4zM403.4 1328.2h4v4h-4zM430.2 1343.3h4v4h-4zM390.7 1297.8h4v4h-4zM409.4 1357.3h4v4h-4zM424.3 1345.5h4v4h-4zM388.1 1345.4h4v4h-4zM413.9 1360.7h4v4h-4zM428.1 1361.8h4v4h-4zM411.8 1349.6h4v4h-4zM406.1 1341.4h4v4h-4zM396.5 1302.7h4v4h-4zM400 1349h4v4h-4zM385.7 1341.7h4v4h-4zM394 1358.3h4v4h-4zM399.4 1363h4v4h-4zM392.7 1279.5h4v4h-4zM422 1337.7h4v4h-4zM388.1 1330.2h4v4h-4zM390.2 1364.1h4v4h-4zM394.4 1358.9h4v4h-4zM399.4 1347.7h4v4h-4zM392.6 1356.9h4v4h-4zM427.5 1337.8h4v4h-4zM401.7 1363.8h4v4h-4zM417.6 1318.1h4v4h-4zM429.4 1359.5h4v4h-4zM427 1357.6h4v4h-4zM397 1334.7h4v4h-4zM423.6 1357.7h4v4h-4zM415.5 1332.4h4v4h-4zM417.6 1338.3h4v4h-4zM415.8 1346.6h4v4h-4zM386.5 1351.9h4v4h-4zM401.2 1364.2h4v4h-4zM411.8 1354.2h4v4h-4zM408.6 1298.5h4v4h-4zM410.6 1346.3h4v4h-4zM417.9 1357.6h4v4h-4zM385.2 1362.8h4v4h-4zM423.5 1359.3h4v4h-4zM419.6 1338.9h4v4h-4zM437.1 1330.4h4v4h-4zM385.5 1360.7h4v4h-4zM401.6 1364.2h4v4h-4zM438.1 1362.6h4v4h-4zM386.7 1340.2h4v4h-4zM392.7 1361.8h4v4h-4zM413.9 1361.8h4v4h-4zM409 1360h4v4h-4zM410.7 1352.3h4v4h-4zM406.5 1345.9h4v4h-4zM392.7 1363.9h4v4h-4zM440.8 1354h4v4h-4zM409.6 1341.1h4v4h-4zM403.9 1289.1h4v4h-4zM417.2 1331.8h4v4h-4zM404.6 1300.5h4v4h-4zM420.7 1355.6h4v4h-4zM393.8 1332.5h4v4h-4zM419.8 1351.5h4v4h-4zM418.7 1361.8h4v4h-4zM412.9 1310.7h4v4h-4zM412.1 1278.9h4v4h-4zM422.9 1305.4h4v4h-4zM391.7 1336.2h4v4h-4zM390.4 1351h4v4h-4zM425 1324h4v4h-4zM412.4 1356.1h4v4h-4zM424.2 1359.3h4v4h-4zM393.1 1352.7h4v4h-4zM410.7 1313.9h4v4h-4zM384.2 1353.8h4v4h-4zM396.6 1364.9h4v4h-4zM431.2 1236.7h4v4h-4zM417.8 1357.9h4v4h-4zM404.9 1312.5h4v4h-4zM398.7 1354.7h4v4h-4zM416.3 1328.5h4v4h-4zM429.3 1360.5h4v4h-4zM391.5 1358.9h4v4h-4zM392.2 1364h4v4h-4zM415.8 1329.6h4v4h-4zM413.2 1362.2h4v4h-4zM410.3 1318h4v4h-4zM391.5 1312.6h4v4h-4zM399.6 1337.3h4v4h-4zM386.6 1364.2h4v4h-4zM412.4 1344.5h4v4h-4zM391.6 1318.1h4v4h-4zM425.2 1335h4v4h-4zM424.3 1343.2h4v4h-4zM398.3 1334.5h4v4h-4zM406.7 1324.8h4v4h-4zM396 1364.7h4v4h-4zM408.2 1340.2h4v4h-4zM412.3 1363.4h4v4h-4zM421 1334.1h4v4h-4zM407.7 1355.7h4v4h-4zM426.6 1321h4v4h-4zM406.7 1347.1h4v4h-4zM386.4 1353.1h4v4h-4zM427.5 1351.2h4v4h-4zM403.7 1360.6h4v4h-4zM405.2 1340.1h4v4h-4zM425.6 1355.6h4v4h-4zM440.7 1358.5h4v4h-4zM390.8 1347.2h4v4h-4zM389.8 1305.3h4v4h-4zM405.4 1334.6h4v4h-4zM443.9 1339.9h4v4h-4zM420.5 1354h4v4h-4zM425.6 1361.9h4v4h-4zM421 1347.9h4v4h-4zM422.6 1358.8h4v4h-4zM426.8 1347.8h4v4h-4zM387.3 1358.7h4v4h-4zM413.6 1295.6h4v4h-4zM426.3 1354.6h4v4h-4zM417.3 1322.2h4v4h-4zM428.6 1360.9h4v4h-4zM410.6 1310.9h4v4h-4zM418.8 1354.7h4v4h-4zM404.5 1326.5h4v4h-4zM406.3 1332.8h4v4h-4zM394.6 1361.6h4v4h-4zM414.5 1317.7h4v4h-4zM392.4 1352.8h4v4h-4zM417.2 1265.8h4v4h-4zM420 1340.4h4v4h-4zM429.1 1339.7h4v4h-4zM401.7 1350.9h4v4h-4zM414.4 1350.7h4v4h-4zM423.6 1353.3h4v4h-4zM423.2 1321.6h4v4h-4zM396 1351.8h4v4h-4zM435.1 1354.8h4v4h-4zM403.5 1296.4h4v4h-4zM413.8 1361.6h4v4h-4zM402.6 1304.9h4v4h-4zM424.8 1326.6h4v4h-4zM393.6 1353.3h4v4h-4zM397.1 1355.7h4v4h-4zM425.5 1329.7h4v4h-4zM394.6 1321.2h4v4h-4zM434.6 1361.6h4v4h-4zM413.6 1340.1h4v4h-4zM386.6 1340.3h4v4h-4zM429.4 1350.2h4v4h-4zM424.6 1353h4v4h-4zM421.8 1341.9h4v4h-4zM388.3 1362.4h4v4h-4zM391 1362.4h4v4h-4zM419.5 1303.6h4v4h-4zM420.4 1337h4v4h-4zM409.2 1335.1h4v4h-4zM417.4 1350.6h4v4h-4zM420.9 1333.5h4v4h-4zM395.3 1317.9h4v4h-4zM429 1363.7h4v4h-4zM405.8 1355h4v4h-4zM420.4 1342.6h4v4h-4zM421.6 1354.1h4v4h-4zM387.9 1365h4v4h-4zM403.3 1306.8h4v4h-4zM415.4 1325.5h4v4h-4zM393.8 1350.6h4v4h-4zM415.7 1348.2h4v4h-4zM393 1362h4v4h-4zM384.9 1344.4h4v4h-4zM395.3 1247.4h4v4h-4zM394.1 1317.8h4v4h-4zM427.4 1326.9h4v4h-4zM391.6 1358.7h4v4h-4zM426.6 1357.9h4v4h-4zM400.8 1347.7h4v4h-4zM417.7 1357.5h4v4h-4zM406.1 1324.6h4v4h-4zM405.5 1348h4v4h-4zM400.1 1333.8h4v4h-4zM386.9 1342.4h4v4h-4zM385.8 1351.8h4v4h-4zM428.2 1362.8h4v4h-4zM405.9 1315.9h4v4h-4zM390.6 1352.6h4v4h-4zM402.3 1340.9h4v4h-4zM384.8 1359.8h4v4h-4zM418 1325.9h4v4h-4zM397.7 1322.8h4v4h-4zM418.5 1354.8h4v4h-4zM400.7 1355.3h4v4h-4zM396.6 1347.8h4v4h-4zM412.6 1320.1h4v4h-4zM395.6 1278.6h4v4h-4zM399.5 1320.9h4v4h-4zM415.9 1349.2h4v4h-4zM424.6 1358.8h4v4h-4zM402.8 1345.7h4v4h-4zM428.1 1355.7h4v4h-4zM388.2 1340.6h4v4h-4zM399.9 1357.4h4v4h-4zM387.2 1358h4v4h-4zM402.9 1350.6h4v4h-4zM385.6 1342.5h4v4h-4zM407.5 1334.7h4v4h-4zM386.7 1352.2h4v4h-4zM389.4 1355.5h4v4h-4zM384.5 1364.2h4v4h-4zM406 1308h4v4h-4zM391.1 1344.9h4v4h-4zM407.8 1323.5h4v4h-4zM407.6 1353.6h4v4h-4zM425.5 1322.6h4v4h-4zM406.2 1330.1h4v4h-4zM408.8 1344.4h4v4h-4zM388.6 1318.8h4v4h-4zM412.4 1327.3h4v4h-4zM416.2 1300.5h4v4h-4zM391.9 1352.3h4v4h-4zM419.3 1342.6h4v4h-4zM398.7 1346.9h4v4h-4zM400.7 1307h4v4h-4zM420.3 1329.3h4v4h-4zM429.4 1356.3h4v4h-4zM443.9 1329.5h4v4h-4zM415.1 1344.7h4v4h-4zM440.7 1353.9h4v4h-4zM406.5 1291.4h4v4h-4zM389.2 1356.4h4v4h-4zM406.2 1354h4v4h-4zM427.9 1349.6h4v4h-4zM422.4 1292.6h4v4h-4zM405.5 1358h4v4h-4zM401 1337.2h4v4h-4zM397 1364.5h4v4h-4zM387.5 1329.6h4v4h-4zM420.8 1357.7h4v4h-4zM391.6 1303.5h4v4h-4zM407.9 1273h4v4h-4zM408.4 1327.9h4v4h-4zM415 1356.5h4v4h-4zM391 1354.4h4v4h-4zM428.5 1358.1h4v4h-4zM423.3 1295h4v4h-4zM389.5 1318.5h4v4h-4zM423 1329.5h4v4h-4zM430.6 1363.8h4v4h-4zM430.2 1346.9h4v4h-4zM415.2 1349h4v4h-4zM414.2 1333.1h4v4h-4zM417.9 1363.1h4v4h-4zM395.2 1321.2h4v4h-4zM409.8 1348.8h4v4h-4zM409.3 1361.9h4v4h-4zM394.3 1357.4h4v4h-4zM426.7 1350.5h4v4h-4zM439.7 1334.5h4v4h-4zM412.9 1339.7h4v4h-4zM387.5 1353.2h4v4h-4zM428 1335.5h4v4h-4zM413 1299.7h4v4h-4zM421.9 1320.4h4v4h-4zM413.8 1364.6h4v4h-4zM402.4 1311.3h4v4h-4zM413.2 1364.9h4v4h-4zM429.6 1313.3h4v4h-4zM402.8 1348.2h4v4h-4zM400.2 1364.7h4v4h-4zM388.6 1356.3h4v4h-4zM389.9 1355.2h4v4h-4zM421.5 1340.4h4v4h-4zM393.3 1353.8h4v4h-4zM385.4 1344.6h4v4h-4zM397.7 1355.3h4v4h-4zM396.8 1346.9h4v4h-4zM406.8 1344.3h4v4h-4zM420.1 1356h4v4h-4zM424.4 1332.4h4v4h-4zM393.8 1328.5h4v4h-4zM429.8 1327.8h4v4h-4zM411 1324.7h4v4h-4zM391.2 1338.6h4v4h-4zM402 1356.5h4v4h-4zM395.9 1363h4v4h-4zM412.4 1358.4h4v4h-4zM426.4 1354.6h4v4h-4zM399.1 1238.3h4v4h-4zM422.2 1318.1h4v4h-4zM444.7 1362.9h4v4h-4zM408.6 1361.3h4v4h-4zM386.4 1365h4v4h-4zM408.3 1306.2h4v4h-4zM428.9 1349h4v4h-4zM427.4 1363.9h4v4h-4zM430.5 1334.4h4v4h-4zM420.1 1332.3h4v4h-4zM408.9 1341.7h4v4h-4zM425.6 1356.3h4v4h-4zM401.3 1353.4h4v4h-4zM445.7 1359.3h4v4h-4zM412 1327.4h4v4h-4zM385.9 1363.3h4v4h-4zM428.5 1339.4h4v4h-4zM394.4 1355.5h4v4h-4zM415.5 1360.7h4v4h-4zM428.4 1350.3h4v4h-4zM409 1354.8h4v4h-4zM422.9 1362.1h4v4h-4zM429.8 1309h4v4h-4zM423 1357.9h4v4h-4zM392.6 1329.9h4v4h-4zM410.7 1272.8h4v4h-4zM426.7 1363.6h4v4h-4zM385.6 1363.1h4v4h-4zM390.5 1307.7h4v4h-4zM404.4 1353.1h4v4h-4zM389.4 1339.2h4v4h-4zM412.7 1344.4h4v4h-4zM422.3 1320.4h4v4h-4zM421.1 1357.4h4v4h-4zM409 1364.9h4v4h-4zM416.6 1331.1h4v4h-4zM406.5 1358.2h4v4h-4zM388.2 1356.1h4v4h-4zM387.7 1333h4v4h-4zM423.8 1361.5h4v4h-4zM429.2 1307.5h4v4h-4zM428.2 1360h4v4h-4zM392 1358.7h4v4h-4zM412.3 1362.6h4v4h-4zM425.3 1347.5h4v4h-4z" fill="#fc2b12"/>
<rect x="1449" y="641.7" width="490.5" height="19.4" fill="#5b9d22" rx="1.5"/>
<line x1="1433.9" y1="651.4" x2="1446" y2="651.4" stroke="#000" stroke-width="6.3"/>
<text x="1078.84" y="658.6" font-size="22.6" font-weight="bold" textLength="353.27" lengthAdjust="spacingAndGlyphs">oligodendrocyte differentiation</text>
<rect x="1449" y="672.75" width="269.1" height="19.4" fill="#5b9d22" rx="1.5"/>
<line x1="1433.9" y1="682.45" x2="1446" y2="682.45" stroke="#000" stroke-width="6.3"/>
<text x="1299.94" y="689.65" font-size="22.6" font-weight="bold" textLength="131.65" lengthAdjust="spacingAndGlyphs">gliogenesis</text>
<rect x="1449" y="703.8" width="259.7" height="19.4" fill="#5b9d22" rx="1.5"/>
<line x1="1433.9" y1="713.5" x2="1446" y2="713.5" stroke="#000" stroke-width="6.3"/>
<text x="1172.35" y="720.7" font-size="22.6" font-weight="bold" textLength="259.7" lengthAdjust="spacingAndGlyphs">glial cell differentiation</text>
<rect x="1449" y="734.85" width="212.2" height="19.4" fill="#5b9d22" rx="1.5"/>
<line x1="1433.9" y1="744.55" x2="1446" y2="744.55" stroke="#000" stroke-width="6.3"/>
<text x="1088.94" y="751.75" font-size="22.6" font-weight="bold" textLength="342.01" lengthAdjust="spacingAndGlyphs">oligodendrocyte development</text>
<rect x="1449" y="765.9" width="205" height="19.4" fill="#5b9d22" rx="1.5"/>
<line x1="1433.9" y1="775.6" x2="1446" y2="775.6" stroke="#000" stroke-width="6.3"/>
<text x="1297.53" y="782.8" font-size="22.6" font-weight="bold" textLength="134.57" lengthAdjust="spacingAndGlyphs">myelination</text>
<rect x="1449" y="796.95" width="201.2" height="19.4" fill="#5b9d22" rx="1.5"/>
<line x1="1433.9" y1="806.65" x2="1446" y2="806.65" stroke="#000" stroke-width="6.3"/>
<text x="1148.85" y="813.85" font-size="22.6" font-weight="bold" textLength="282.7" lengthAdjust="spacingAndGlyphs">regulation of gliogenesis</text>
<rect x="1449" y="828" width="197.3" height="19.4" fill="#5b9d22" rx="1.5"/>
<line x1="1433.9" y1="837.7" x2="1446" y2="837.7" stroke="#000" stroke-width="6.3"/>
<text x="1202.67" y="844.9" font-size="22.6" font-weight="bold" textLength="228.21" lengthAdjust="spacingAndGlyphs">axon ensheathment</text>
<rect x="1449" y="859.05" width="197.3" height="19.4" fill="#5b9d22" rx="1.5"/>
<line x1="1433.9" y1="868.75" x2="1446" y2="868.75" stroke="#000" stroke-width="6.3"/>
<text x="1136.03" y="875.95" font-size="22.6" font-weight="bold" textLength="295.51" lengthAdjust="spacingAndGlyphs">ensheathment of neurons</text>
<rect x="1449" y="890.1" width="154" height="19.4" fill="#5b9d22" rx="1.5"/>
<line x1="1433.9" y1="899.8" x2="1446" y2="899.8" stroke="#000" stroke-width="6.3"/>
<text x="928.14" y="907" font-size="22.6" font-weight="bold" textLength="503.92" lengthAdjust="spacingAndGlyphs">regulation of oligodendrocyte differentiation</text>
<rect x="1449" y="921.15" width="150.6" height="19.4" fill="#5b9d22" rx="1.5"/>
<line x1="1433.9" y1="930.85" x2="1446" y2="930.85" stroke="#000" stroke-width="6.3"/>
<text x="1052.15" y="938.05" font-size="22.6" font-weight="bold" textLength="379.44" lengthAdjust="spacingAndGlyphs">positive regulation of gliogenesis</text>
<rect x="1449" y="952.2" width="150.6" height="19.4" fill="#5b9d22" rx="1.5"/>
<line x1="1433.9" y1="961.9" x2="1446" y2="961.9" stroke="#000" stroke-width="6.3"/>
<text x="1021.35" y="969.1" font-size="22.6" font-weight="bold" textLength="410.65" lengthAdjust="spacingAndGlyphs">regulation of glial cell differentiation</text>
<rect x="1449" y="983.25" width="140.2" height="19.4" fill="#5b9d22" rx="1.5"/>
<line x1="1433.9" y1="992.95" x2="1446" y2="992.95" stroke="#000" stroke-width="6.3"/>
<text x="1182.14" y="1000.15" font-size="22.6" font-weight="bold" textLength="248.75" lengthAdjust="spacingAndGlyphs">glial cell development</text>
<rect x="1449" y="1014.3" width="424" height="19.4" fill="#000" rx="1.5"/>
<line x1="1433.9" y1="1024" x2="1446" y2="1024" stroke="#000" stroke-width="6.3"/>
<text x="800.95" y="1031.2" font-size="22.6" font-weight="bold" textLength="629.83" lengthAdjust="spacingAndGlyphs">negative regulation of canonical Wnt signaling pathway</text>
<rect x="1449" y="1045.35" width="351.9" height="19.4" fill="#000" rx="1.5"/>
<line x1="1433.9" y1="1055.05" x2="1446" y2="1055.05" stroke="#000" stroke-width="6.3"/>
<text x="918.75" y="1062.25" font-size="22.6" font-weight="bold" textLength="512.01" lengthAdjust="spacingAndGlyphs">negative regulation of Wnt signaling pathway</text>
<rect x="1449" y="1076.4" width="219.2" height="19.4" fill="#000" rx="1.5"/>
<line x1="1433.9" y1="1086.1" x2="1446" y2="1086.1" stroke="#000" stroke-width="6.3"/>
<text x="906.05" y="1093.3" font-size="22.6" font-weight="bold" textLength="524.72" lengthAdjust="spacingAndGlyphs">regulation of canonical Wnt signaling pathway</text>
<rect x="1449" y="1107.45" width="132.9" height="19.4" fill="#000" rx="1.5"/>
<line x1="1433.9" y1="1117.15" x2="1446" y2="1117.15" stroke="#000" stroke-width="6.3"/>
<text x="1023.86" y="1124.35" font-size="22.6" font-weight="bold" textLength="406.9" lengthAdjust="spacingAndGlyphs">regulation of Wnt signaling pathway</text>
<rect x="1449" y="1138.5" width="129.4" height="19.4" fill="#000" rx="1.5"/>
<line x1="1433.9" y1="1148.2" x2="1446" y2="1148.2" stroke="#000" stroke-width="6.3"/>
<text x="1056.35" y="1155.4" font-size="22.6" font-weight="bold" textLength="374.36" lengthAdjust="spacingAndGlyphs">canonical Wnt signaling pathway</text>
<rect x="1449" y="1169.55" width="383" height="19.4" fill="#51a4fd" rx="1.5"/>
<line x1="1433.9" y1="1179.25" x2="1446" y2="1179.25" stroke="#000" stroke-width="6.3"/>
<text x="1086.51" y="1186.45" font-size="22.6" font-weight="bold" textLength="344.36" lengthAdjust="spacingAndGlyphs">nervous system development</text>
<rect x="1449" y="1200.6" width="317.2" height="19.4" fill="#51a4fd" rx="1.5"/>
<line x1="1433.9" y1="1210.3" x2="1446" y2="1210.3" stroke="#000" stroke-width="6.3"/>
<text x="1273.22" y="1217.5" font-size="22.6" font-weight="bold" textLength="158.41" lengthAdjust="spacingAndGlyphs">neurogenesis</text>
<rect x="1449" y="1231.65" width="279.8" height="19.4" fill="#51a4fd" rx="1.5"/>
<line x1="1433.9" y1="1241.35" x2="1446" y2="1241.35" stroke="#000" stroke-width="6.3"/>
<text x="838.93" y="1248.55" font-size="22.6" font-weight="bold" textLength="591.93" lengthAdjust="spacingAndGlyphs">positive regulation of nervous system development</text>
<rect x="1449" y="1262.7" width="224.4" height="19.4" fill="#51a4fd" rx="1.5"/>
<line x1="1433.9" y1="1272.4" x2="1446" y2="1272.4" stroke="#000" stroke-width="6.3"/>
<text x="1026.04" y="1279.6" font-size="22.6" font-weight="bold" textLength="405.57" lengthAdjust="spacingAndGlyphs">positive regulation of neurogenesis</text>
<rect x="1449" y="1293.75" width="223.7" height="19.4" fill="#51a4fd" rx="1.5"/>
<line x1="1433.9" y1="1303.45" x2="1446" y2="1303.45" stroke="#000" stroke-width="6.3"/>
<text x="936.12" y="1310.65" font-size="22.6" font-weight="bold" textLength="494.82" lengthAdjust="spacingAndGlyphs">regulation of nervous system development</text>
<rect x="1449" y="1324.8" width="203.6" height="19.4" fill="#51a4fd" rx="1.5"/>
<line x1="1433.9" y1="1334.5" x2="1446" y2="1334.5" stroke="#000" stroke-width="6.3"/>
<text x="1017.63" y="1341.7" font-size="22.6" font-weight="bold" textLength="413.94" lengthAdjust="spacingAndGlyphs">negative regulation of neurogenesis</text>
<rect x="1449" y="1355.85" width="202.5" height="19.4" fill="#51a4fd" rx="1.5"/>
<line x1="1433.9" y1="1365.55" x2="1446" y2="1365.55" stroke="#000" stroke-width="6.3"/>
<text x="1122.74" y="1372.75" font-size="22.6" font-weight="bold" textLength="308.83" lengthAdjust="spacingAndGlyphs">regulation of neurogenesis</text>
<rect x="1449" y="1386.9" width="201.5" height="19.4" fill="#51a4fd" rx="1.5"/>
<line x1="1433.9" y1="1396.6" x2="1446" y2="1396.6" stroke="#000" stroke-width="6.3"/>
<text x="999.42" y="1403.8" font-size="22.6" font-weight="bold" textLength="431.5" lengthAdjust="spacingAndGlyphs">central nervous system development</text>
<rect x="1449" y="1417.95" width="189.7" height="19.4" fill="#51a4fd" rx="1.5"/>
<line x1="1433.9" y1="1427.65" x2="1446" y2="1427.65" stroke="#000" stroke-width="6.3"/>
<text x="1177.74" y="1434.85" font-size="22.6" font-weight="bold" textLength="253.86" lengthAdjust="spacingAndGlyphs">generation of neurons</text>
<rect x="1449" y="1449" width="137.8" height="19.4" fill="#51a4fd" rx="1.5"/>
<line x1="1433.9" y1="1458.7" x2="1446" y2="1458.7" stroke="#000" stroke-width="6.3"/>
<text x="928.84" y="1465.9" font-size="22.6" font-weight="bold" textLength="503.23" lengthAdjust="spacingAndGlyphs">negative regulation of neuron differentiation</text>
<line x1="1446.6" y1="636.5" x2="1446.6" y2="1477.8" stroke="#000" stroke-width="6.9"/>
<line x1="1443.1" y1="1474.6" x2="2043.4" y2="1474.6" stroke="#000" stroke-width="6.3"/>
<line x1="1446.8" y1="1474" x2="1446.8" y2="1486.3" stroke="#000" stroke-width="6.5"/>
<text x="1439.59" y="1513.4" font-size="26" font-weight="bold">0</text>
<line x1="1644.3" y1="1474" x2="1644.3" y2="1486.3" stroke="#000" stroke-width="6.5"/>
<text x="1637.15" y="1513.4" font-size="26" font-weight="bold">2</text>
<line x1="1841.8" y1="1474" x2="1841.8" y2="1486.3" stroke="#000" stroke-width="6.5"/>
<text x="1834.45" y="1513.4" font-size="26" font-weight="bold">4</text>
<line x1="2039.8" y1="1474" x2="2039.8" y2="1486.3" stroke="#000" stroke-width="6.5"/>
<text x="2032.59" y="1513.4" font-size="26" font-weight="bold">6</text>
<text x="1584.26" y="1559.4" font-size="26.5" font-weight="bold" textLength="319.14" lengthAdjust="spacingAndGlyphs">-log10 adjusted P-value</text>
<rect x="1766.8" y="1351.5" width="35.5" height="24" fill="#5b9d22"/>
<rect x="1766.8" y="1383.5" width="35.5" height="24.1" fill="#000"/>
<rect x="1766.8" y="1416" width="35.5" height="24.4" fill="#51a4fd"/>
<text x="1817.53" y="1372.8" font-size="26" textLength="127.05" lengthAdjust="spacingAndGlyphs">OL/Myelin</text>
<text x="1818.66" y="1404.8" font-size="26" textLength="170.64" lengthAdjust="spacingAndGlyphs">Wnt Signaling</text>
<text x="1817.4" y="1436.7" font-size="26" textLength="227.25" lengthAdjust="spacingAndGlyphs">CNS development</text>
<rect x="3.4" y="1711.8" width="896.6" height="44.6" fill="#000"/>
<text x="15.98" y="1741.7" font-size="20" font-weight="bold" fill="#fff" textLength="110.96" lengthAdjust="spacingAndGlyphs">GO Category</text>
<text x="160.59" y="1741.7" font-size="20" font-weight="bold" fill="#fff" textLength="197.01" lengthAdjust="spacingAndGlyphs">Downregulated Genes</text>
<line x1="3.4" y1="1800.7" x2="900" y2="1800.7" stroke="#000" stroke-width="2"/>
<line x1="3.4" y1="1865.3" x2="900" y2="1865.3" stroke="#000" stroke-width="2"/>
<text x="15.91" y="1785.6" font-size="20.5" font-weight="bold" textLength="94.34" lengthAdjust="spacingAndGlyphs">OL/Myelin</text>
<text x="16.7" y="1826.8" font-size="20.5" font-weight="bold" textLength="36.24" lengthAdjust="spacingAndGlyphs">Wnt</text>
<text x="16.17" y="1853.8" font-size="20.5" font-weight="bold" textLength="80.09" lengthAdjust="spacingAndGlyphs">Signaling</text>
<text x="16.03" y="1923.7" font-size="20.5" font-weight="bold" textLength="35.59" lengthAdjust="spacingAndGlyphs">CNS</text>
<text x="15.47" y="1949.4" font-size="20.5" font-weight="bold" textLength="119.21" lengthAdjust="spacingAndGlyphs">Development</text>
<text x="151.1" y="1776.5" font-size="16.8" font-style="italic" textLength="722.87" lengthAdjust="spacingAndGlyphs">ZFP488, SIRT2, ZFP365, SOX10, OLIG2, NKX2-2, HDAC2, CD9, SOX8, DUSP15, MAG, MYRF, PLP1, MBP,</text>
<text x="150" y="1797.4" font-size="16.8" font-style="italic" textLength="398.91" lengthAdjust="spacingAndGlyphs">CCL2, MYC, SH3TC2, CSPG4, KDM4A, SERINC5, GAL3ST1</text>
<text x="150.36" y="1841.5" font-size="16.8" font-style="italic" textLength="561.92" lengthAdjust="spacingAndGlyphs">NKD2, PRICKLE1, TCF7L2, SOX2, SOX10, PTPRO, RAPGEF1, TLE2, TLE6, FAM53B</text>
<text x="150.36" y="1885.2" font-size="16.8" font-style="italic" textLength="702.24" lengthAdjust="spacingAndGlyphs">PRICKLE1, ZFP488, MACO1, SOX2, FYN, HMG20A, CCL2, PLXNB3, SIRT2, SERINC5, ZFP365, PROM1,</text>
<text x="150.37" y="1906.5" font-size="16.8" font-style="italic" textLength="745.31" lengthAdjust="spacingAndGlyphs">RASSF10, PBX3, SOX10, ACVR1B, SEMA5B, PTPRO, SKIL, BZW2, RAPGEF1, OLIG2, SSPO, SEZ6L, RAP1GAP,</text>
<text x="150.35" y="1927.3" font-size="16.8" font-style="italic" textLength="708.52" lengthAdjust="spacingAndGlyphs">RAB3A, FAIM2, SLIT3, GAL3ST1, H3F3B, NKX2-2, RAPGEF2, BMP4, LRRTM2, ACAP3, CUX2, CDKN1C,</text>
<text x="150.36" y="1948.2" font-size="16.8" font-style="italic" textLength="726.07" lengthAdjust="spacingAndGlyphs">KDM4A, PLPPR5, RGS2, HDAC2, ACSL3, EPHB1, CD9, JAG2, CYFIP2, MYC, DIXDC1, HAP1, DNM3, GLRB,</text>
<text x="150.36" y="1969" font-size="16.8" font-style="italic" textLength="732.31" lengthAdjust="spacingAndGlyphs">KIRREL3, SOX12, UST, PLAA, KIF26A, SEMA5A, SOX8, ATCAY, DUSP15, SH3TC2, CSPG4, TBC1D23, MAG,</text>
<text x="150.35" y="1989.9" font-size="16.8" font-style="italic" textLength="126.89" lengthAdjust="spacingAndGlyphs">MYRF, PLP1, MBP</text>
<rect x="1138.5" y="1775.25" width="17.3" height="241.95" fill="#000" rx="1.2"/>
<line x1="1147.15" y1="2049" x2="1147.15" y2="2060.5" stroke="#000" stroke-width="4.2"/>
<text transform="translate(1156.15 2119.83) rotate(-90)" font-size="26">MAG</text>
<rect x="1165.59" y="1775.25" width="17.3" height="184.55" fill="#000" rx="1.2"/>
<line x1="1174.24" y1="2049" x2="1174.24" y2="2060.5" stroke="#000" stroke-width="4.2"/>
<text transform="translate(1183.24 2110.34) rotate(-90)" font-size="26">PLP</text>
<rect x="1192.68" y="1775.25" width="17.3" height="147.95" fill="#000" rx="1.2"/>
<line x1="1201.33" y1="2049" x2="1201.33" y2="2060.5" stroke="#000" stroke-width="4.2"/>
<text transform="translate(1210.33 2117.49) rotate(-90)" font-size="26">MBP</text>
<rect x="1219.77" y="1775.25" width="17.3" height="127.55" fill="#fc2b12" rx="1.2"/>
<line x1="1228.42" y1="2049" x2="1228.42" y2="2060.5" stroke="#000" stroke-width="4.2"/>
<text transform="translate(1237.42 2135.17) rotate(-90)" font-size="26" font-weight="bold">MYRF</text>
<rect x="1246.86" y="1775.25" width="17.3" height="90.45" fill="#000" rx="1.2"/>
<line x1="1255.51" y1="2049" x2="1255.51" y2="2060.5" stroke="#000" stroke-width="4.2"/>
<text transform="translate(1264.51 2142.06) rotate(-90)" font-size="26">Shc3t2</text>
<rect x="1273.95" y="1775.25" width="17.3" height="60.75" fill="#000" rx="1.2"/>
<line x1="1282.6" y1="2049" x2="1282.6" y2="2060.5" stroke="#000" stroke-width="4.2"/>
<text transform="translate(1291.6 2152.2) rotate(-90)" font-size="26">NKX2-2</text>
<rect x="1301.04" y="1775.25" width="17.3" height="54.15" fill="#000" rx="1.2"/>
<line x1="1309.69" y1="2049" x2="1309.69" y2="2060.5" stroke="#000" stroke-width="4.2"/>
<text transform="translate(1318.69 2142.32) rotate(-90)" font-size="26">Zfp488</text>
<rect x="1328.13" y="1775.25" width="17.3" height="49.25" fill="#000" rx="1.2"/>
<line x1="1336.78" y1="2049" x2="1336.78" y2="2060.5" stroke="#000" stroke-width="4.2"/>
<text transform="translate(1345.78 2153.76) rotate(-90)" font-size="26">Prickle1</text>
<rect x="1355.22" y="1775.25" width="17.3" height="48.95" fill="#000" rx="1.2"/>
<line x1="1363.87" y1="2049" x2="1363.87" y2="2060.5" stroke="#000" stroke-width="4.2"/>
<text transform="translate(1372.87 2123.6) rotate(-90)" font-size="26">Ptpro</text>
<rect x="1382.31" y="1775.25" width="17.3" height="40.65" fill="#000" rx="1.2"/>
<line x1="1390.96" y1="2049" x2="1390.96" y2="2060.5" stroke="#000" stroke-width="4.2"/>
<text transform="translate(1399.96 2121.91) rotate(-90)" font-size="26">Nkd2</text>
<rect x="1409.4" y="1775.25" width="17.3" height="38.35" fill="#fc2b12" rx="1.2"/>
<line x1="1418.05" y1="2049" x2="1418.05" y2="2060.5" stroke="#000" stroke-width="4.2"/>
<text transform="translate(1427.05 2164.03) rotate(-90)" font-size="26" font-weight="bold">Rapgef2</text>
<rect x="1436.49" y="1775.25" width="17.3" height="36.35" fill="#000" rx="1.2"/>
<line x1="1445.14" y1="2049" x2="1445.14" y2="2060.5" stroke="#000" stroke-width="4.2"/>
<text transform="translate(1454.14 2149.34) rotate(-90)" font-size="26">HDAC2</text>
<rect x="1463.58" y="1775.25" width="17.3" height="34.55" fill="#fc2b12" rx="1.2"/>
<line x1="1472.23" y1="2049" x2="1472.23" y2="2060.5" stroke="#000" stroke-width="4.2"/>
<text transform="translate(1481.23 2155.71) rotate(-90)" font-size="26" font-weight="bold">Serinc5</text>
<rect x="1490.67" y="1775.25" width="17.3" height="34.35" fill="#000" rx="1.2"/>
<line x1="1499.32" y1="2049" x2="1499.32" y2="2060.5" stroke="#000" stroke-width="4.2"/>
<text transform="translate(1508.32 2142.32) rotate(-90)" font-size="26">Zfp365</text>
<rect x="1517.76" y="1775.25" width="17.3" height="34.35" fill="#000" rx="1.2"/>
<line x1="1526.41" y1="2049" x2="1526.41" y2="2060.5" stroke="#000" stroke-width="4.2"/>
<text transform="translate(1535.41 2135.3) rotate(-90)" font-size="26">Sox10</text>
<rect x="1544.85" y="1775.25" width="17.3" height="33.75" fill="#000" rx="1.2"/>
<line x1="1553.5" y1="2049" x2="1553.5" y2="2060.5" stroke="#000" stroke-width="4.2"/>
<text transform="translate(1562.5 2133.48) rotate(-90)" font-size="26">Gpr17</text>
<rect x="1571.94" y="1775.25" width="17.3" height="33.15" fill="#000" rx="1.2"/>
<line x1="1580.59" y1="2049" x2="1580.59" y2="2060.5" stroke="#000" stroke-width="4.2"/>
<text transform="translate(1589.59 2120.74) rotate(-90)" font-size="26">Sox8</text>
<rect x="1599.03" y="1775.25" width="17.3" height="30.45" fill="#000" rx="1.2"/>
<line x1="1607.68" y1="2049" x2="1607.68" y2="2060.5" stroke="#000" stroke-width="4.2"/>
<text transform="translate(1616.68 2151.03) rotate(-90)" font-size="26">Dusp15</text>
<rect x="1626.12" y="1775.25" width="17.3" height="26.35" fill="#fc2b12" rx="1.2"/>
<line x1="1634.77" y1="2049" x2="1634.77" y2="2060.5" stroke="#000" stroke-width="4.2"/>
<text transform="translate(1643.77 2123.6) rotate(-90)" font-size="26" font-weight="bold">Sox2</text>
<rect x="1653.21" y="1775.25" width="17.3" height="26.15" fill="#000" rx="1.2"/>
<line x1="1661.86" y1="2049" x2="1661.86" y2="2060.5" stroke="#000" stroke-width="4.2"/>
<text transform="translate(1670.86 2121.91) rotate(-90)" font-size="26">Olig2</text>
<rect x="1680.3" y="1775.25" width="17.3" height="22.85" fill="#fc2b12" rx="1.2"/>
<line x1="1688.95" y1="2049" x2="1688.95" y2="2060.5" stroke="#000" stroke-width="4.2"/>
<text transform="translate(1697.95 2149.6) rotate(-90)" font-size="26" font-weight="bold">Acvr1b</text>
<rect x="1707.39" y="1775.25" width="17.3" height="22.25" fill="#fc2b12" rx="1.2"/>
<line x1="1716.04" y1="2049" x2="1716.04" y2="2060.5" stroke="#000" stroke-width="4.2"/>
<text transform="translate(1725.04 2134.65) rotate(-90)" font-size="26" font-weight="bold">Tcf7l2</text>
<rect x="1734.48" y="1775.25" width="17.3" height="18.55" fill="#000" rx="1.2"/>
<line x1="1743.13" y1="2049" x2="1743.13" y2="2060.5" stroke="#000" stroke-width="4.2"/>
<text transform="translate(1752.13 2114.63) rotate(-90)" font-size="26">Sirt2</text>
<rect x="1761.57" y="1722.4" width="17.3" height="52.85" fill="#000" rx="1.2"/>
<line x1="1770.22" y1="2049" x2="1770.22" y2="2060.5" stroke="#000" stroke-width="4.2"/>
<text transform="translate(1779.22 2143.62) rotate(-90)" font-size="26">Hmox1</text>
<rect x="1788.66" y="1715.8" width="17.3" height="59.45" fill="#000" rx="1.2"/>
<line x1="1797.31" y1="2049" x2="1797.31" y2="2060.5" stroke="#000" stroke-width="4.2"/>
<text transform="translate(1806.31 2137.64) rotate(-90)" font-size="26">Wnt7a</text>
<rect x="1815.75" y="1713" width="17.3" height="62.25" fill="#000" rx="1.2"/>
<line x1="1824.4" y1="2049" x2="1824.4" y2="2060.5" stroke="#000" stroke-width="4.2"/>
<text transform="translate(1833.4 2127.5) rotate(-90)" font-size="26">Mertk</text>
<rect x="1842.84" y="1689.6" width="17.3" height="85.65" fill="#000" rx="1.2"/>
<line x1="1851.49" y1="2049" x2="1851.49" y2="2060.5" stroke="#000" stroke-width="4.2"/>
<text transform="translate(1860.49 2113.07) rotate(-90)" font-size="26">Plek</text>
<rect x="1869.93" y="1660.8" width="17.3" height="114.45" fill="#000" rx="1.2"/>
<line x1="1878.58" y1="2049" x2="1878.58" y2="2060.5" stroke="#000" stroke-width="4.2"/>
<text transform="translate(1887.58 2120.09) rotate(-90)" font-size="26">Yap1</text>
<line x1="1133.9" y1="1651.7" x2="1133.9" y2="2052.6" stroke="#000" stroke-width="4.2"/>
<line x1="1131.8" y1="2050.4" x2="1892.3" y2="2050.4" stroke="#000" stroke-width="4.2"/>
<line x1="1131.8" y1="1775.25" x2="1892.3" y2="1775.25" stroke="#000" stroke-width="4.9"/>
<line x1="1126" y1="1652.7" x2="1134" y2="1652.7" stroke="#000" stroke-width="4.2"/>
<text x="1108.88" y="1660.1" font-size="21" font-weight="bold">2</text>
<line x1="1126" y1="1775.25" x2="1134" y2="1775.25" stroke="#000" stroke-width="4.2"/>
<text x="1108.88" y="1782.65" font-size="21" font-weight="bold">0</text>
<line x1="1126" y1="1897.3" x2="1134" y2="1897.3" stroke="#000" stroke-width="4.2"/>
<text x="1101.85" y="1904.7" font-size="21" font-weight="bold">-2</text>
<line x1="1126" y1="2019.4" x2="1134" y2="2019.4" stroke="#000" stroke-width="4.2"/>
<text x="1101.12" y="2026.8" font-size="21" font-weight="bold">-4</text>
<text transform="translate(1052.9 1969.55) rotate(-90)" font-size="21.5" font-weight="bold" textLength="254.07" lengthAdjust="spacingAndGlyphs">miR-145 vs miR-ctl</text>
<text transform="translate(1081 1969.74) rotate(-90)" font-size="21.5" font-weight="bold" textLength="244.83" lengthAdjust="spacingAndGlyphs">log2 Fold Change</text>
</svg></body></html>
